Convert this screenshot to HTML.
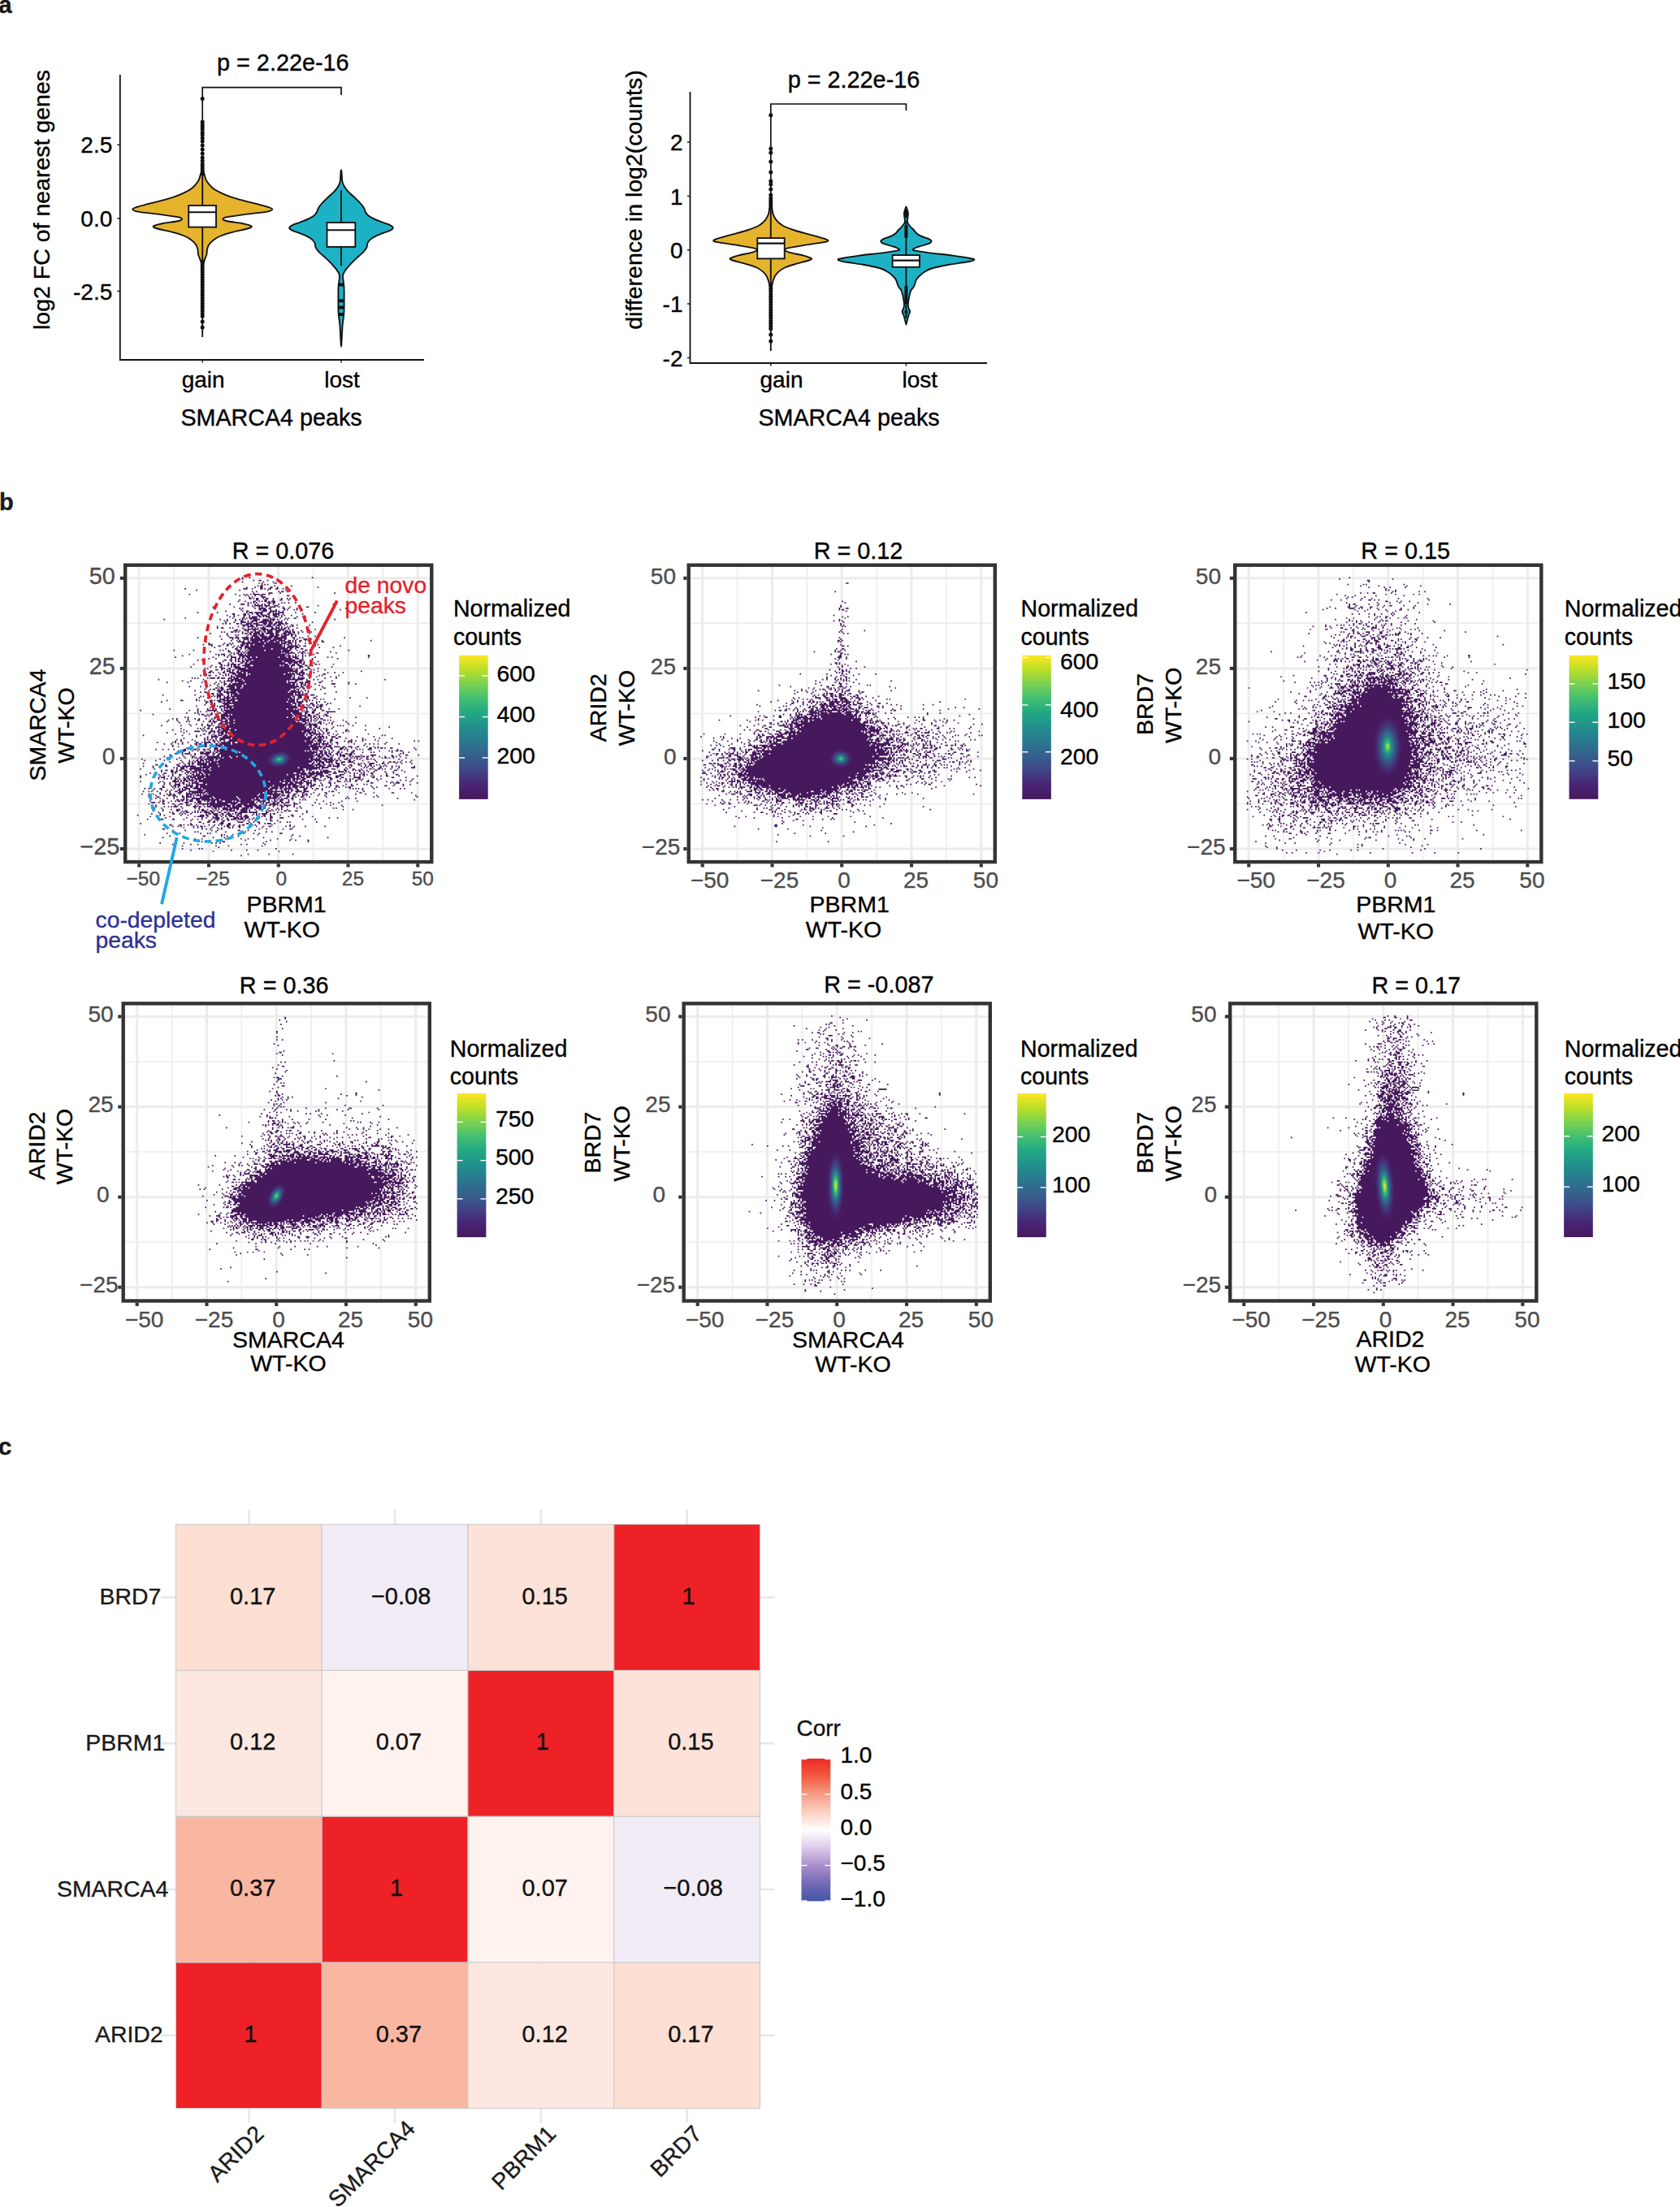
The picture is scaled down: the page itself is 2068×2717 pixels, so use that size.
<!DOCTYPE html>
<html lang="en"><head><meta charset="utf-8"><title>Figure</title>
<style>
html,body{margin:0;padding:0;background:#fff;}
body{width:2068px;height:2717px;overflow:hidden;}
svg{display:block;font-family:'Liberation Sans', Arial, Helvetica, sans-serif;}
text{stroke-width:0.35px;}
</style></head><body>
<svg width="2068" height="2717" viewBox="0 0 2068 2717">
<rect width="2068" height="2717" fill="#fff"/>
<text x="-1.8" y="15.7" font-size="29.5" text-anchor="start" fill="#1a1a1a" stroke="#1a1a1a" font-weight="bold">a</text>
<path d="M147.8 92V443H522" fill="none" stroke="#111" stroke-width="1.8"/>
<line x1="144.3" y1="178.2" x2="147.8" y2="178.2" stroke="#111" stroke-width="1.4"/>
<text x="138.3" y="188.2" font-size="28" text-anchor="end" fill="#000" stroke="#000">2.5</text>
<line x1="144.3" y1="268.8" x2="147.8" y2="268.8" stroke="#111" stroke-width="1.4"/>
<text x="138.3" y="278.8" font-size="28" text-anchor="end" fill="#000" stroke="#000">0.0</text>
<line x1="144.3" y1="358.5" x2="147.8" y2="358.5" stroke="#111" stroke-width="1.4"/>
<text x="138.3" y="368.5" font-size="28" text-anchor="end" fill="#000" stroke="#000">-2.5</text>
<line x1="249.2" y1="443.0" x2="249.2" y2="446.5" stroke="#111" stroke-width="1.4"/>
<text x="250.2" y="476.5" font-size="28" text-anchor="middle" fill="#000" stroke="#000">gain</text>
<line x1="420.0" y1="443.0" x2="420.0" y2="446.5" stroke="#111" stroke-width="1.4"/>
<text x="421.0" y="476.5" font-size="28" text-anchor="middle" fill="#000" stroke="#000">lost</text>
<text x="334.0" y="524.0" font-size="28.7" text-anchor="middle" fill="#000" stroke="#000">SMARCA4 peaks</text>
<text x="60.5" y="246.0" font-size="28.5" text-anchor="middle" fill="#000" stroke="#000" transform="rotate(-90 60.5 246.0)">log2 FC of nearest genes</text>
<text x="348.3" y="87.3" font-size="28.8" text-anchor="middle" fill="#000" stroke="#000">p = 2.22e-16</text>
<path d="M249.2 209V107.6H420V117" fill="none" stroke="#111" stroke-width="1.7"/>
<path d="M249.6 209.0C250.0 209.9 250.7 212.2 251.4 214.3C252.1 216.4 252.5 219.2 253.6 221.4C254.7 223.6 256.0 225.4 257.8 227.4C259.6 229.4 261.1 231.3 264.2 233.3C267.3 235.3 271.4 237.3 276.2 239.3C281.0 241.3 286.1 243.2 292.9 245.2C299.6 247.2 310.6 249.6 316.7 251.2C322.8 252.8 326.7 253.7 329.8 254.8C332.9 255.9 335.5 256.7 335.2 257.7C334.9 258.7 334.3 259.6 328.2 260.7C322.1 261.8 307.1 263.2 298.8 264.3C290.5 265.4 282.7 266.4 278.6 267.3C274.5 268.2 274.4 268.8 274.4 269.6C274.4 270.4 274.7 271.1 278.6 272.0C282.5 272.9 292.9 274.1 297.7 275.0C302.5 275.9 305.2 276.7 307.2 277.4C309.2 278.1 310.0 278.5 309.6 279.2C309.2 279.9 308.6 280.4 304.8 281.5C301.0 282.6 292.4 284.2 286.9 285.7C281.3 287.2 275.5 288.9 271.5 290.5C267.5 292.1 265.5 293.4 263.1 295.2C260.7 297.0 258.5 299.2 257.2 301.2C255.8 303.2 255.5 305.1 255.0 307.1C254.5 309.1 254.9 311.1 254.4 313.1C253.9 315.1 252.9 317.0 252.2 319.0C251.5 321.0 250.6 323.2 250.2 325.0C249.8 326.8 249.8 329.2 249.6 330.0C249.4 330.8 249.0 330.8 248.8 330.0C248.6 329.2 248.6 326.8 248.2 325.0C247.8 323.2 246.9 321.0 246.2 319.0C245.5 317.0 244.5 315.1 244.0 313.1C243.5 311.1 243.9 309.1 243.4 307.1C242.9 305.1 242.5 303.2 241.2 301.2C239.8 299.2 237.7 297.0 235.3 295.2C232.9 293.4 230.9 292.1 226.9 290.5C222.9 288.9 217.1 287.2 211.5 285.7C205.9 284.2 197.4 282.6 193.6 281.5C189.8 280.4 189.2 279.9 188.8 279.2C188.4 278.5 189.2 278.1 191.2 277.4C193.2 276.7 195.9 275.9 200.7 275.0C205.5 274.1 215.9 272.9 219.8 272.0C223.7 271.1 224.0 270.4 224.0 269.6C224.0 268.8 223.9 268.2 219.8 267.3C215.7 266.4 207.9 265.4 199.6 264.3C191.3 263.2 176.3 261.8 170.2 260.7C164.1 259.6 163.5 258.7 163.2 257.7C162.9 256.7 165.5 255.9 168.6 254.8C171.7 253.7 175.5 252.8 181.7 251.2C187.8 249.6 198.8 247.2 205.5 245.2C212.2 243.2 217.4 241.3 222.2 239.3C227.0 237.3 231.1 235.3 234.2 233.3C237.3 231.3 238.8 229.4 240.6 227.4C242.4 225.4 243.7 223.6 244.8 221.4C245.9 219.2 246.3 216.4 247.0 214.3C247.7 212.2 248.4 209.9 248.8 209.0C249.2 208.1 249.2 208.1 249.6 209.0Z" fill="#E5B32C" stroke="#111" stroke-width="1.85" stroke-linejoin="round"/>
<line x1="249.2" y1="209.0" x2="249.2" y2="415.0" stroke="#111" stroke-width="1.85"/>
<circle cx="249.2" cy="121.5" r="2.5" fill="#111"/>
<circle cx="249.2" cy="150.0" r="2.5" fill="#111"/>
<circle cx="249.2" cy="153.0" r="2.5" fill="#111"/>
<circle cx="249.2" cy="156.0" r="2.5" fill="#111"/>
<circle cx="249.2" cy="159.0" r="2.5" fill="#111"/>
<circle cx="249.2" cy="163.0" r="2.5" fill="#111"/>
<circle cx="249.2" cy="166.0" r="2.5" fill="#111"/>
<circle cx="249.2" cy="170.0" r="2.5" fill="#111"/>
<circle cx="249.2" cy="174.0" r="2.5" fill="#111"/>
<circle cx="249.2" cy="179.0" r="2.5" fill="#111"/>
<circle cx="249.2" cy="184.0" r="2.5" fill="#111"/>
<circle cx="249.2" cy="189.0" r="2.5" fill="#111"/>
<circle cx="249.2" cy="194.0" r="2.5" fill="#111"/>
<circle cx="249.2" cy="198.0" r="2.5" fill="#111"/>
<circle cx="249.2" cy="202.0" r="2.5" fill="#111"/>
<circle cx="249.2" cy="205.0" r="2.5" fill="#111"/>
<circle cx="249.2" cy="208.0" r="2.5" fill="#111"/>
<circle cx="249.2" cy="211.0" r="2.5" fill="#111"/>
<circle cx="249.2" cy="214.0" r="2.5" fill="#111"/>
<circle cx="249.2" cy="322.0" r="2.5" fill="#111"/>
<circle cx="249.2" cy="325.2" r="2.5" fill="#111"/>
<circle cx="249.2" cy="328.4" r="2.5" fill="#111"/>
<circle cx="249.2" cy="331.6" r="2.5" fill="#111"/>
<circle cx="249.2" cy="334.8" r="2.5" fill="#111"/>
<circle cx="249.2" cy="338.0" r="2.5" fill="#111"/>
<circle cx="249.2" cy="341.2" r="2.5" fill="#111"/>
<circle cx="249.2" cy="344.4" r="2.5" fill="#111"/>
<circle cx="249.2" cy="347.6" r="2.5" fill="#111"/>
<circle cx="249.2" cy="350.8" r="2.5" fill="#111"/>
<circle cx="249.2" cy="354.0" r="2.5" fill="#111"/>
<circle cx="249.2" cy="357.2" r="2.5" fill="#111"/>
<circle cx="249.2" cy="360.4" r="2.5" fill="#111"/>
<circle cx="249.2" cy="363.6" r="2.5" fill="#111"/>
<circle cx="249.2" cy="366.8" r="2.5" fill="#111"/>
<circle cx="249.2" cy="370.0" r="2.5" fill="#111"/>
<circle cx="249.2" cy="373.2" r="2.5" fill="#111"/>
<circle cx="249.2" cy="376.4" r="2.5" fill="#111"/>
<circle cx="249.2" cy="379.6" r="2.5" fill="#111"/>
<circle cx="249.2" cy="382.8" r="2.5" fill="#111"/>
<circle cx="249.2" cy="386.0" r="2.5" fill="#111"/>
<circle cx="249.2" cy="389.2" r="2.5" fill="#111"/>
<circle cx="249.2" cy="396.0" r="2.5" fill="#111"/>
<circle cx="249.2" cy="403.0" r="2.5" fill="#111"/>
<rect x="232.2" y="253.0" width="33.8" height="26.6" fill="#fff" stroke="#111" stroke-width="1.85"/>
<line x1="232.2" y1="261.2" x2="266.0" y2="261.2" stroke="#111" stroke-width="2.15"/>
<path d="M420.4 210.9C420.7 213.1 420.9 220.8 421.5 223.9C422.1 227.0 422.6 227.4 423.8 229.4C425.0 231.4 426.5 233.6 428.7 235.9C430.9 238.2 434.4 241.2 436.9 243.5C439.3 245.8 441.6 248.0 443.4 250.0C445.2 252.0 446.6 253.7 447.7 255.5C448.8 257.3 449.0 259.3 449.9 260.9C450.8 262.5 451.4 263.9 453.2 265.3C455.0 266.8 457.7 268.2 460.8 269.6C463.9 271.1 468.4 272.7 471.7 274.0C475.0 275.3 478.4 276.1 480.4 277.2C482.4 278.3 483.9 279.4 483.9 280.5C483.9 281.6 483.0 282.4 480.4 283.7C477.8 285.0 472.2 286.5 468.4 288.1C464.6 289.7 460.1 291.7 457.5 293.5C454.9 295.3 453.6 297.2 452.6 299.0C451.6 300.8 452.3 302.6 451.5 304.4C450.7 306.2 449.3 308.1 447.7 309.9C446.1 311.7 444.0 313.3 441.8 315.3C439.6 317.3 436.9 319.6 434.7 321.8C432.5 324.0 430.5 326.1 428.7 328.3C426.9 330.5 424.9 332.9 423.8 334.9C422.7 336.9 422.1 337.4 422.0 340.3C421.9 343.2 423.1 347.7 423.4 352.3C423.7 356.9 423.6 362.6 423.6 368.0C423.6 373.4 423.7 379.4 423.4 384.9C423.1 390.4 422.1 394.5 421.6 401.0C421.1 407.5 420.6 420.2 420.3 424.0C420.0 427.8 420.0 427.8 419.7 424.0C419.4 420.2 418.9 407.5 418.4 401.0C417.9 394.5 416.9 390.4 416.6 384.9C416.3 379.4 416.4 373.4 416.4 368.0C416.4 362.6 416.3 356.9 416.6 352.3C416.9 347.7 418.1 343.2 418.0 340.3C417.9 337.4 417.3 336.9 416.2 334.9C415.1 332.9 413.1 330.5 411.3 328.3C409.5 326.1 407.5 324.0 405.3 321.8C403.1 319.6 400.4 317.3 398.2 315.3C396.0 313.3 393.9 311.7 392.3 309.9C390.7 308.1 389.3 306.2 388.5 304.4C387.7 302.6 388.4 300.8 387.4 299.0C386.4 297.2 385.1 295.3 382.5 293.5C379.9 291.7 375.4 289.7 371.6 288.1C367.8 286.5 362.2 285.0 359.6 283.7C357.0 282.4 356.1 281.6 356.1 280.5C356.1 279.4 357.6 278.3 359.6 277.2C361.6 276.1 365.0 275.3 368.3 274.0C371.6 272.7 376.1 271.1 379.2 269.6C382.3 268.2 385.0 266.8 386.8 265.3C388.6 263.9 389.2 262.5 390.1 260.9C391.0 259.3 391.2 257.3 392.3 255.5C393.4 253.7 394.8 252.0 396.6 250.0C398.4 248.0 400.7 245.8 403.1 243.5C405.6 241.2 409.1 238.2 411.3 235.9C413.5 233.6 415.0 231.4 416.2 229.4C417.4 227.4 417.9 227.0 418.5 223.9C419.1 220.8 419.3 213.1 419.6 210.9C419.9 208.7 420.1 208.7 420.4 210.9Z" fill="#1DB1C5" stroke="#111" stroke-width="1.85" stroke-linejoin="round"/>
<line x1="420.0" y1="234.3" x2="420.0" y2="327.3" stroke="#111" stroke-width="1.85"/>
<rect x="416.6" y="348.6" width="6.8" height="4" rx="1.5" fill="#111"/>
<rect x="416.6" y="368.2" width="6.8" height="4" rx="1.5" fill="#111"/>
<rect x="416.6" y="376.4" width="6.8" height="4" rx="1.5" fill="#111"/>
<rect x="416.6" y="385.0" width="6.8" height="4" rx="1.5" fill="#111"/>
<rect x="402.5" y="274" width="34.8" height="29.9" fill="#fff" stroke="#111" stroke-width="1.85"/>
<line x1="402.5" y1="283.2" x2="437.3" y2="283.2" stroke="#111" stroke-width="2.1"/>
<path d="M849.5 113V447H1215" fill="none" stroke="#111" stroke-width="1.8"/>
<line x1="846.0" y1="175.0" x2="849.5" y2="175.0" stroke="#111" stroke-width="1.4"/>
<text x="840.5" y="185.0" font-size="28" text-anchor="end" fill="#000" stroke="#000">2</text>
<line x1="846.0" y1="241.5" x2="849.5" y2="241.5" stroke="#111" stroke-width="1.4"/>
<text x="840.5" y="251.5" font-size="28" text-anchor="end" fill="#000" stroke="#000">1</text>
<line x1="846.0" y1="307.8" x2="849.5" y2="307.8" stroke="#111" stroke-width="1.4"/>
<text x="840.5" y="317.8" font-size="28" text-anchor="end" fill="#000" stroke="#000">0</text>
<line x1="846.0" y1="374.0" x2="849.5" y2="374.0" stroke="#111" stroke-width="1.4"/>
<text x="840.5" y="384.0" font-size="28" text-anchor="end" fill="#000" stroke="#000">-1</text>
<line x1="846.0" y1="440.5" x2="849.5" y2="440.5" stroke="#111" stroke-width="1.4"/>
<text x="840.5" y="450.5" font-size="28" text-anchor="end" fill="#000" stroke="#000">-2</text>
<line x1="948.8" y1="447.0" x2="948.8" y2="450.5" stroke="#111" stroke-width="1.4"/>
<text x="962.0" y="476.5" font-size="28" text-anchor="middle" fill="#000" stroke="#000">gain</text>
<line x1="1115.4" y1="447.0" x2="1115.4" y2="450.5" stroke="#111" stroke-width="1.4"/>
<text x="1132.3" y="476.5" font-size="28" text-anchor="middle" fill="#000" stroke="#000">lost</text>
<text x="1045.0" y="524.0" font-size="28.7" text-anchor="middle" fill="#000" stroke="#000">SMARCA4 peaks</text>
<text x="790.0" y="246.0" font-size="28.5" text-anchor="middle" fill="#000" stroke="#000" transform="rotate(-90 790.0 246.0)">difference in log2(counts)</text>
<text x="1051.0" y="108.0" font-size="28.8" text-anchor="middle" fill="#000" stroke="#000">p = 2.22e-16</text>
<path d="M948.8 254V128H1115.4V136" fill="none" stroke="#111" stroke-width="1.7"/>
<path d="M949.2 251.0C949.5 251.7 949.9 253.3 950.3 255.2C950.6 257.1 950.7 260.1 951.3 262.3C951.9 264.5 952.7 266.5 953.8 268.3C954.9 270.1 956.0 271.7 957.9 273.4C959.8 275.1 961.6 276.8 965.0 278.5C968.4 280.2 972.9 281.8 978.1 283.5C983.3 285.2 991.0 287.1 996.4 288.6C1001.8 290.1 1006.7 291.4 1010.5 292.6C1014.3 293.8 1018.4 294.8 1019.1 295.7C1019.8 296.6 1019.2 297.2 1014.6 298.2C1010.0 299.2 998.7 300.5 991.3 301.7C983.9 302.9 974.3 304.3 970.1 305.3C965.9 306.3 965.7 306.9 966.0 307.8C966.3 308.7 968.4 309.7 972.1 310.8C975.8 311.9 984.1 313.3 988.3 314.4C992.5 315.5 995.6 316.6 997.4 317.4C999.2 318.1 999.4 318.3 998.9 318.9C998.4 319.5 997.6 320.0 994.3 321.0C991.0 322.0 983.7 323.7 979.2 325.0C974.6 326.3 970.4 327.5 967.0 329.0C963.6 330.5 961.0 332.4 958.9 334.1C956.8 335.8 955.6 337.4 954.4 339.2C953.2 341.0 952.5 343.2 951.8 345.2C951.1 347.2 950.7 349.5 950.3 351.3C949.9 353.1 949.5 355.2 949.2 356.0C948.9 356.8 948.7 356.8 948.4 356.0C948.1 355.2 947.7 353.1 947.3 351.3C946.9 349.5 946.5 347.2 945.8 345.2C945.1 343.2 944.4 341.0 943.2 339.2C942.0 337.4 940.8 335.8 938.7 334.1C936.6 332.4 934.0 330.5 930.6 329.0C927.2 327.5 922.9 326.3 918.4 325.0C913.9 323.7 906.6 322.0 903.3 321.0C900.0 320.0 899.2 319.5 898.7 318.9C898.2 318.3 898.4 318.1 900.2 317.4C902.0 316.6 905.1 315.5 909.3 314.4C913.5 313.3 921.8 311.9 925.5 310.8C929.2 309.7 931.3 308.7 931.6 307.8C931.9 306.9 931.7 306.3 927.5 305.3C923.3 304.3 913.7 302.9 906.3 301.7C898.9 300.5 887.6 299.2 883.0 298.2C878.4 297.2 877.8 296.6 878.5 295.7C879.2 294.8 883.3 293.8 887.1 292.6C890.9 291.4 895.8 290.1 901.2 288.6C906.6 287.1 914.3 285.2 919.5 283.5C924.7 281.8 929.2 280.2 932.6 278.5C936.0 276.8 937.8 275.1 939.7 273.4C941.6 271.7 942.7 270.1 943.8 268.3C944.9 266.5 945.7 264.5 946.3 262.3C946.9 260.1 946.9 257.1 947.3 255.2C947.6 253.3 948.1 251.7 948.4 251.0C948.7 250.3 948.9 250.3 949.2 251.0Z" fill="#E5B32C" stroke="#111" stroke-width="1.85" stroke-linejoin="round"/>
<line x1="948.8" y1="254.0" x2="948.8" y2="432.0" stroke="#111" stroke-width="1.85"/>
<circle cx="948.8" cy="141.7" r="2.5" fill="#111"/>
<circle cx="948.8" cy="183.0" r="2.5" fill="#111"/>
<circle cx="948.8" cy="188.0" r="2.5" fill="#111"/>
<circle cx="948.8" cy="199.0" r="2.5" fill="#111"/>
<circle cx="948.8" cy="212.0" r="2.5" fill="#111"/>
<circle cx="948.8" cy="223.0" r="2.5" fill="#111"/>
<circle cx="948.8" cy="227.0" r="2.5" fill="#111"/>
<circle cx="948.8" cy="233.0" r="2.5" fill="#111"/>
<circle cx="948.8" cy="240.0" r="2.5" fill="#111"/>
<circle cx="948.8" cy="244.0" r="2.5" fill="#111"/>
<circle cx="948.8" cy="247.0" r="2.5" fill="#111"/>
<circle cx="948.8" cy="250.0" r="2.5" fill="#111"/>
<circle cx="948.8" cy="253.0" r="2.5" fill="#111"/>
<circle cx="948.8" cy="352.0" r="2.5" fill="#111"/>
<circle cx="948.8" cy="355.3" r="2.5" fill="#111"/>
<circle cx="948.8" cy="358.6" r="2.5" fill="#111"/>
<circle cx="948.8" cy="361.9" r="2.5" fill="#111"/>
<circle cx="948.8" cy="365.2" r="2.5" fill="#111"/>
<circle cx="948.8" cy="368.5" r="2.5" fill="#111"/>
<circle cx="948.8" cy="371.8" r="2.5" fill="#111"/>
<circle cx="948.8" cy="375.1" r="2.5" fill="#111"/>
<circle cx="948.8" cy="378.4" r="2.5" fill="#111"/>
<circle cx="948.8" cy="381.7" r="2.5" fill="#111"/>
<circle cx="948.8" cy="385.0" r="2.5" fill="#111"/>
<circle cx="948.8" cy="388.3" r="2.5" fill="#111"/>
<circle cx="948.8" cy="391.6" r="2.5" fill="#111"/>
<circle cx="948.8" cy="394.9" r="2.5" fill="#111"/>
<circle cx="948.8" cy="398.2" r="2.5" fill="#111"/>
<circle cx="948.8" cy="401.5" r="2.5" fill="#111"/>
<circle cx="948.8" cy="404.8" r="2.5" fill="#111"/>
<circle cx="948.8" cy="412.0" r="2.5" fill="#111"/>
<circle cx="948.8" cy="420.0" r="2.5" fill="#111"/>
<rect x="932.3" y="293.1" width="33.4" height="25.3" fill="#fff" stroke="#111" stroke-width="1.85"/>
<line x1="932.3" y1="299.6" x2="965.7" y2="299.6" stroke="#111" stroke-width="2.15"/>
<path d="M1115.8 255.3C1116.3 256.5 1117.7 259.7 1117.9 262.6C1118.1 265.5 1116.5 270.2 1116.9 272.8C1117.3 275.4 1118.9 276.8 1120.2 278.5C1121.5 280.2 1123.3 281.5 1124.7 283.0C1126.1 284.5 1127.0 286.2 1128.6 287.5C1130.2 288.8 1132.0 289.9 1134.3 290.9C1136.6 291.9 1140.2 292.8 1142.2 293.7C1144.2 294.6 1146.3 295.6 1146.5 296.6C1146.7 297.6 1145.7 298.8 1143.3 299.9C1140.9 301.0 1135.1 302.2 1132.0 303.3C1128.9 304.4 1125.7 305.4 1124.7 306.2C1123.7 307.0 1122.5 307.5 1125.8 308.4C1129.1 309.2 1136.6 310.3 1144.4 311.3C1152.2 312.3 1164.4 313.5 1172.7 314.6C1181.0 315.7 1189.8 317.1 1194.2 318.0C1198.6 318.9 1199.5 319.0 1199.3 319.7C1199.1 320.4 1198.5 320.9 1193.1 322.0C1187.7 323.1 1174.8 324.6 1167.1 326.0C1159.4 327.4 1151.6 329.0 1146.7 330.5C1141.8 332.0 1140.2 333.5 1137.7 335.0C1135.2 336.5 1133.6 338.0 1132.0 339.5C1130.4 341.0 1129.0 342.5 1128.1 344.0C1127.2 345.5 1127.0 347.1 1126.4 348.6C1125.8 350.1 1125.5 351.6 1124.7 353.1C1123.9 354.6 1122.2 355.7 1121.3 357.6C1120.4 359.5 1120.0 361.8 1119.4 364.4C1118.8 367.0 1118.1 371.1 1117.9 373.5C1117.7 375.9 1118.0 377.4 1118.4 379.1C1118.8 380.8 1120.2 382.1 1120.2 383.6C1120.2 385.1 1119.2 385.8 1118.4 388.2C1117.7 390.6 1116.2 396.6 1115.7 398.3C1115.2 400.0 1115.7 400.0 1115.1 398.3C1114.6 396.6 1113.2 390.6 1112.4 388.2C1111.7 385.8 1110.6 385.1 1110.6 383.6C1110.6 382.1 1112.0 380.8 1112.4 379.1C1112.8 377.4 1113.1 375.9 1112.9 373.5C1112.7 371.1 1112.0 367.0 1111.4 364.4C1110.8 361.8 1110.4 359.5 1109.5 357.6C1108.6 355.7 1107.0 354.6 1106.1 353.1C1105.3 351.6 1105.0 350.1 1104.4 348.6C1103.8 347.1 1103.6 345.5 1102.7 344.0C1101.8 342.5 1100.4 341.0 1098.8 339.5C1097.2 338.0 1095.6 336.5 1093.1 335.0C1090.7 333.5 1089.0 332.0 1084.1 330.5C1079.2 329.0 1071.4 327.4 1063.7 326.0C1056.0 324.6 1043.1 323.1 1037.7 322.0C1032.3 320.9 1031.7 320.4 1031.5 319.7C1031.3 319.0 1032.2 318.9 1036.6 318.0C1041.0 317.1 1049.8 315.7 1058.1 314.6C1066.4 313.5 1078.6 312.3 1086.4 311.3C1094.2 310.3 1101.7 309.2 1105.0 308.4C1108.3 307.5 1107.1 307.0 1106.1 306.2C1105.1 305.4 1101.9 304.4 1098.8 303.3C1095.7 302.2 1089.9 301.0 1087.5 299.9C1085.1 298.8 1084.1 297.6 1084.3 296.6C1084.5 295.6 1086.6 294.6 1088.6 293.7C1090.6 292.8 1094.2 291.9 1096.5 290.9C1098.8 289.9 1100.6 288.8 1102.2 287.5C1103.8 286.2 1104.7 284.5 1106.1 283.0C1107.5 281.5 1109.3 280.2 1110.6 278.5C1111.9 276.8 1113.5 275.4 1113.9 272.8C1114.3 270.2 1112.7 265.5 1112.9 262.6C1113.1 259.7 1114.5 256.5 1115.0 255.3C1115.5 254.1 1115.3 254.1 1115.8 255.3Z" fill="#1DB1C5" stroke="#111" stroke-width="1.85" stroke-linejoin="round"/>
<line x1="1115.4" y1="272.0" x2="1115.4" y2="392.0" stroke="#111" stroke-width="1.85"/>
<circle cx="1115.4" cy="260.0" r="2.2" fill="#111"/>
<circle cx="1115.4" cy="263.0" r="2.2" fill="#111"/>
<circle cx="1115.4" cy="266.0" r="2.2" fill="#111"/>
<circle cx="1115.4" cy="279.0" r="2.2" fill="#111"/>
<circle cx="1115.4" cy="282.0" r="2.2" fill="#111"/>
<circle cx="1115.4" cy="285.0" r="2.2" fill="#111"/>
<circle cx="1115.4" cy="288.0" r="2.2" fill="#111"/>
<circle cx="1115.4" cy="291.0" r="2.2" fill="#111"/>
<circle cx="1115.4" cy="354.0" r="2.2" fill="#111"/>
<circle cx="1115.4" cy="357.0" r="2.2" fill="#111"/>
<circle cx="1115.4" cy="360.0" r="2.2" fill="#111"/>
<circle cx="1115.4" cy="363.0" r="2.2" fill="#111"/>
<circle cx="1115.4" cy="366.0" r="2.2" fill="#111"/>
<circle cx="1115.4" cy="369.0" r="2.2" fill="#111"/>
<circle cx="1115.4" cy="372.0" r="2.2" fill="#111"/>
<circle cx="1115.4" cy="384.0" r="2.2" fill="#111"/>
<rect x="1098.6" y="314.1" width="33.4" height="14.7" fill="#fff" stroke="#111" stroke-width="1.85"/>
<line x1="1098.6" y1="320.6" x2="1132.0" y2="320.6" stroke="#111" stroke-width="2.15"/>
<text x="-1.0" y="628.0" font-size="29" text-anchor="start" fill="#1a1a1a" stroke="#1a1a1a" font-weight="bold">b</text>
<defs><linearGradient id="virg" x1="0" y1="1" x2="0" y2="0"><stop offset="0.0" stop-color="#46195C"/><stop offset="0.1" stop-color="#482576"/><stop offset="0.2" stop-color="#414487"/><stop offset="0.3" stop-color="#35608D"/><stop offset="0.4" stop-color="#2A788E"/><stop offset="0.5" stop-color="#21908C"/><stop offset="0.6" stop-color="#22A884"/><stop offset="0.7" stop-color="#43BF71"/><stop offset="0.8" stop-color="#7AD151"/><stop offset="0.9" stop-color="#BBDF27"/><stop offset="1.0" stop-color="#FDE725"/></linearGradient></defs>
<rect x="154.0" y="695.5" width="377.5" height="365.8" fill="#fff"/>
<line x1="214.1" y1="696.5" x2="214.1" y2="1060.3" stroke="#ECECEC" stroke-width="1.5"/>
<line x1="299.9" y1="696.5" x2="299.9" y2="1060.3" stroke="#ECECEC" stroke-width="1.5"/>
<line x1="385.6" y1="696.5" x2="385.6" y2="1060.3" stroke="#ECECEC" stroke-width="1.5"/>
<line x1="471.4" y1="696.5" x2="471.4" y2="1060.3" stroke="#ECECEC" stroke-width="1.5"/>
<line x1="155.0" y1="767.3" x2="530.5" y2="767.3" stroke="#ECECEC" stroke-width="1.5"/>
<line x1="155.0" y1="878.4" x2="530.5" y2="878.4" stroke="#ECECEC" stroke-width="1.5"/>
<line x1="155.0" y1="989.5" x2="530.5" y2="989.5" stroke="#ECECEC" stroke-width="1.5"/>
<line x1="171.2" y1="696.5" x2="171.2" y2="1060.3" stroke="#ECECEC" stroke-width="3.0"/>
<line x1="257.0" y1="696.5" x2="257.0" y2="1060.3" stroke="#ECECEC" stroke-width="3.0"/>
<line x1="342.8" y1="696.5" x2="342.8" y2="1060.3" stroke="#ECECEC" stroke-width="3.0"/>
<line x1="428.5" y1="696.5" x2="428.5" y2="1060.3" stroke="#ECECEC" stroke-width="3.0"/>
<line x1="514.3" y1="696.5" x2="514.3" y2="1060.3" stroke="#ECECEC" stroke-width="3.0"/>
<line x1="155.0" y1="711.8" x2="530.5" y2="711.8" stroke="#ECECEC" stroke-width="3.0"/>
<line x1="155.0" y1="822.9" x2="530.5" y2="822.9" stroke="#ECECEC" stroke-width="3.0"/>
<line x1="155.0" y1="933.9" x2="530.5" y2="933.9" stroke="#ECECEC" stroke-width="3.0"/>
<line x1="155.0" y1="1045.0" x2="530.5" y2="1045.0" stroke="#ECECEC" stroke-width="3.0"/>
<path transform="translate(155.00 697.36) scale(1.72)" d="M83 8h1m4 0h1m15 0h1m28 0h1M83 9h1m24 0h1M91 10h1m3 0h2m4 0h1M83 11h1m14 0h1m6 0h1M95 12h1m1 0h1m8 0h2m3 0h1M97 13h1m1 0h1m1 0h1M74 14h1m19 0h1m1 0h2m8 0h1m11 0h1M86 15h1m5 0h1m3 0h2m5 0h2m3 0h1m28 0h1M42 16h1m41 0h3m3 0h1m5 0h2m1 0h1m2 0h2m3 0h2m3 0h1M50 17h1m30 0h1m19 0h1m12 0h1M90 18h1m2 0h1m15 0h1m1 0h2m2 0h1M91 19h1m10 0h3m5 0h1m38 0h1M45 20h1m32 0h1m5 0h1m1 0h1m2 0h1m1 0h5m1 0h3m2 0h1M81 21h1m3 0h1m1 0h1m4 0h1m3 0h2m17 0h2M88 22h1m1 0h1m6 0h3M67 23h1m20 0h2m1 0h1m1 0h2m3 0h1m1 0h2m3 0h1m5 0h1m3 0h1m1 0h1M81 24h1m11 0h2m4 0h2m4 0h1m4 0h2m4 0h1M80 25h1m4 0h1m5 0h2m2 0h1m1 0h1m1 0h2m1 0h1m1 0h3M87 26h1m1 0h1m1 0h1m1 0h1m7 0h3m1 0h2m4 0h1m1 0h1m2 0h1m4 0h1M74 27h1m7 0h3m2 0h1m4 0h1m1 0h1m2 0h1m1 0h1m2 0h1m2 0h1m3 0h1m38 0h1m15 0h1M87 28h1m2 0h1m1 0h6m1 0h4m3 0h3m28 0h1M62 29h1m14 0h1m13 0h1m3 0h1m1 0h1m2 0h1m2 0h4m2 0h1m2 0h1m4 0h1m11 0h2M81 30h1m1 0h1m8 0h1m2 0h5m2 0h2m8 0h2m2 0h1m5 0h1m34 0h1M82 31h1m12 0h2m1 0h3m2 0h1m3 0h1m5 0h1m1 0h1m4 0h1m1 0h1m30 0h1M71 32h1m11 0h1m2 0h2m9 0h4m2 0h5m1 0h1m2 0h1M51 33h1m13 0h1m20 0h1m1 0h3m1 0h6m4 0h2m1 0h1m1 0h1m1 0h4m8 0h1m13 0h1M76 34h2m6 0h2m1 0h1m2 0h1m2 0h2m1 0h2m3 0h2m2 0h5m2 0h1m13 0h1M72 35h1m4 0h1m2 0h1m3 0h2m2 0h1m5 0h2m1 0h4m1 0h1m2 0h3m1 0h1m1 0h1m1 0h1m4 0h1M74 36h1m2 0h1m6 0h1m3 0h1m1 0h4m1 0h2m1 0h1m1 0h3m3 0h3m2 0h1m10 0h1m5 0h1M42 37h1m33 0h1m6 0h2m1 0h1m1 0h6m8 0h2m1 0h1m4 0h1m3 0h1m1 0h1m3 0h2M27 38h1m39 0h1m4 0h1m5 0h1m2 0h1m1 0h1m1 0h1m3 0h1m1 0h5m2 0h4m1 0h4m1 0h1m4 0h1m1 0h1m33 0h1M70 39h1m1 0h1m5 0h1m3 0h2m3 0h1m2 0h4m3 0h7m1 0h1m3 0h1m1 0h1M71 40h1m5 0h1m4 0h4m1 0h1m1 0h2m2 0h1m1 0h6m1 0h3m2 0h5m2 0h1m18 0h1M69 41h1m1 0h1m2 0h1m4 0h2m1 0h1m3 0h4m1 0h4m3 0h3m1 0h3m1 0h2m1 0h4m1 0h2M83 42h5m1 0h2m2 0h5m1 0h1m1 0h3m1 0h2m1 0h3m2 0h1m4 0h2m2 0h1m8 0h1M65 43h1m14 0h1m3 0h1m2 0h5m1 0h1m4 0h1m1 0h5m2 0h1m1 0h1m1 0h1m3 0h1m1 0h1m1 0h1M65 44h1m2 0h2m4 0h1m1 0h1m6 0h1m3 0h1m2 0h1m1 0h1m1 0h1m1 0h4m4 0h2m1 0h3m1 0h1m1 0h2m1 0h1m5 0h1M79 45h1m4 0h2m1 0h8m2 0h5m1 0h5m1 0h5m2 0h1m2 0h1m15 0h1M77 46h3m1 0h1m3 0h3m3 0h2m2 0h2m1 0h2m1 0h4m2 0h4m1 0h1m1 0h2m1 0h1m1 0h1m5 0h1m5 0h1m7 0h1M68 47h1m1 0h1m4 0h2m1 0h1m1 0h1m2 0h1m3 0h1m1 0h2m1 0h4m1 0h1m1 0h1m1 0h4m2 0h3m3 0h5m1 0h2m2 0h1m2 0h1m5 0h1m6 0h1M60 48h1m11 0h1m10 0h1m1 0h2m1 0h2m1 0h5m1 0h2m1 0h6m1 0h2m3 0h3m1 0h3m1 0h1m2 0h1m7 0h1m7 0h1M72 49h1m5 0h1m1 0h1m6 0h1m1 0h1m1 0h3m1 0h4m4 0h3m1 0h3m1 0h1m1 0h4m1 0h2m1 0h1m15 0h1M67 50h1m5 0h1m5 0h1m6 0h1m3 0h5m1 0h5m1 0h7m2 0h4m3 0h1m2 0h1m8 0h1m4 0h1M51 51h1m22 0h3m1 0h3m2 0h5m1 0h2m1 0h4m1 0h8m1 0h9m4 0h2m3 0h1m1 0h1m29 0h1M68 52h1m7 0h1m3 0h1m3 0h4m1 0h15m1 0h7m1 0h2m5 0h1m1 0h1m4 0h3m2 0h1M75 53h1m3 0h1m1 0h1m2 0h1m2 0h1m1 0h9m1 0h3m1 0h5m1 0h5m2 0h2m1 0h1m1 0h1m2 0h2m2 0h1m1 0h2m8 0h1m34 0h1M57 54h1m22 0h5m2 0h2m1 0h5m1 0h5m1 0h4m1 0h3m1 0h1m1 0h5m1 0h1m1 0h1m2 0h1m9 0h1m5 0h2M59 55h1m10 0h1m3 0h1m1 0h1m6 0h16m1 0h10m1 0h4m1 0h3m2 0h1m6 0h1m3 0h1M55 56h1m3 0h3m7 0h1m2 0h2m1 0h1m6 0h3m1 0h2m1 0h2m1 0h20m1 0h1m1 0h2m1 0h1m2 0h1m1 0h1m13 0h1M61 57h1m4 0h2m4 0h1m4 0h1m2 0h1m1 0h2m1 0h3m1 0h9m1 0h13m1 0h1m2 0h7m1 0h1m2 0h2m6 0h1m17 0h1M63 58h1m12 0h1m2 0h1m1 0h2m2 0h29m1 0h5m1 0h3m14 0h1m9 0h1M71 59h1m6 0h2m2 0h1m2 0h1m1 0h17m1 0h11m1 0h2m2 0h1m3 0h2M34 60h1m13 0h1m18 0h1m1 0h1m3 0h1m5 0h3m4 0h1m1 0h11m1 0h11m1 0h6m4 0h1m5 0h2m29 0h1M60 61h1m12 0h2m5 0h2m1 0h1m1 0h1m1 0h30m1 0h1m5 0h1m1 0h2m18 0h1M75 62h1m1 0h1m1 0h2m1 0h1m1 0h1m1 0h25m1 0h1m1 0h7m2 0h1m1 0h2m1 0h1m1 0h1m5 0h2m12 0h1M45 63h1m18 0h1m1 0h1m1 0h3m3 0h1m2 0h1m2 0h4m1 0h1m1 0h28m1 0h1m4 0h1m4 0h1m4 0h1m2 0h1M40 64h1m25 0h1m3 0h1m2 0h1m1 0h1m5 0h33m1 0h3m1 0h1m1 0h1m1 0h1m2 0h1m1 0h1m2 0h1M35 65h1m26 0h1m9 0h1m2 0h4m2 0h1m1 0h2m1 0h3m1 0h3m1 0h15m1 0h5m1 0h2m1 0h4m3 0h1m8 0h1m8 0h1m2 0h1M59 66h1m4 0h1m10 0h1m2 0h1m1 0h2m1 0h1m1 0h1m1 0h32m2 0h3m2 0h1m6 0h1m17 0h1M51 67h1m2 0h1m15 0h2m2 0h2m2 0h1m1 0h1m2 0h1m1 0h5m1 0h30m3 0h3m6 0h1M56 68h1m12 0h1m5 0h1m2 0h1m1 0h2m1 0h2m1 0h2m1 0h23m1 0h13m1 0h1m9 0h1M66 69h2m5 0h1m2 0h1m5 0h2m1 0h2m1 0h26m2 0h3m1 0h3m1 0h2m1 0h1m6 0h1M48 70h1m18 0h2m4 0h1m1 0h4m1 0h2m3 0h31m1 0h1m1 0h2m1 0h2m2 0h2m7 0h2m1 0h1m9 0h1M61 71h1m6 0h1m1 0h1m1 0h2m1 0h1m1 0h2m1 0h1m2 0h6m2 0h19m1 0h1m1 0h4m1 0h3m2 0h3m2 0h2m1 0h1m1 0h1M46 72h1m13 0h1m3 0h1m2 0h2m6 0h1m1 0h5m3 0h32m1 0h1m5 0h3m3 0h1m16 0h1M56 73h1m1 0h1m9 0h3m2 0h2m3 0h8m1 0h32m1 0h1m1 0h1m1 0h1m5 0h2m5 0h1M64 74h2m2 0h1m3 0h1m1 0h1m1 0h2m2 0h40m1 0h2m3 0h1m1 0h2m2 0h1m1 0h1m7 0h1M60 75h2m8 0h1m1 0h3m1 0h1m2 0h2m1 0h41m2 0h2m10 0h1m30 0h1M59 76h2m1 0h1m3 0h1m2 0h2m3 0h4m1 0h4m1 0h2m1 0h29m1 0h1m1 0h1m1 0h2m1 0h4m6 0h1m9 0h1m4 0h1m5 0h1M57 77h1m9 0h1m3 0h1m1 0h1m2 0h3m1 0h6m1 0h1m1 0h24m1 0h7m1 0h3m1 0h2m1 0h1m1 0h1m9 0h2M53 78h1m3 0h1m1 0h2m3 0h1m4 0h1m1 0h1m1 0h1m1 0h1m2 0h8m1 0h32m1 0h1m3 0h3m3 0h1m7 0h1m1 0h1m11 0h1M66 79h1m8 0h3m1 0h40m1 0h1m2 0h1m2 0h1m9 0h1m9 0h1m3 0h1M47 80h1m1 0h1m1 0h1m6 0h1m1 0h4m1 0h2m1 0h3m2 0h3m1 0h4m1 0h36m1 0h2m2 0h5m3 0h1m10 0h1m7 0h1M23 81h1m31 0h1m17 0h1m1 0h8m1 0h43m2 0h1m4 0h1m2 0h1m47 0h1M40 82h1m5 0h1m9 0h2m9 0h1m2 0h1m1 0h5m1 0h6m1 0h30m1 0h1m4 0h2m6 0h3m8 0h1m6 0h1M29 83h1m14 0h1m9 0h1m9 0h1m3 0h1m1 0h1m4 0h1m2 0h1m1 0h35m1 0h6m2 0h3m1 0h4m6 0h2m19 0h1M63 84h1m2 0h1m3 0h2m2 0h1m1 0h9m1 0h32m1 0h2m1 0h1m2 0h2m1 0h1m6 0h1m11 0h3m9 0h1m4 0h1M60 85h1m4 0h1m4 0h1m2 0h10m1 0h37m1 0h1m2 0h1m1 0h2m2 0h1m6 0h1M45 86h1m7 0h1m12 0h1m1 0h1m3 0h6m1 0h4m1 0h40m1 0h2m2 0h1m2 0h1m7 0h1m8 0h1M57 87h1m6 0h2m1 0h3m4 0h4m1 0h3m1 0h39m2 0h1m1 0h2m3 0h1m9 0h2M56 88h1m3 0h1m1 0h2m2 0h1m1 0h2m2 0h46m2 0h1m1 0h2m3 0h1m7 0h1m3 0h1M49 89h1m9 0h1m5 0h4m1 0h1m1 0h1m2 0h42m1 0h4m1 0h1m1 0h1m2 0h1m1 0h1M53 90h1m2 0h2m8 0h2m2 0h9m1 0h36m1 0h8m1 0h1m3 0h1m19 0h1M58 91h2m1 0h2m2 0h1m1 0h2m3 0h2m1 0h5m1 0h39m1 0h1m1 0h2m1 0h1m1 0h2m12 0h1M26 92h1m22 0h1m12 0h1m2 0h5m3 0h1m1 0h1m1 0h43m1 0h7m4 0h3M53 93h1m1 0h1m5 0h1m1 0h1m1 0h3m2 0h1m1 0h2m1 0h43m1 0h2m2 0h3m3 0h2m5 0h1M52 94h1m5 0h1m6 0h1m1 0h1m2 0h5m1 0h2m1 0h40m1 0h1m2 0h3m3 0h2m3 0h2m24 0h1m11 0h1M50 95h1m16 0h4m1 0h2m1 0h41m1 0h4m1 0h2m3 0h2m1 0h1m5 0h1m2 0h1m1 0h1m7 0h1M29 96h1m9 0h2m9 0h1m1 0h1m3 0h1m3 0h2m1 0h1m1 0h3m1 0h9m2 0h41m1 0h1m3 0h1m1 0h2m1 0h1m1 0h1M25 97h1m31 0h2m1 0h2m4 0h3m1 0h1m1 0h3m1 0h39m1 0h5m1 0h5m2 0h1m6 0h1m1 0h1m3 0h1M57 98h1m5 0h1m5 0h49m1 0h3m1 0h3m6 0h2m2 0h1m7 0h1m1 0h1M56 99h1m6 0h1m6 0h4m3 0h42m2 0h1m1 0h2m4 0h1m1 0h1m1 0h2m2 0h1m1 0h2m2 0h1M50 100h1m11 0h2m1 0h1m1 0h4m1 0h50m1 0h3m1 0h1m2 0h1m3 0h1m1 0h1m1 0h3m26 0h1M60 101h1m1 0h1m4 0h1m2 0h6m1 0h46m2 0h5m1 0h2m3 0h2m1 0h1M31 102h1m19 0h1m6 0h1m3 0h1m1 0h1m3 0h1m1 0h1m1 0h1m1 0h41m1 0h4m1 0h1m1 0h1m2 0h1m2 0h1m3 0h1m1 0h1m3 0h1m5 0h1m6 0h1M10 103h1m34 0h1m5 0h1m6 0h7m3 0h1m1 0h54m1 0h1m1 0h1m1 0h1m4 0h2m4 0h2M51 104h1m1 0h1m3 0h1m5 0h1m1 0h1m3 0h1m1 0h53m2 0h1m1 0h3m2 0h2m8 0h7M43 105h1m5 0h1m1 0h1m9 0h1m4 0h2m2 0h48m1 0h7m2 0h2m3 0h2m3 0h1m5 0h1M19 106h1m32 0h1m1 0h2m2 0h1m1 0h2m3 0h1m2 0h5m1 0h1m1 0h43m1 0h6m2 0h1m1 0h2m4 0h2m4 0h2M56 107h2m1 0h1m6 0h1m1 0h52m1 0h8m1 0h3m1 0h2m2 0h1m2 0h1m1 0h2M42 108h1m1 0h1m18 0h4m1 0h3m1 0h1m1 0h41m1 0h3m1 0h1m1 0h4m2 0h2m2 0h1m1 0h1m1 0h1m1 0h1m7 0h1m17 0h1M33 109h1m2 0h1m7 0h1m4 0h1m2 0h1m4 0h1m3 0h1m1 0h1m1 0h2m1 0h4m1 0h49m2 0h5m1 0h1m1 0h1m2 0h1m1 0h1m1 0h2M30 110h1m5 0h1m7 0h1m6 0h2m7 0h1m1 0h1m2 0h4m2 0h2m1 0h3m1 0h43m1 0h9m1 0h1m1 0h1m1 0h1m4 0h2m1 0h1m1 0h1m8 0h1M29 111h1m7 0h1m5 0h1m1 0h1m9 0h1m3 0h2m1 0h3m3 0h5m1 0h48m1 0h1m2 0h3m1 0h1m1 0h1m2 0h1m2 0h2m8 0h1m8 0h1M38 112h1m22 0h1m1 0h1m3 0h2m2 0h6m1 0h48m2 0h2m1 0h1m5 0h3m1 0h1m3 0h1m1 0h1m10 0h1m5 0h1M45 113h1m4 0h1m3 0h1m3 0h1m2 0h1m4 0h7m1 0h55m1 0h7m2 0h1m3 0h1m3 0h1m11 0h1M25 114h1m13 0h1m6 0h1m7 0h1m3 0h3m1 0h1m3 0h1m1 0h1m1 0h1m1 0h56m1 0h1m1 0h2m1 0h3m14 0h1m1 0h1m1 0h1m6 0h1m8 0h1M56 115h1m2 0h1m4 0h5m1 0h59m2 0h2m2 0h2m1 0h1m9 0h1m39 0h1M39 116h1m11 0h1m1 0h1m1 0h1m2 0h2m1 0h1m2 0h1m1 0h1m1 0h6m1 0h54m1 0h1m1 0h1m1 0h1m2 0h2m2 0h1m1 0h1m3 0h1m33 0h1M33 117h1m7 0h1m12 0h1m1 0h1m4 0h1m4 0h2m1 0h9m1 0h54m1 0h2m3 0h1m3 0h2m12 0h2m12 0h1M39 118h1m3 0h1m5 0h4m2 0h1m1 0h1m2 0h4m1 0h2m1 0h5m2 0h51m1 0h5m1 0h1m1 0h1m1 0h1m2 0h1m2 0h1m6 0h1m6 0h1m1 0h1M29 119h1m11 0h1m17 0h2m2 0h1m2 0h4m1 0h3m1 0h54m1 0h6m2 0h1m2 0h1m2 0h2m9 0h1M35 120h1m9 0h1m9 0h2m2 0h1m2 0h1m3 0h1m1 0h2m1 0h1m1 0h1m1 0h53m1 0h1m1 0h2m1 0h6m1 0h1m2 0h1m3 0h1m2 0h1m21 0h1M12 121h1m27 0h1m9 0h1m2 0h1m7 0h1m1 0h2m1 0h3m1 0h3m1 0h54m1 0h1m2 0h2m2 0h1m1 0h1m1 0h1m4 0h1m4 0h1m32 0h1m1 0h1M50 122h1m7 0h1m2 0h5m3 0h60m1 0h3m2 0h1m1 0h5m1 0h1m3 0h3m2 0h2m11 0h1m11 0h1M41 123h1m14 0h1m1 0h1m2 0h1m2 0h1m2 0h8m1 0h57m1 0h3m1 0h2m1 0h1m1 0h1m3 0h1m2 0h2m5 0h1m11 0h1m11 0h1m8 0h1M36 124h1m2 0h1m7 0h1m8 0h1m1 0h1m1 0h1m1 0h1m1 0h1m2 0h4m3 0h58m1 0h2m2 0h4m5 0h2m13 0h1m7 0h1m1 0h1m6 0h1M35 125h1m3 0h1m9 0h1m6 0h1m2 0h1m2 0h2m1 0h1m1 0h1m2 0h1m2 0h55m1 0h5m1 0h1m1 0h3m1 0h2m3 0h2m8 0h1m2 0h3m2 0h1m4 0h1m10 0h1m25 0h1m2 0h1M22 126h1m10 0h1m1 0h1m4 0h1m3 0h1m5 0h2m2 0h1m1 0h5m2 0h1m2 0h1m1 0h7m1 0h2m2 0h54m2 0h1m1 0h2m1 0h1m2 0h1m1 0h1m3 0h2m7 0h1m1 0h1m24 0h1M27 127h1m4 0h1m4 0h1m2 0h1m8 0h2m1 0h2m2 0h2m3 0h1m2 0h2m1 0h8m1 0h57m1 0h5m1 0h5m2 0h1m3 0h1m11 0h1m7 0h1m2 0h1m2 0h1m2 0h1m4 0h1m9 0h1M33 128h1m12 0h1m3 0h1m4 0h3m3 0h1m2 0h5m1 0h61m1 0h5m1 0h1m2 0h1m1 0h1m1 0h2m23 0h1M33 129h1m3 0h1m14 0h1m3 0h2m4 0h1m1 0h1m1 0h3m1 0h71m1 0h5m2 0h4m2 0h2m2 0h3m3 0h2m5 0h1m4 0h1m2 0h1M43 130h1m7 0h1m8 0h1m2 0h3m2 0h1m1 0h62m1 0h5m1 0h1m1 0h2m3 0h2m5 0h3m1 0h1m3 0h1m2 0h1m9 0h2m2 0h1m1 0h1m1 0h2m1 0h1m3 0h2m15 0h1M21 131h1m4 0h1m3 0h1m3 0h1m6 0h2m3 0h1m1 0h3m1 0h1m2 0h2m1 0h2m3 0h3m1 0h4m1 0h60m1 0h5m3 0h1m2 0h1m2 0h1m5 0h2m1 0h1m1 0h1m6 0h1m1 0h1m1 0h1m3 0h3m18 0h1m12 0h1M37 132h1m2 0h3m4 0h1m3 0h1m4 0h1m3 0h1m2 0h1m1 0h63m1 0h1m1 0h2m1 0h1m1 0h1m1 0h3m1 0h1m2 0h1m2 0h1m3 0h1m5 0h1m3 0h2m17 0h1m6 0h1m1 0h1m2 0h2m1 0h2M37 133h1m2 0h1m4 0h1m7 0h3m1 0h4m1 0h1m1 0h2m1 0h14m1 0h55m2 0h2m1 0h2m1 0h1m1 0h1m3 0h2m1 0h1m6 0h2m6 0h1m5 0h1m1 0h1m12 0h1m7 0h1m3 0h1M35 134h2m3 0h1m1 0h4m3 0h1m3 0h7m2 0h2m2 0h69m1 0h1m1 0h3m1 0h2m1 0h2m3 0h2m1 0h1m3 0h2m1 0h2m1 0h1m32 0h1m1 0h1M31 135h2m7 0h1m5 0h1m2 0h1m7 0h2m3 0h1m2 0h2m1 0h66m1 0h4m1 0h2m1 0h2m1 0h1m1 0h1m2 0h1m1 0h4m2 0h3m6 0h1m6 0h4m11 0h1m4 0h1m4 0h2m7 0h1M27 136h1m13 0h1m5 0h2m4 0h2m1 0h1m1 0h9m1 0h6m1 0h4m1 0h55m2 0h4m3 0h2m1 0h1m5 0h1m1 0h2m3 0h1m1 0h1m1 0h4m1 0h2m1 0h2m2 0h1m4 0h1m3 0h1m4 0h2m1 0h1m2 0h1M29 137h1m8 0h1m3 0h1m4 0h1m1 0h2m1 0h2m1 0h1m2 0h11m1 0h5m1 0h58m2 0h1m1 0h2m1 0h2m3 0h2m4 0h1m5 0h1m2 0h1m1 0h1m1 0h1m2 0h1m3 0h1m10 0h1m1 0h2m1 0h1m2 0h1m8 0h1M11 138h1m12 0h1m6 0h1m4 0h1m14 0h1m1 0h2m1 0h7m1 0h2m1 0h64m1 0h7m1 0h8m1 0h1m2 0h1m3 0h3m1 0h1m4 0h1m1 0h1m4 0h2m1 0h1m1 0h1m17 0h1M13 139h1m7 0h1m5 0h1m11 0h1m5 0h1m2 0h1m1 0h2m1 0h3m1 0h1m1 0h4m1 0h1m1 0h68m1 0h5m2 0h2m1 0h4m1 0h2m1 0h1m5 0h2m2 0h1m5 0h1m8 0h1m18 0h1m6 0h1M31 140h1m8 0h1m4 0h1m1 0h1m1 0h1m1 0h3m1 0h1m1 0h3m1 0h72m1 0h1m1 0h1m1 0h4m1 0h5m2 0h1m3 0h3m2 0h4m10 0h1m5 0h1m4 0h1m3 0h2m1 0h2m1 0h1m1 0h1m3 0h1m2 0h1M12 141h1m25 0h1m2 0h1m2 0h2m1 0h2m2 0h7m1 0h6m1 0h65m2 0h2m2 0h2m1 0h2m3 0h1m1 0h1m2 0h3m1 0h1m8 0h1m2 0h1m1 0h1m1 0h1m3 0h4m5 0h2m2 0h1m5 0h1m3 0h1m6 0h1M21 142h2m2 0h1m2 0h1m7 0h2m4 0h1m2 0h1m1 0h1m3 0h7m1 0h75m1 0h5m1 0h2m2 0h2m1 0h1m2 0h2m2 0h2m3 0h2m4 0h2m3 0h1m2 0h2m3 0h1m1 0h1m3 0h1M12 143h1m6 0h1m4 0h1m3 0h2m7 0h2m1 0h10m3 0h1m1 0h11m1 0h68m1 0h1m1 0h4m2 0h3m1 0h5m6 0h1m1 0h1m6 0h1m2 0h1m1 0h1m1 0h1m1 0h1m4 0h1m1 0h1m1 0h1m3 0h1m2 0h1m1 0h1m10 0h1M19 144h1m14 0h1m1 0h1m2 0h3m1 0h1m2 0h14m1 0h62m1 0h15m1 0h5m6 0h1m5 0h1m2 0h1m9 0h1m1 0h1m3 0h1m4 0h2m7 0h1m4 0h1m8 0h3M10 145h1m9 0h1m15 0h1m2 0h3m3 0h9m1 0h1m1 0h2m1 0h67m2 0h8m1 0h1m1 0h1m6 0h3m6 0h1m1 0h1m3 0h2m4 0h1m5 0h2m1 0h1m2 0h2m1 0h1m1 0h1m3 0h1m4 0h1M25 146h1m2 0h2m2 0h2m2 0h1m1 0h2m2 0h2m2 0h1m2 0h11m1 0h67m1 0h1m1 0h2m6 0h1m1 0h4m7 0h1m3 0h2m4 0h1m1 0h1m1 0h2m1 0h1m2 0h1m5 0h2m12 0h2m3 0h1M25 147h1m6 0h2m1 0h2m3 0h1m2 0h3m1 0h4m1 0h2m1 0h70m1 0h2m3 0h1m1 0h2m1 0h2m1 0h8m2 0h1m2 0h4m1 0h1m1 0h1m7 0h1m2 0h1m2 0h1m3 0h1m7 0h1m5 0h1m7 0h1M17 148h1m9 0h2m4 0h1m1 0h1m6 0h1m1 0h1m1 0h1m1 0h1m1 0h1m1 0h3m1 0h64m2 0h7m1 0h11m1 0h3m3 0h3m5 0h1m3 0h1m2 0h1m1 0h1m2 0h1m1 0h1m4 0h2m9 0h1m4 0h1M14 149h1m8 0h1m2 0h1m6 0h1m4 0h2m3 0h1m3 0h2m1 0h3m1 0h2m1 0h2m1 0h55m1 0h8m1 0h5m1 0h4m1 0h5m4 0h2m6 0h3m7 0h1m3 0h1m1 0h2m1 0h1m3 0h1m9 0h1m6 0h2M10 150h1m13 0h1m2 0h1m2 0h1m2 0h1m4 0h1m5 0h3m1 0h73m1 0h4m1 0h1m1 0h4m2 0h2m2 0h3m1 0h2m5 0h4m6 0h1m2 0h1m3 0h1m2 0h1m4 0h1m1 0h1m4 0h1m3 0h2m7 0h1m12 0h1M10 151h1m8 0h1m3 0h1m1 0h3m4 0h1m2 0h1m1 0h1m3 0h1m1 0h2m1 0h4m1 0h5m1 0h64m1 0h2m1 0h3m1 0h3m1 0h3m3 0h1m4 0h3m3 0h2m2 0h2m7 0h5m8 0h2m12 0h2m8 0h1M23 152h1m3 0h1m1 0h1m2 0h1m2 0h2m1 0h1m2 0h2m1 0h2m1 0h1m1 0h5m1 0h63m1 0h6m1 0h3m5 0h4m4 0h1m3 0h2m5 0h1m3 0h1m2 0h1m1 0h1m3 0h2m1 0h1m9 0h1m2 0h1m22 0h1M34 153h2m1 0h1m1 0h1m1 0h3m1 0h4m1 0h1m1 0h61m1 0h4m1 0h2m1 0h1m2 0h3m2 0h1m1 0h1m1 0h2m2 0h2m1 0h1m4 0h1m4 0h1m5 0h1m2 0h1m3 0h2m2 0h1m4 0h1m6 0h1m15 0h1m3 0h1m3 0h1M10 154h1m13 0h1m1 0h1m6 0h5m1 0h1m1 0h1m1 0h2m2 0h1m1 0h2m1 0h50m1 0h7m1 0h8m1 0h3m1 0h2m1 0h4m1 0h1m2 0h1m9 0h1m5 0h3m2 0h1m1 0h1m1 0h1m3 0h1m7 0h2m12 0h1m3 0h1m3 0h1m8 0h1M23 155h1m3 0h1m3 0h1m3 0h1m2 0h1m1 0h2m3 0h1m1 0h5m3 0h57m2 0h2m1 0h3m1 0h6m2 0h4m6 0h1m5 0h2m2 0h1m25 0h2m12 0h1m1 0h1m1 0h3m12 0h1M27 156h1m3 0h1m3 0h4m2 0h1m1 0h1m1 0h1m1 0h1m2 0h7m1 0h64m2 0h2m3 0h2m1 0h1m1 0h2m4 0h1m5 0h1m10 0h1m3 0h1m3 0h1m4 0h1m1 0h1m19 0h1m5 0h1m4 0h1M26 157h1m5 0h1m1 0h2m1 0h2m4 0h5m2 0h2m1 0h52m1 0h9m1 0h2m1 0h5m1 0h1m1 0h1m2 0h1m1 0h3m3 0h1m1 0h1m5 0h1m3 0h2m3 0h1m5 0h2m12 0h1m9 0h2m4 0h1m6 0h1M26 158h2m5 0h1m1 0h1m1 0h1m3 0h3m2 0h2m1 0h3m1 0h50m1 0h5m1 0h3m1 0h1m1 0h2m1 0h4m1 0h4m1 0h1m2 0h1m10 0h1m1 0h1m4 0h1m1 0h1m4 0h1m1 0h2m15 0h1m2 0h1M13 159h1m2 0h1m3 0h1m3 0h2m8 0h1m3 0h1m1 0h1m1 0h4m2 0h6m1 0h47m1 0h6m1 0h2m1 0h6m2 0h2m4 0h3m3 0h1m2 0h2m2 0h1m8 0h1m10 0h1m1 0h1m1 0h1m1 0h1m2 0h1m7 0h1m10 0h1m7 0h1m2 0h1M19 160h1m5 0h1m3 0h1m2 0h1m4 0h2m1 0h3m2 0h1m5 0h5m1 0h48m2 0h1m3 0h1m1 0h2m1 0h1m1 0h2m2 0h2m3 0h2m6 0h1m4 0h1m9 0h1m18 0h1M12 161h1m3 0h1m1 0h1m3 0h1m5 0h1m2 0h1m3 0h2m1 0h3m4 0h10m1 0h44m1 0h12m1 0h3m1 0h1m2 0h5m1 0h4m14 0h1m1 0h2m16 0h1m4 0h1M24 162h1m6 0h1m5 0h3m3 0h1m1 0h1m1 0h10m1 0h40m1 0h6m1 0h2m3 0h2m1 0h4m4 0h1m3 0h2m6 0h1m7 0h2m8 0h1m14 0h2m8 0h1m12 0h2m12 0h1M11 163h1m4 0h1m2 0h1m4 0h1m4 0h1m1 0h2m1 0h1m3 0h1m4 0h5m1 0h1m1 0h1m1 0h1m1 0h1m1 0h1m1 0h36m1 0h15m1 0h1m3 0h1m3 0h2m4 0h1m1 0h2m2 0h1m5 0h1m4 0h1m20 0h1m6 0h1M16 164h1m4 0h1m5 0h1m2 0h2m1 0h3m4 0h1m2 0h2m1 0h1m1 0h1m1 0h4m1 0h39m1 0h6m2 0h1m1 0h5m1 0h3m1 0h2m2 0h2m2 0h1m2 0h2m1 0h1m7 0h1m4 0h1m5 0h1m30 0h1m27 0h1M16 165h1m5 0h2m10 0h1m1 0h1m3 0h2m1 0h4m1 0h1m4 0h9m1 0h16m1 0h19m2 0h3m1 0h4m1 0h1m4 0h2m2 0h1m1 0h1m3 0h2m4 0h1m11 0h1m14 0h1m18 0h1m2 0h1m27 0h1M21 166h1m2 0h1m4 0h1m4 0h1m6 0h1m1 0h1m3 0h13m1 0h2m1 0h16m1 0h11m1 0h2m1 0h3m1 0h8m1 0h1m1 0h1m1 0h3m2 0h2m7 0h1m29 0h1m1 0h1m4 0h1m29 0h1M26 167h1m9 0h2m1 0h3m1 0h2m1 0h2m2 0h3m1 0h13m1 0h13m1 0h8m1 0h5m2 0h2m1 0h2m3 0h1m1 0h1m1 0h3m3 0h1m2 0h1m4 0h1m1 0h1m1 0h1m7 0h1m69 0h1M17 168h1m6 0h1m1 0h2m4 0h1m2 0h1m1 0h2m1 0h1m2 0h1m1 0h3m3 0h3m2 0h1m1 0h2m1 0h3m1 0h4m2 0h5m1 0h1m1 0h13m2 0h6m2 0h1m1 0h1m1 0h2m2 0h2m4 0h1m24 0h1m12 0h1m10 0h1M18 169h3m2 0h1m2 0h1m3 0h1m11 0h3m4 0h1m1 0h3m4 0h1m1 0h4m1 0h15m2 0h10m1 0h1m2 0h1m1 0h1m1 0h3m2 0h2m1 0h2m1 0h2m1 0h3m3 0h1m3 0h1m10 0h1m10 0h1m5 0h1M16 170h1m9 0h2m5 0h2m3 0h3m2 0h1m2 0h1m3 0h1m1 0h21m2 0h4m1 0h7m1 0h5m4 0h2m1 0h1m2 0h6m4 0h1m6 0h3m15 0h1m4 0h1m4 0h1M21 171h1m13 0h1m1 0h1m5 0h3m3 0h1m1 0h1m3 0h1m2 0h1m1 0h15m1 0h2m1 0h4m1 0h10m1 0h2m2 0h2m1 0h2m1 0h2m1 0h1m1 0h2m1 0h5m2 0h1m12 0h1m12 0h1m7 0h1m28 0h1M21 172h1m5 0h1m2 0h1m1 0h1m1 0h3m2 0h1m8 0h3m1 0h2m2 0h1m1 0h3m1 0h7m1 0h1m1 0h3m1 0h7m2 0h6m1 0h5m1 0h2m5 0h1m5 0h2m2 0h1m4 0h1m3 0h1m30 0h1M18 173h1m1 0h1m4 0h1m14 0h1m8 0h1m2 0h1m8 0h1m1 0h2m1 0h1m2 0h4m1 0h7m2 0h5m1 0h2m2 0h4m1 0h2m2 0h1m5 0h1m2 0h1m10 0h1m2 0h1m13 0h1m8 0h1m1 0h1M26 174h1m5 0h1m3 0h3m13 0h1m1 0h2m2 0h1m3 0h1m1 0h1m1 0h1m2 0h7m1 0h1m1 0h2m1 0h5m1 0h1m3 0h1m2 0h2m4 0h1m2 0h1m2 0h1m1 0h1m1 0h1m3 0h1m39 0h1m6 0h1M19 175h1m6 0h1m9 0h2m2 0h1m1 0h2m5 0h1m1 0h1m2 0h4m2 0h2m1 0h1m1 0h1m2 0h1m3 0h1m1 0h4m4 0h5m1 0h1m4 0h1m3 0h1m2 0h1m1 0h2m1 0h1m7 0h2m1 0h2m3 0h2m6 0h1M23 176h1m7 0h1m1 0h1m5 0h1m1 0h1m1 0h2m2 0h1m1 0h1m1 0h1m1 0h1m2 0h4m1 0h2m3 0h2m2 0h2m1 0h1m4 0h2m1 0h6m1 0h6m6 0h2m6 0h1m2 0h1m17 0h1M18 177h1m5 0h1m8 0h2m3 0h1m1 0h1m1 0h1m3 0h1m10 0h1m1 0h2m1 0h4m2 0h2m2 0h3m1 0h1m1 0h1m1 0h3m8 0h1m1 0h1m1 0h1m1 0h4m2 0h1m1 0h2m19 0h1M8 178h1m15 0h1m2 0h1m11 0h1m4 0h1m8 0h3m1 0h2m4 0h3m1 0h1m1 0h1m1 0h1m1 0h3m3 0h2m1 0h1m2 0h2m3 0h1m2 0h1m4 0h2m3 0h1m6 0h1m7 0h2M17 179h1m13 0h1m17 0h1m1 0h5m2 0h1m3 0h1m1 0h2m2 0h1m2 0h1m2 0h4m1 0h1m1 0h2m1 0h4m9 0h1m1 0h1m3 0h2m11 0h1m2 0h1m4 0h1m8 0h1M28 180h1m14 0h1m10 0h1m2 0h1m4 0h5m2 0h1m2 0h1m4 0h4m1 0h2m1 0h3m3 0h1m1 0h1m1 0h1m7 0h2m5 0h3m32 0h1m5 0h1M15 181h1m8 0h3m6 0h2m6 0h1m5 0h1m3 0h1m2 0h1m6 0h1m2 0h3m1 0h1m3 0h2m1 0h4m1 0h4m1 0h1m2 0h1m1 0h1m3 0h1m5 0h1m2 0h1m22 0h1m8 0h1M46 182h1m12 0h2m2 0h1m1 0h1m3 0h2m2 0h1m5 0h1m4 0h1m2 0h1m4 0h1m10 0h2m3 0h1M52 183h2m4 0h2m2 0h2m4 0h2m10 0h4m4 0h1m2 0h1m2 0h2m14 0h1m4 0h1m1 0h1m18 0h1M10 184h1m35 0h1m8 0h1m11 0h3m3 0h2m11 0h2m1 0h1m5 0h1m3 0h1m1 0h3m2 0h1M31 185h2m5 0h2m1 0h1m2 0h1m1 0h2m2 0h1m8 0h1m3 0h1m2 0h1m1 0h1m3 0h3m2 0h1m3 0h1m1 0h2m3 0h1m1 0h1m1 0h1m11 0h1m12 0h1M33 186h1m3 0h1m1 0h1m8 0h1m2 0h1m1 0h2m1 0h1m5 0h1m7 0h1m1 0h2m2 0h1m3 0h2m7 0h1m3 0h1m4 0h1m3 0h2m10 0h1m2 0h1m2 0h1m7 0h1m13 0h1M41 187h1m6 0h1m2 0h1m2 0h1m6 0h1m3 0h1m2 0h1m4 0h2m1 0h1m4 0h1m15 0h1m21 0h1M26 188h2m26 0h1m2 0h1m2 0h1m5 0h1m1 0h1m26 0h1m4 0h1m11 0h1m4 0h2M33 189h1m8 0h1m18 0h1m3 0h1m14 0h2m5 0h1m4 0h1M49 190h1m1 0h1m12 0h1m6 0h1m13 0h1m14 0h1m3 0h1M29 191h1m8 0h1m14 0h1m4 0h1m1 0h1m23 0h1m6 0h1m3 0h1m14 0h2M13 192h1m54 0h1m1 0h1m5 0h1m17 0h1m24 0h1M31 193h1m23 0h2m11 0h1m3 0h1m2 0h1m4 0h1m37 0h1m5 0h1M26 194h1m35 0h1m7 0h1m27 0h1m45 0h1M44 195h1m4 0h1m4 0h1m16 0h1m10 0h1m4 0h1m3 0h1m16 0h1m9 0h1M49 196h1m35 0h1m17 0h1m13 0h1m3 0h1m8 0h1M54 197h1m14 0h2m29 0h1m29 0h1M24 198h1m16 0h1m19 0h1m2 0h1m2 0h1m30 0h1M33 199h1m12 0h1m4 0h1m30 0h1m3 0h1m12 0h1M40 200h1m23 0h1m8 0h1m23 0h1M66 201h1M40 202h1m11 0h1m1 0h1m52 0h1M46 203h1m28 0h1m10 0h1m7 0h1M62 204h1m46 0h1M87 206h1m14 0h1m16 0h1M82 207h1" stroke="#46195C" stroke-width="1" fill="none"/>
<defs><radialGradient id="gl1"><stop offset="0" stop-color="#7BE37E" stop-opacity="1"/><stop offset="0.07" stop-color="#3DBC74" stop-opacity="1"/><stop offset="0.18" stop-color="#1F9E89" stop-opacity="1"/><stop offset="0.36" stop-color="#2D708E" stop-opacity="0.95"/><stop offset="0.6" stop-color="#3E4989" stop-opacity="0.75"/><stop offset="0.85" stop-color="#472D7B" stop-opacity="0.35"/><stop offset="1" stop-color="#46195C" stop-opacity="0"/></radialGradient></defs>
<ellipse cx="343.8" cy="934.8" rx="16" ry="10.5" fill="url(#gl1)" transform="rotate(-12 343.8 934.8)"/>
<ellipse cx="317" cy="812" rx="66" ry="105.5" fill="none" stroke="#E3222B" stroke-width="3.7" stroke-dasharray="8.5 5.5"/>
<ellipse cx="256" cy="977" rx="71" ry="59" fill="none" stroke="#1FA7E0" stroke-width="3.7" stroke-dasharray="8.5 5.5"/>
<line x1="415.0" y1="739.5" x2="383.5" y2="799.5" stroke="#E3222B" stroke-width="3.8"/>
<rect x="154.2" y="695.7" width="377.1" height="365.4" fill="none" stroke="#333333" stroke-width="4.4"/>
<line x1="171.2" y1="1063.3" x2="171.2" y2="1067.5" stroke="#333333" stroke-width="4.1"/>
<text x="176.3" y="1089.5" font-size="24.5" text-anchor="middle" fill="#4D4D4D" stroke="#4D4D4D">−50</text>
<line x1="257.0" y1="1063.3" x2="257.0" y2="1067.5" stroke="#333333" stroke-width="4.1"/>
<text x="262.1" y="1089.5" font-size="24.5" text-anchor="middle" fill="#4D4D4D" stroke="#4D4D4D">−25</text>
<line x1="342.8" y1="1063.3" x2="342.8" y2="1067.5" stroke="#333333" stroke-width="4.1"/>
<text x="346.2" y="1089.5" font-size="24.5" text-anchor="middle" fill="#4D4D4D" stroke="#4D4D4D">0</text>
<line x1="428.5" y1="1063.3" x2="428.5" y2="1067.5" stroke="#333333" stroke-width="4.1"/>
<text x="434.5" y="1089.5" font-size="24.5" text-anchor="middle" fill="#4D4D4D" stroke="#4D4D4D">25</text>
<line x1="514.3" y1="1063.3" x2="514.3" y2="1067.5" stroke="#333333" stroke-width="4.1"/>
<text x="520.3" y="1089.5" font-size="24.5" text-anchor="middle" fill="#4D4D4D" stroke="#4D4D4D">50</text>
<line x1="147.8" y1="711.8" x2="152.0" y2="711.8" stroke="#333333" stroke-width="4.1"/>
<text x="141.8" y="718.5" font-size="28.8" text-anchor="end" fill="#4D4D4D" stroke="#4D4D4D">50</text>
<line x1="147.8" y1="822.9" x2="152.0" y2="822.9" stroke="#333333" stroke-width="4.1"/>
<text x="141.8" y="829.6" font-size="28.8" text-anchor="end" fill="#4D4D4D" stroke="#4D4D4D">25</text>
<line x1="147.8" y1="933.9" x2="152.0" y2="933.9" stroke="#333333" stroke-width="4.1"/>
<text x="141.8" y="940.6" font-size="28.8" text-anchor="end" fill="#4D4D4D" stroke="#4D4D4D">0</text>
<line x1="147.8" y1="1045.0" x2="152.0" y2="1045.0" stroke="#333333" stroke-width="4.1"/>
<text x="147.4" y="1051.7" font-size="28.8" text-anchor="end" fill="#4D4D4D" stroke="#4D4D4D">−25</text>
<text x="348.5" y="687.5" font-size="28.8" text-anchor="middle" fill="#000" stroke="#000">R = 0.076</text>
<text x="352.6" y="1122.5" font-size="28.5" text-anchor="middle" fill="#000" stroke="#000">PBRM1</text>
<text x="347.2" y="1154.3" font-size="28.5" text-anchor="middle" fill="#000" stroke="#000">WT-KO</text>
<text x="55.7" y="892.5" font-size="28.5" text-anchor="middle" fill="#000" stroke="#000" transform="rotate(-90 55.7 892.5)">SMARCA4</text>
<text x="91.3" y="893.0" font-size="28.5" text-anchor="middle" fill="#000" stroke="#000" transform="rotate(-90 91.3 893.0)">WT-KO</text>
<text x="557.9" y="759.1" font-size="28.6" text-anchor="start" fill="#000" stroke="#000">Normalized</text>
<text x="557.9" y="793.8" font-size="28.6" text-anchor="start" fill="#000" stroke="#000">counts</text>
<rect x="565.1" y="806.7" width="35.6" height="177.2" fill="url(#virg)"/>
<line x1="565.1" y1="831.9" x2="572.1" y2="831.9" stroke="#fff" stroke-width="1.4"/>
<line x1="593.7" y1="831.9" x2="600.7" y2="831.9" stroke="#fff" stroke-width="1.4"/>
<text x="611.5" y="838.7" font-size="28.4" text-anchor="start" fill="#000" stroke="#000">600</text>
<line x1="565.1" y1="882.5" x2="572.1" y2="882.5" stroke="#fff" stroke-width="1.4"/>
<line x1="593.7" y1="882.5" x2="600.7" y2="882.5" stroke="#fff" stroke-width="1.4"/>
<text x="611.5" y="889.3" font-size="28.4" text-anchor="start" fill="#000" stroke="#000">400</text>
<line x1="565.1" y1="932.9" x2="572.1" y2="932.9" stroke="#fff" stroke-width="1.4"/>
<line x1="593.7" y1="932.9" x2="600.7" y2="932.9" stroke="#fff" stroke-width="1.4"/>
<text x="611.5" y="939.7" font-size="28.4" text-anchor="start" fill="#000" stroke="#000">200</text>
<rect x="847.5" y="695.5" width="377.5" height="365.8" fill="#fff"/>
<line x1="907.6" y1="696.5" x2="907.6" y2="1060.3" stroke="#ECECEC" stroke-width="1.5"/>
<line x1="993.4" y1="696.5" x2="993.4" y2="1060.3" stroke="#ECECEC" stroke-width="1.5"/>
<line x1="1079.1" y1="696.5" x2="1079.1" y2="1060.3" stroke="#ECECEC" stroke-width="1.5"/>
<line x1="1164.9" y1="696.5" x2="1164.9" y2="1060.3" stroke="#ECECEC" stroke-width="1.5"/>
<line x1="848.5" y1="767.3" x2="1224.0" y2="767.3" stroke="#ECECEC" stroke-width="1.5"/>
<line x1="848.5" y1="878.4" x2="1224.0" y2="878.4" stroke="#ECECEC" stroke-width="1.5"/>
<line x1="848.5" y1="989.5" x2="1224.0" y2="989.5" stroke="#ECECEC" stroke-width="1.5"/>
<line x1="864.7" y1="696.5" x2="864.7" y2="1060.3" stroke="#ECECEC" stroke-width="3.0"/>
<line x1="950.5" y1="696.5" x2="950.5" y2="1060.3" stroke="#ECECEC" stroke-width="3.0"/>
<line x1="1036.2" y1="696.5" x2="1036.2" y2="1060.3" stroke="#ECECEC" stroke-width="3.0"/>
<line x1="1122.0" y1="696.5" x2="1122.0" y2="1060.3" stroke="#ECECEC" stroke-width="3.0"/>
<line x1="1207.8" y1="696.5" x2="1207.8" y2="1060.3" stroke="#ECECEC" stroke-width="3.0"/>
<line x1="848.5" y1="711.8" x2="1224.0" y2="711.8" stroke="#ECECEC" stroke-width="3.0"/>
<line x1="848.5" y1="822.9" x2="1224.0" y2="822.9" stroke="#ECECEC" stroke-width="3.0"/>
<line x1="848.5" y1="933.9" x2="1224.0" y2="933.9" stroke="#ECECEC" stroke-width="3.0"/>
<line x1="848.5" y1="1045.0" x2="1224.0" y2="1045.0" stroke="#ECECEC" stroke-width="3.0"/>
<path transform="translate(848.50 697.36) scale(1.72)" d="M112 12h2M104 18h1M109 25h1M111 26h1M108 28h1M108 29h1M107 30h1m4 0h2M107 31h1m1 0h2M112 32h1M103 35h1M109 36h1m3 0h1M111 37h1M107 38h1M103 39h1m3 0h1m1 0h1M110 40h1M108 41h1M108 42h1m1 0h1M109 43h1m1 0h1M109 45h1M108 46h1m16 0h1M107 47h1m1 0h1M110 48h1m2 0h1M107 51h1M108 52h1M106 53h2m1 0h1M106 54h1m1 0h1M108 56h1M109 57h2m2 0h1M105 59h1m3 0h2M104 60h1m3 0h1m2 0h1M89 61h1m14 0h1m1 0h2M108 62h2M101 63h1m6 0h1m2 0h1m1 0h1M107 64h2M106 65h3m3 0h1M104 66h1m2 0h1m4 0h1M106 67h1M119 68h1M104 69h2m1 0h1M101 70h1m3 0h1m1 0h1m3 0h1M109 71h1m3 0h1M106 72h1m2 0h1m15 0h1M107 73h1m7 0h1m3 0h1M100 74h1m6 0h1m1 0h1m2 0h1M104 75h1m4 0h2m1 0h1m1 0h1M105 76h1m1 0h1m1 0h1m4 0h1M79 77h1m18 0h1m10 0h1m2 0h1m8 0h1m11 0h1M101 78h1m6 0h1m1 0h1m6 0h1M98 79h1m6 0h1m5 0h2M98 80h1m5 0h1m3 0h1m3 0h1m1 0h1M95 81h1m2 0h1m5 0h1m1 0h1m1 0h1m1 0h1m1 0h1m6 0h1M90 82h1m14 0h1m4 0h1m1 0h1m1 0h1m29 0h1M93 83h1m10 0h1m2 0h1m9 0h1M90 84h1m16 0h2m3 0h1m8 0h1M64 85h1m29 0h1m7 0h2m4 0h1m18 0h1m1 0h1M72 86h1m25 0h2m7 0h3m2 0h1m2 0h1m27 0h1M85 87h1m3 0h1m9 0h1m1 0h1m1 0h1m2 0h1m3 0h2m35 0h1M80 88h1m7 0h1m4 0h1m1 0h2m3 0h2m2 0h1m2 0h1m1 0h1m4 0h1M49 89h1m25 0h1m4 0h1m2 0h1m6 0h1m6 0h1m6 0h1m1 0h1m2 0h1m2 0h3m6 0h1m22 0h1M77 90h1m6 0h1m3 0h1m9 0h1m6 0h1m3 0h1m1 0h1m9 0h1m1 0h2M75 91h1m11 0h1m8 0h1m1 0h1m1 0h3m4 0h2m2 0h1m2 0h2m6 0h1M89 92h1m2 0h1m2 0h2m1 0h1m2 0h2m1 0h1m2 0h4m2 0h1m5 0h2M88 93h1m1 0h1m5 0h2m3 0h2m1 0h2m1 0h2m6 0h1m1 0h2m1 0h1m5 0h1m8 0h1M74 94h1m3 0h1m11 0h4m3 0h3m2 0h1m4 0h5m4 0h1m2 0h3m1 0h1m7 0h1M75 95h1m5 0h1m2 0h1m2 0h1m5 0h1m4 0h1m1 0h1m2 0h3m2 0h5m2 0h1m5 0h2m1 0h1m16 0h1m1 0h1m53 0h1M63 96h1m9 0h1m3 0h1m8 0h1m1 0h1m9 0h3m1 0h1m1 0h2m2 0h2m1 0h3m4 0h1m2 0h1m11 0h1M58 97h1m15 0h1m2 0h1m3 0h1m3 0h2m1 0h2m1 0h1m1 0h1m1 0h1m4 0h8m1 0h7m1 0h1m2 0h1m6 0h1m51 0h1M69 98h1m3 0h2m6 0h1m5 0h1m3 0h1m2 0h1m1 0h2m2 0h4m1 0h2m2 0h1m2 0h3m2 0h1m2 0h4m5 0h1m5 0h2m4 0h1M48 99h1m23 0h1m8 0h1m2 0h1m5 0h1m2 0h6m1 0h4m2 0h3m1 0h3m1 0h2m1 0h3m2 0h1m4 0h1m2 0h1m13 0h1m3 0h1m18 0h1m6 0h1M50 100h1m16 0h1m1 0h1m9 0h1m6 0h1m1 0h2m4 0h3m1 0h8m2 0h4m1 0h2m6 0h1m1 0h1m10 0h2m2 0h1m12 0h1M64 101h1m11 0h1m8 0h2m1 0h1m1 0h2m2 0h3m1 0h1m2 0h1m1 0h2m1 0h3m1 0h1m1 0h1m1 0h2m5 0h2m2 0h3m7 0h1m2 0h1m51 0h1m5 0h1M69 102h1m1 0h1m3 0h1m1 0h1m4 0h1m4 0h2m2 0h1m1 0h1m1 0h3m1 0h1m2 0h4m1 0h1m1 0h5m1 0h3m1 0h1m1 0h1m2 0h1m5 0h1m14 0h1m5 0h1m15 0h1m17 0h1m21 0h1M61 103h1m2 0h2m2 0h2m4 0h1m2 0h1m3 0h1m1 0h1m2 0h3m1 0h3m1 0h15m1 0h3m1 0h1m3 0h3m5 0h1m1 0h2m1 0h1m12 0h1m1 0h2m31 0h1M49 104h1m27 0h1m1 0h1m1 0h1m3 0h6m1 0h4m1 0h1m1 0h3m4 0h2m1 0h2m1 0h6m1 0h3m1 0h2m2 0h2m6 0h1M76 105h1m1 0h1m7 0h7m1 0h5m1 0h9m2 0h5m3 0h2m2 0h1m1 0h5m1 0h1m1 0h1m6 0h1m3 0h1m25 0h1m8 0h1M67 106h1m4 0h1m3 0h1m1 0h3m3 0h5m1 0h1m1 0h19m1 0h5m1 0h2m2 0h1m3 0h1m1 0h1m2 0h2m37 0h1m29 0h1M29 107h1m20 0h1m2 0h1m6 0h1m3 0h2m6 0h1m3 0h3m1 0h1m1 0h2m3 0h6m1 0h26m1 0h2m3 0h1m6 0h1m59 0h1M47 108h1m6 0h2m8 0h2m7 0h1m1 0h1m1 0h8m1 0h2m1 0h2m1 0h1m1 0h24m1 0h1m1 0h1m5 0h1m4 0h1m1 0h1m11 0h1m9 0h1m4 0h1m2 0h1m2 0h1M49 109h1m22 0h1m1 0h1m1 0h4m1 0h13m1 0h28m3 0h1m3 0h1m11 0h1m4 0h1m19 0h1m14 0h1m20 0h1M21 110h1m19 0h1m5 0h1m1 0h1m2 0h1m7 0h1m9 0h1m3 0h4m2 0h1m1 0h3m1 0h2m1 0h27m1 0h6m4 0h1m1 0h2m3 0h1m1 0h1m25 0h1m4 0h2m6 0h1m3 0h1m4 0h1m4 0h1M43 111h1m21 0h2m1 0h1m1 0h1m2 0h2m1 0h1m1 0h7m1 0h36m3 0h3m1 0h1m1 0h1m1 0h3m1 0h1m11 0h1m14 0h1m11 0h1m4 0h1m2 0h1M57 112h2m4 0h1m5 0h1m3 0h5m2 0h43m1 0h4m1 0h3m1 0h1m3 0h3m2 0h1m10 0h1m7 0h1m11 0h1m9 0h1m8 0h1M49 113h1m8 0h1m1 0h1m2 0h1m3 0h1m1 0h1m1 0h3m1 0h51m6 0h1m5 0h1m3 0h1m6 0h2m2 0h1m12 0h1m6 0h1m29 0h1m5 0h1M36 114h1m9 0h1m6 0h2m9 0h5m1 0h1m1 0h2m2 0h5m1 0h47m1 0h1m3 0h1m4 0h2m4 0h1m1 0h2m8 0h1m17 0h2m4 0h1M41 115h1m10 0h1m4 0h2m9 0h3m1 0h2m1 0h4m1 0h46m1 0h1m1 0h4m2 0h2m3 0h2m9 0h1m3 0h2m11 0h1m9 0h1m22 0h1M54 116h2m15 0h4m2 0h50m1 0h5m1 0h1m1 0h2m1 0h1m1 0h1m2 0h1m10 0h1m4 0h1m1 0h1m2 0h2m10 0h2m7 0h1m2 0h1m10 0h1M39 117h1m3 0h1m4 0h2m6 0h1m3 0h1m4 0h1m2 0h1m3 0h2m1 0h1m2 0h50m1 0h8m7 0h2m3 0h1m7 0h1m3 0h1m7 0h1m3 0h1M47 118h1m2 0h2m2 0h1m7 0h3m4 0h2m1 0h4m1 0h2m1 0h43m1 0h1m1 0h1m1 0h8m3 0h3m1 0h2m1 0h1m1 0h1m1 0h1m4 0h1m7 0h2m6 0h1m6 0h1m8 0h1m1 0h1m17 0h1M46 119h1m9 0h1m7 0h2m2 0h57m1 0h4m2 0h1m1 0h2m1 0h1m3 0h1m1 0h1m10 0h3m4 0h2m3 0h1m1 0h4m2 0h1m4 0h1m4 0h1m1 0h1m14 0h1M10 120h1m14 0h1m10 0h1m9 0h1m2 0h1m2 0h1m4 0h2m2 0h3m1 0h5m1 0h2m1 0h2m1 0h50m2 0h3m2 0h2m2 0h1m6 0h2m1 0h1m1 0h1m1 0h1m6 0h1m2 0h1m13 0h2m20 0h1M49 121h2m1 0h2m5 0h1m3 0h4m4 0h57m1 0h5m2 0h5m2 0h1m2 0h1m2 0h1m6 0h1m1 0h1m4 0h2m1 0h2m2 0h2m9 0h1m8 0h1m1 0h1m4 0h1m9 0h1m1 0h1M8 122h1m13 0h1m1 0h1m23 0h1m1 0h2m3 0h6m1 0h6m2 0h61m5 0h1m1 0h1m5 0h1m1 0h1m4 0h1m9 0h1m2 0h1m2 0h1m1 0h1m4 0h1m3 0h1m3 0h1m5 0h1m11 0h1M17 123h1m6 0h1m5 0h1m5 0h1m11 0h1m1 0h1m4 0h2m1 0h1m1 0h3m3 0h7m1 0h54m1 0h1m4 0h2m1 0h1m1 0h1m1 0h1m1 0h3m2 0h2m3 0h1m6 0h1m2 0h3m4 0h1m3 0h1m1 0h1m6 0h1M23 124h1m10 0h1m7 0h1m4 0h2m2 0h1m3 0h1m1 0h1m2 0h1m1 0h4m4 0h57m1 0h4m1 0h3m1 0h1m2 0h6m2 0h1m1 0h2m1 0h2m6 0h1m4 0h2m9 0h1m3 0h1m4 0h1m14 0h1m2 0h1M17 125h1m9 0h1m6 0h1m8 0h1m2 0h1m3 0h2m1 0h1m1 0h1m1 0h2m1 0h1m1 0h4m1 0h62m1 0h1m2 0h4m4 0h2m3 0h1m1 0h1m1 0h1m2 0h1m5 0h1m6 0h1m1 0h1m1 0h1m1 0h1m17 0h1m1 0h1M19 126h1m17 0h1m4 0h1m8 0h2m1 0h1m2 0h2m1 0h3m3 0h68m1 0h1m3 0h4m1 0h2m3 0h1m1 0h2m3 0h1m5 0h1m6 0h1m2 0h1m4 0h1m5 0h1M21 127h1m8 0h1m8 0h1m3 0h1m12 0h1m1 0h8m1 0h63m1 0h13m8 0h5m3 0h1m1 0h1m1 0h1m2 0h1m1 0h1m2 0h1m7 0h1m9 0h1m5 0h1M15 128h1m3 0h1m2 0h1m5 0h1m13 0h3m1 0h1m1 0h1m1 0h6m1 0h3m2 0h67m1 0h3m1 0h7m1 0h2m1 0h3m1 0h1m1 0h2m1 0h1m1 0h1m1 0h1m1 0h1m2 0h1m3 0h2m1 0h1m1 0h2m1 0h1m7 0h2m2 0h2m1 0h1m3 0h2m1 0h1M24 129h1m14 0h1m5 0h4m3 0h84m1 0h2m7 0h1m1 0h4m1 0h1m5 0h1m7 0h1m5 0h1m1 0h1m3 0h1m15 0h1M18 130h1m10 0h4m3 0h1m9 0h6m1 0h2m1 0h1m1 0h78m1 0h1m1 0h6m1 0h2m1 0h2m1 0h1m7 0h1m6 0h4m1 0h2m2 0h2m1 0h1m7 0h1m4 0h1m1 0h1M16 131h2m3 0h1m6 0h1m2 0h2m3 0h1m3 0h1m1 0h3m3 0h1m3 0h2m2 0h1m2 0h74m1 0h5m1 0h2m2 0h1m1 0h1m2 0h1m1 0h1m1 0h1m1 0h1m3 0h1m2 0h1m3 0h1m8 0h2m10 0h2m4 0h1m1 0h1m2 0h1m1 0h1M9 132h1m11 0h1m10 0h1m4 0h1m2 0h1m1 0h1m3 0h1m1 0h85m1 0h7m1 0h1m1 0h1m3 0h1m1 0h3m1 0h3m1 0h1m3 0h1m1 0h1m4 0h1m2 0h1m1 0h1m10 0h1m12 0h2M14 133h1m10 0h1m2 0h1m2 0h1m2 0h1m3 0h1m1 0h2m3 0h3m1 0h1m1 0h1m1 0h87m1 0h2m1 0h2m1 0h2m1 0h1m4 0h1m2 0h1m4 0h1m4 0h1m1 0h3m16 0h2m15 0h1M17 134h1m1 0h2m2 0h1m2 0h2m1 0h3m2 0h1m1 0h1m3 0h1m4 0h6m1 0h5m1 0h76m1 0h8m1 0h1m1 0h1m6 0h1m6 0h2m2 0h2m3 0h1m4 0h1m3 0h1m4 0h1m1 0h2m1 0h1m5 0h2M15 135h1m3 0h1m3 0h1m4 0h2m2 0h3m4 0h1m3 0h5m2 0h1m1 0h90m1 0h1m1 0h2m1 0h1m2 0h1m1 0h2m7 0h2m1 0h1m3 0h2m4 0h1m11 0h1m11 0h2M12 136h2m10 0h1m3 0h2m4 0h3m1 0h1m5 0h2m1 0h2m1 0h2m1 0h78m1 0h4m7 0h1m1 0h1m10 0h1m3 0h1m3 0h1m2 0h3m1 0h1m3 0h1m2 0h1m1 0h1m1 0h1m13 0h1m1 0h1m7 0h1M12 137h1m8 0h4m1 0h2m7 0h3m1 0h1m1 0h1m2 0h7m1 0h89m1 0h3m1 0h1m2 0h5m1 0h2m7 0h1m2 0h1m1 0h1m2 0h2m7 0h1m3 0h1m1 0h1m6 0h1M20 138h1m7 0h1m1 0h3m1 0h5m1 0h1m1 0h1m1 0h5m1 0h95m1 0h1m1 0h1m5 0h1m2 0h1m1 0h1m21 0h3m10 0h1M9 139h1m6 0h1m3 0h1m3 0h1m3 0h2m2 0h1m2 0h2m1 0h1m2 0h2m1 0h3m1 0h85m2 0h4m3 0h2m1 0h2m1 0h1m2 0h2m1 0h1m7 0h2m5 0h1m4 0h1m2 0h3m11 0h1m7 0h1m1 0h1M27 140h1m7 0h1m3 0h2m1 0h1m1 0h1m1 0h87m1 0h1m3 0h3m1 0h1m1 0h1m1 0h1m3 0h1m1 0h1m4 0h1m7 0h1m10 0h1m5 0h1m3 0h1m1 0h2m3 0h1m1 0h1m2 0h1m2 0h1M14 141h2m1 0h2m1 0h1m4 0h2m1 0h1m3 0h2m2 0h1m4 0h5m1 0h89m2 0h1m1 0h4m4 0h1m1 0h1m1 0h1m5 0h1m1 0h1m8 0h1m5 0h1m3 0h1m13 0h1m3 0h1M10 142h2m4 0h1m3 0h4m5 0h1m2 0h2m1 0h3m1 0h1m1 0h1m1 0h1m2 0h80m1 0h1m2 0h1m1 0h1m1 0h1m1 0h2m1 0h1m1 0h2m3 0h1m2 0h1m3 0h1m9 0h1m3 0h3m1 0h1m3 0h2m3 0h1m1 0h1m1 0h1m8 0h1m6 0h1M17 143h1m4 0h3m1 0h1m1 0h1m2 0h3m2 0h2m2 0h91m1 0h4m2 0h1m1 0h1m1 0h1m2 0h1m1 0h1m3 0h1m1 0h3m3 0h2m2 0h1m2 0h1m3 0h1m3 0h1m1 0h1m10 0h1M11 144h1m6 0h1m4 0h1m1 0h1m7 0h1m1 0h2m1 0h1m1 0h94m1 0h3m1 0h3m6 0h1m13 0h1m3 0h1m3 0h1m2 0h1m4 0h1m3 0h1m1 0h1m7 0h1m4 0h1M14 145h1m1 0h1m8 0h1m1 0h1m1 0h4m2 0h1m1 0h3m1 0h84m1 0h3m1 0h2m5 0h2m2 0h2m1 0h3m8 0h2m1 0h1m30 0h1m1 0h1m1 0h1m9 0h1M9 146h1m3 0h1m4 0h1m1 0h1m2 0h1m1 0h1m5 0h3m2 0h1m1 0h92m1 0h7m6 0h2m2 0h4m4 0h1m2 0h1m4 0h2m8 0h2m11 0h1m12 0h1m7 0h1M10 147h1m9 0h1m1 0h3m3 0h1m4 0h2m2 0h2m1 0h92m4 0h1m1 0h1m4 0h1m2 0h4m3 0h2m3 0h1m1 0h3m2 0h2m4 0h2m2 0h2m14 0h1m6 0h1M9 148h3m3 0h1m5 0h1m5 0h1m2 0h1m2 0h1m1 0h3m1 0h2m1 0h78m1 0h6m1 0h1m4 0h2m1 0h4m2 0h1m10 0h1m5 0h1m4 0h1m3 0h1m2 0h1M12 149h1m7 0h1m1 0h1m1 0h2m1 0h1m2 0h3m1 0h92m3 0h1m1 0h1m1 0h2m2 0h2m2 0h1m1 0h1m1 0h1m1 0h1m27 0h1m2 0h1M16 150h1m1 0h1m3 0h1m2 0h1m2 0h1m6 0h5m1 0h78m1 0h9m1 0h6m5 0h4m1 0h3m1 0h1m3 0h2m4 0h1m2 0h1m1 0h1m1 0h1m4 0h1m14 0h1M8 151h1m9 0h1m2 0h1m1 0h2m3 0h1m2 0h1m3 0h2m2 0h3m1 0h3m1 0h67m1 0h9m1 0h3m1 0h1m1 0h1m1 0h2m2 0h1m2 0h1m2 0h1m11 0h1m3 0h1m5 0h1m5 0h1m4 0h1m23 0h1m3 0h1M10 152h1m2 0h1m7 0h1m1 0h1m3 0h1m2 0h1m1 0h1m4 0h4m1 0h4m1 0h1m1 0h1m1 0h1m1 0h66m1 0h4m1 0h2m1 0h1m2 0h2m2 0h4m4 0h1m13 0h1m8 0h2m5 0h1m11 0h1m1 0h1M10 153h1m15 0h1m3 0h1m1 0h1m1 0h2m2 0h15m1 0h63m4 0h4m3 0h1m5 0h2m2 0h2m6 0h1m8 0h2m19 0h1m9 0h1M8 154h1m7 0h1m2 0h1m8 0h5m1 0h3m1 0h1m3 0h2m1 0h2m1 0h72m1 0h1m3 0h3m1 0h1m3 0h1m2 0h1m5 0h1m3 0h1m2 0h1m13 0h1m4 0h1m11 0h1M12 155h1m4 0h1m3 0h1m1 0h2m2 0h1m2 0h1m3 0h1m1 0h1m1 0h1m1 0h1m1 0h71m1 0h6m1 0h2m1 0h1m2 0h3m11 0h1m20 0h1m3 0h1m2 0h1m3 0h1M8 156h1m6 0h1m3 0h1m3 0h1m5 0h2m2 0h1m2 0h1m2 0h1m4 0h66m1 0h7m1 0h2m1 0h2m3 0h3m25 0h1m2 0h1m9 0h1m2 0h2m32 0h1M13 157h1m4 0h1m1 0h2m3 0h1m4 0h1m2 0h1m2 0h1m4 0h2m1 0h1m2 0h3m1 0h6m1 0h48m1 0h2m1 0h5m1 0h1m1 0h3m2 0h1m1 0h2m1 0h1m1 0h1m12 0h1m4 0h1m2 0h2m29 0h1m25 0h1M12 158h1m2 0h1m8 0h1m3 0h1m2 0h1m1 0h1m2 0h4m3 0h2m1 0h1m1 0h3m1 0h50m1 0h4m1 0h4m1 0h2m1 0h3m1 0h1m1 0h3m1 0h1m1 0h1m4 0h1m2 0h1m11 0h1m4 0h1m22 0h1M16 159h1m2 0h2m14 0h1m1 0h1m5 0h1m2 0h3m1 0h2m3 0h2m1 0h6m1 0h42m1 0h1m4 0h1m3 0h2m5 0h1m3 0h2m19 0h1m23 0h1M14 160h1m2 0h1m2 0h1m3 0h1m15 0h1m3 0h1m1 0h2m1 0h1m1 0h2m2 0h1m1 0h1m1 0h9m1 0h25m1 0h11m1 0h1m4 0h2m1 0h2m1 0h1m1 0h2m1 0h1m1 0h3m4 0h1M23 161h2m4 0h1m2 0h1m1 0h1m1 0h1m4 0h4m2 0h1m2 0h1m3 0h2m1 0h2m2 0h6m1 0h19m2 0h8m1 0h5m1 0h3m2 0h1m1 0h1m2 0h3m7 0h2m4 0h1M28 162h1m4 0h2m1 0h1m10 0h4m1 0h1m3 0h2m1 0h1m1 0h3m3 0h4m1 0h12m1 0h9m1 0h1m1 0h5m1 0h1m1 0h4m3 0h1m1 0h1m3 0h1m2 0h3m4 0h1m3 0h1m19 0h1m6 0h1M26 163h1m3 0h3m3 0h2m4 0h3m4 0h1m2 0h1m2 0h3m1 0h3m1 0h6m2 0h1m1 0h6m1 0h15m1 0h1m1 0h3m4 0h1m2 0h2m2 0h2m2 0h2m1 0h1m3 0h2m8 0h1m7 0h1m6 0h1m5 0h1m8 0h1m39 0h1M21 164h1m17 0h1m1 0h1m1 0h2m3 0h1m2 0h1m1 0h1m9 0h6m1 0h7m1 0h10m1 0h1m2 0h1m2 0h4m1 0h1m1 0h2m1 0h1m14 0h1m2 0h1m5 0h2m5 0h1M34 165h1m3 0h1m1 0h1m5 0h1m2 0h2m2 0h1m3 0h1m3 0h1m1 0h1m1 0h4m1 0h6m2 0h9m1 0h2m1 0h8m2 0h1m1 0h1m1 0h1m1 0h1m4 0h1m1 0h1m3 0h1m4 0h2m1 0h2m7 0h1M18 166h1m20 0h1m1 0h1m4 0h1m1 0h1m1 0h1m3 0h1m4 0h1m2 0h1m1 0h1m1 0h5m3 0h2m1 0h2m1 0h1m2 0h1m1 0h2m3 0h1m1 0h1m1 0h2m3 0h2m1 0h5m6 0h2m1 0h1m3 0h1m15 0h1m3 0h1m26 0h1M9 167h1m3 0h1m9 0h1m5 0h1m4 0h1m3 0h1m10 0h1m4 0h2m1 0h1m1 0h1m2 0h2m1 0h1m5 0h1m2 0h9m4 0h3m1 0h2m8 0h2m3 0h1m1 0h1m1 0h1m4 0h1m2 0h1m1 0h2m2 0h1m1 0h1m4 0h1m8 0h1M16 168h1m7 0h1m15 0h1m1 0h1m9 0h2m2 0h1m5 0h4m10 0h1m1 0h1m2 0h1m2 0h1m1 0h1m2 0h3m1 0h1m2 0h1m1 0h1m3 0h4m1 0h1m5 0h2m2 0h1m11 0h1M22 169h1m2 0h1m2 0h1m6 0h1m3 0h1m2 0h1m1 0h1m10 0h1m2 0h1m3 0h1m3 0h2m3 0h1m6 0h4m5 0h1m2 0h1m1 0h1m3 0h1m1 0h3m1 0h1m10 0h3M12 170h1m10 0h2m3 0h2m11 0h1m9 0h1m11 0h1m2 0h1m9 0h2m1 0h2m2 0h2m1 0h2m2 0h1m2 0h2m1 0h1m1 0h1m2 0h3m1 0h2m3 0h1m5 0h1m2 0h1m2 0h1m16 0h1M18 171h1m27 0h3m1 0h1m3 0h1m4 0h1m1 0h1m3 0h1m8 0h1m1 0h1m1 0h1m1 0h1m2 0h1m6 0h2m7 0h1m2 0h1m2 0h1m1 0h1m8 0h2m7 0h1m3 0h1M32 172h1m25 0h1m10 0h1m4 0h1m3 0h1m4 0h2m1 0h1m3 0h1m7 0h1m3 0h1m3 0h1m9 0h1m19 0h1m30 0h1M28 173h1m19 0h1m4 0h1m1 0h1m3 0h1m3 0h2m17 0h1m3 0h3m1 0h1m1 0h1m4 0h3m3 0h1m3 0h1M24 174h1m23 0h1m8 0h2m3 0h1m5 0h1m11 0h1m1 0h2m2 0h1m1 0h2m4 0h1m1 0h1m8 0h1m3 0h1m2 0h1m7 0h1m51 0h1M37 175h1m21 0h1m1 0h1m4 0h1m4 0h1m7 0h1m6 0h2m6 0h1m3 0h1m1 0h2m13 0h1m5 0h1m2 0h1M26 176h1m19 0h1m4 0h2m6 0h1m1 0h1m6 0h1m3 0h1m2 0h1m5 0h1m2 0h1m5 0h1m2 0h2m22 0h1M55 177h1m7 0h1m1 0h1m9 0h1m1 0h2m4 0h1m1 0h1m8 0h1m8 0h3m19 0h1M60 178h1m13 0h1M33 179h1m6 0h1m19 0h1m2 0h1m7 0h1m7 0h1m8 0h1m10 0h1m15 0h1m13 0h1M35 180h1m10 0h1m19 0h1m35 0h1m35 0h1M76 181h2m10 0h1m6 0h1m5 0h1m1 0h1M66 182h1m7 0h1m6 0h1M67 183h1m50 0h1M66 184h1m77 0h1M61 185h2m18 0h1m50 0h1M32 186h1m28 0h2m23 0h1m39 0h1M95 187h1M49 188h1m20 0h1M94 189h1M117 190h1M75 191h1m21 0h1M63 192h1M86 193h1m23 0h1M62 197h1m36 0h1" stroke="#46195C" stroke-width="1" fill="none"/>
<defs><radialGradient id="gl2"><stop offset="0" stop-color="#7BE37E" stop-opacity="1"/><stop offset="0.07" stop-color="#3DBC74" stop-opacity="1"/><stop offset="0.18" stop-color="#1F9E89" stop-opacity="1"/><stop offset="0.36" stop-color="#2D708E" stop-opacity="0.95"/><stop offset="0.6" stop-color="#3E4989" stop-opacity="0.75"/><stop offset="0.85" stop-color="#472D7B" stop-opacity="0.35"/><stop offset="1" stop-color="#46195C" stop-opacity="0"/></radialGradient></defs>
<ellipse cx="1035.0" cy="933.9" rx="15" ry="12" fill="url(#gl2)" transform="rotate(0 1035.0 933.9)"/>
<rect x="847.7" y="695.7" width="377.1" height="365.4" fill="none" stroke="#333333" stroke-width="4.4"/>
<line x1="864.7" y1="1063.3" x2="864.7" y2="1067.5" stroke="#333333" stroke-width="4.1"/>
<text x="873.7" y="1093.0" font-size="28" text-anchor="middle" fill="#4D4D4D" stroke="#4D4D4D">−50</text>
<line x1="950.5" y1="1063.3" x2="950.5" y2="1067.5" stroke="#333333" stroke-width="4.1"/>
<text x="959.5" y="1093.0" font-size="28" text-anchor="middle" fill="#4D4D4D" stroke="#4D4D4D">−25</text>
<line x1="1036.2" y1="1063.3" x2="1036.2" y2="1067.5" stroke="#333333" stroke-width="4.1"/>
<text x="1039.0" y="1093.0" font-size="28" text-anchor="middle" fill="#4D4D4D" stroke="#4D4D4D">0</text>
<line x1="1122.0" y1="1063.3" x2="1122.0" y2="1067.5" stroke="#333333" stroke-width="4.1"/>
<text x="1127.6" y="1093.0" font-size="28" text-anchor="middle" fill="#4D4D4D" stroke="#4D4D4D">25</text>
<line x1="1207.8" y1="1063.3" x2="1207.8" y2="1067.5" stroke="#333333" stroke-width="4.1"/>
<text x="1213.4" y="1093.0" font-size="28" text-anchor="middle" fill="#4D4D4D" stroke="#4D4D4D">50</text>
<line x1="841.3" y1="711.8" x2="845.5" y2="711.8" stroke="#333333" stroke-width="4.1"/>
<text x="832.0" y="718.5" font-size="28" text-anchor="end" fill="#4D4D4D" stroke="#4D4D4D">50</text>
<line x1="841.3" y1="822.9" x2="845.5" y2="822.9" stroke="#333333" stroke-width="4.1"/>
<text x="832.0" y="829.6" font-size="28" text-anchor="end" fill="#4D4D4D" stroke="#4D4D4D">25</text>
<line x1="841.3" y1="933.9" x2="845.5" y2="933.9" stroke="#333333" stroke-width="4.1"/>
<text x="832.5" y="940.6" font-size="28" text-anchor="end" fill="#4D4D4D" stroke="#4D4D4D">0</text>
<line x1="841.3" y1="1045.0" x2="845.5" y2="1045.0" stroke="#333333" stroke-width="4.1"/>
<text x="837.3" y="1051.7" font-size="28" text-anchor="end" fill="#4D4D4D" stroke="#4D4D4D">−25</text>
<text x="1056.5" y="687.5" font-size="28.8" text-anchor="middle" fill="#000" stroke="#000">R = 0.12</text>
<text x="1045.7" y="1122.5" font-size="28.5" text-anchor="middle" fill="#000" stroke="#000">PBRM1</text>
<text x="1038.5" y="1154.3" font-size="28.5" text-anchor="middle" fill="#000" stroke="#000">WT-KO</text>
<text x="746.4" y="871.2" font-size="28.5" text-anchor="middle" fill="#000" stroke="#000" transform="rotate(-90 746.4 871.2)">ARID2</text>
<text x="781.0" y="871.6" font-size="28.5" text-anchor="middle" fill="#000" stroke="#000" transform="rotate(-90 781.0 871.6)">WT-KO</text>
<text x="1256.5" y="759.1" font-size="28.6" text-anchor="start" fill="#000" stroke="#000">Normalized</text>
<text x="1256.5" y="793.5" font-size="28.6" text-anchor="start" fill="#000" stroke="#000">counts</text>
<rect x="1258.3" y="806.7" width="35.6" height="177.2" fill="url(#virg)"/>
<line x1="1258.3" y1="809.5" x2="1265.3" y2="809.5" stroke="#fff" stroke-width="1.4"/>
<line x1="1286.9" y1="809.5" x2="1293.9" y2="809.5" stroke="#fff" stroke-width="1.4"/>
<text x="1305.0" y="824.4" font-size="28.4" text-anchor="start" fill="#000" stroke="#000">600</text>
<line x1="1258.3" y1="867.9" x2="1265.3" y2="867.9" stroke="#fff" stroke-width="1.4"/>
<line x1="1286.9" y1="867.9" x2="1293.9" y2="867.9" stroke="#fff" stroke-width="1.4"/>
<text x="1305.0" y="882.9" font-size="28.4" text-anchor="start" fill="#000" stroke="#000">400</text>
<line x1="1258.3" y1="925.7" x2="1265.3" y2="925.7" stroke="#fff" stroke-width="1.4"/>
<line x1="1286.9" y1="925.7" x2="1293.9" y2="925.7" stroke="#fff" stroke-width="1.4"/>
<text x="1305.0" y="940.7" font-size="28.4" text-anchor="start" fill="#000" stroke="#000">200</text>
<rect x="1520.0" y="695.5" width="377.5" height="365.8" fill="#fff"/>
<line x1="1580.1" y1="696.5" x2="1580.1" y2="1060.3" stroke="#ECECEC" stroke-width="1.5"/>
<line x1="1665.9" y1="696.5" x2="1665.9" y2="1060.3" stroke="#ECECEC" stroke-width="1.5"/>
<line x1="1751.6" y1="696.5" x2="1751.6" y2="1060.3" stroke="#ECECEC" stroke-width="1.5"/>
<line x1="1837.4" y1="696.5" x2="1837.4" y2="1060.3" stroke="#ECECEC" stroke-width="1.5"/>
<line x1="1521.0" y1="767.3" x2="1896.5" y2="767.3" stroke="#ECECEC" stroke-width="1.5"/>
<line x1="1521.0" y1="878.4" x2="1896.5" y2="878.4" stroke="#ECECEC" stroke-width="1.5"/>
<line x1="1521.0" y1="989.5" x2="1896.5" y2="989.5" stroke="#ECECEC" stroke-width="1.5"/>
<line x1="1537.2" y1="696.5" x2="1537.2" y2="1060.3" stroke="#ECECEC" stroke-width="3.0"/>
<line x1="1623.0" y1="696.5" x2="1623.0" y2="1060.3" stroke="#ECECEC" stroke-width="3.0"/>
<line x1="1708.8" y1="696.5" x2="1708.8" y2="1060.3" stroke="#ECECEC" stroke-width="3.0"/>
<line x1="1794.5" y1="696.5" x2="1794.5" y2="1060.3" stroke="#ECECEC" stroke-width="3.0"/>
<line x1="1880.3" y1="696.5" x2="1880.3" y2="1060.3" stroke="#ECECEC" stroke-width="3.0"/>
<line x1="1521.0" y1="711.8" x2="1896.5" y2="711.8" stroke="#ECECEC" stroke-width="3.0"/>
<line x1="1521.0" y1="822.9" x2="1896.5" y2="822.9" stroke="#ECECEC" stroke-width="3.0"/>
<line x1="1521.0" y1="933.9" x2="1896.5" y2="933.9" stroke="#ECECEC" stroke-width="3.0"/>
<line x1="1521.0" y1="1045.0" x2="1896.5" y2="1045.0" stroke="#ECECEC" stroke-width="3.0"/>
<path transform="translate(1521.00 697.36) scale(1.72)" d="M81 8h1M74 9h1m37 0h1M94 10h2M95 11h1M80 13h1m10 0h1m1 0h1m26 0h1M89 14h1m12 0h1m19 0h1m9 0h1M95 15h1m10 0h1m3 0h1m10 0h1M107 16h1M107 17h1m1 0h1m4 0h1M112 18h1m1 0h1m16 0h1m3 0h1M89 19h1m4 0h1m3 0h2m11 0h1M72 20h1m34 0h1m6 0h1m12 0h1m3 0h1M78 21h1m6 0h1m14 0h1m19 0h1M80 22h1m2 0h1m8 0h1M79 23h1m10 0h1m6 0h1m18 0h1m20 0h1M68 24h1m6 0h1m13 0h1m5 0h2m2 0h1m2 0h1m35 0h1M107 25h2m6 0h1m2 0h1m5 0h1M79 26h1m21 0h1m8 0h1m6 0h1m12 0h1M81 27h1m2 0h2m9 0h1m6 0h1m34 0h1m15 0h1M81 28h1m4 0h1m14 0h1m4 0h1m3 0h2m8 0h1m7 0h1M67 29h1m12 0h2m3 0h1m3 0h2m5 0h2m7 0h1m21 0h1M65 30h1m5 0h1m9 0h4m3 0h1m1 0h1m5 0h1m4 0h1m16 0h1m8 0h1M62 31h1m22 0h1m8 0h1m7 0h1m4 0h1m9 0h2m4 0h1M87 32h1m4 0h1m15 0h1m5 0h1M50 33h1m61 0h1m18 0h1M83 34h1m4 0h1m6 0h1m3 0h1m4 0h1m6 0h1m1 0h1M99 35h1m12 0h1m9 0h1M95 36h1m5 0h1m1 0h1m3 0h2m12 0h1M79 37h1m4 0h1m15 0h1m6 0h1m2 0h1m5 0h1m3 0h1m1 0h1M71 38h1m9 0h1m17 0h1m4 0h1m24 0h1M81 39h1m1 0h1m2 0h1m2 0h1m13 0h1m1 0h1m1 0h2m14 0h1m17 0h1M79 40h1m6 0h1m3 0h1m4 0h1m6 0h1m15 0h1m23 0h1M84 41h1m3 0h2m3 0h1m3 0h1m9 0h1m3 0h1m9 0h1m6 0h1M64 42h1m7 0h1m2 0h1m1 0h1m3 0h1m2 0h1m6 0h1m1 0h1m6 0h1m3 0h1m1 0h1m4 0h1m6 0h1M55 43h1m8 0h1m2 0h1m18 0h1m7 0h2m2 0h1m1 0h1m4 0h1M68 44h1m6 0h2m5 0h1m4 0h1m3 0h1m5 0h4m4 0h1m9 0h1m1 0h1m12 0h1M53 45h1m10 0h2m12 0h2m4 0h1m5 0h1m1 0h1m4 0h1m4 0h1m5 0h1m3 0h1m5 0h1m6 0h1m2 0h1M83 46h2m13 0h1m6 0h1m4 0h1m20 0h1m17 0h1M75 47h1m1 0h1m6 0h1m2 0h1m5 0h3m7 0h2m3 0h1m8 0h1m3 0h1m42 0h1M52 48h1m28 0h1m2 0h1m2 0h2m2 0h1m3 0h1m7 0h2m9 0h1m1 0h2m5 0h1m1 0h1m7 0h1M71 49h1m2 0h1m5 0h1m8 0h1m3 0h2m3 0h1m3 0h1m4 0h2m1 0h1m1 0h1m1 0h3m8 0h1M68 50h1m11 0h1m1 0h2m6 0h3m3 0h1m4 0h1m2 0h3m80 0h1M70 51h1m8 0h1m2 0h1m2 0h1m11 0h3m2 0h1m2 0h1m1 0h1m17 0h1m4 0h1m6 0h1m8 0h1M77 52h1m13 0h2m4 0h1m1 0h1m2 0h2m3 0h1m8 0h1m1 0h1m5 0h1m3 0h2M73 53h1m2 0h2m3 0h1m5 0h2m4 0h1m1 0h1m3 0h3m9 0h2m3 0h1m12 0h1M63 54h1m11 0h1m1 0h1m1 0h1m11 0h1m2 0h2m4 0h3m11 0h1m4 0h1m1 0h1m4 0h1m1 0h1m6 0h1M64 55h1m2 0h1m17 0h1m7 0h2m1 0h2m2 0h1m5 0h1m7 0h1m6 0h1M70 56h1m1 0h1m1 0h1m4 0h1m5 0h1m3 0h1m3 0h1m6 0h1m1 0h1m3 0h1m1 0h1m7 0h1m1 0h1m7 0h1m14 0h1m49 0h1M48 57h1m22 0h1m2 0h1m2 0h1m7 0h1m2 0h1m1 0h1m1 0h1m9 0h2m4 0h3m2 0h1m4 0h1m4 0h1m1 0h1M69 58h1m9 0h1m2 0h1m2 0h1m7 0h1m7 0h3m3 0h2m7 0h2m4 0h2m5 0h1m13 0h1M76 59h1m2 0h1m2 0h2m5 0h1m3 0h1m3 0h2m3 0h3m5 0h1m1 0h1m1 0h5m1 0h1m12 0h1M73 60h1m8 0h2m5 0h1m3 0h2m3 0h3m3 0h1m1 0h1m1 0h1m6 0h1m7 0h1m11 0h1m6 0h1M25 61h1m40 0h1m5 0h2m11 0h6m3 0h1m2 0h2m9 0h1m1 0h1m4 0h1m2 0h1m2 0h1m4 0h1m5 0h1M49 62h1m24 0h1m3 0h1m10 0h1m1 0h1m6 0h1m4 0h1m2 0h2m7 0h2m1 0h2m12 0h1m11 0h1M78 63h1m3 0h1m1 0h1m11 0h1m4 0h1m11 0h2m2 0h2m1 0h1M47 64h1m12 0h1m7 0h1m2 0h1m13 0h1m1 0h1m5 0h1m8 0h1m1 0h1m9 0h1m1 0h1m3 0h1m3 0h2m8 0h1m3 0h1m2 0h1m1 0h1m7 0h1M44 65h1m1 0h1m16 0h1m14 0h1m4 0h2m3 0h2m4 0h1m3 0h1m8 0h1m1 0h1m1 0h2m2 0h1m1 0h1m7 0h1m23 0h1M65 66h1m5 0h1m1 0h1m2 0h1m2 0h2m17 0h1m1 0h2m2 0h2m11 0h1m1 0h1m1 0h1m5 0h1m6 0h1m1 0h1M58 67h1m5 0h1m5 0h3m2 0h1m7 0h1m3 0h2m2 0h1m1 0h2m2 0h2m1 0h3m4 0h1m4 0h1m1 0h1m2 0h1m4 0h2m3 0h1m3 0h2m1 0h1m3 0h1M49 68h1m20 0h1m1 0h1m2 0h1m2 0h1m2 0h1m5 0h3m1 0h2m3 0h1m1 0h2m3 0h2m1 0h1m1 0h2m1 0h1m10 0h1m4 0h1m2 0h1m1 0h2m7 0h1m26 0h1M89 69h1m7 0h1m1 0h2m1 0h1m4 0h1m1 0h3m4 0h1m1 0h2m5 0h2m1 0h2m17 0h1M67 70h1m3 0h1m12 0h1m1 0h3m5 0h1m4 0h3m3 0h1m2 0h3m2 0h1m3 0h2m1 0h1m7 0h1m1 0h2m10 0h1m42 0h1M80 71h1m3 0h2m1 0h2m2 0h1m2 0h4m2 0h1m1 0h1m1 0h1m5 0h3m1 0h1m1 0h3m6 0h1m4 0h1m16 0h1M59 72h1m12 0h1m6 0h2m1 0h1m5 0h1m2 0h1m1 0h1m1 0h1m2 0h1m2 0h1m2 0h1m2 0h1m3 0h2m3 0h1m2 0h1m3 0h1m4 0h1m1 0h1m5 0h1m1 0h1m9 0h1m6 0h1M66 73h1m10 0h1m1 0h1m2 0h2m3 0h1m1 0h1m13 0h1m4 0h6m3 0h1m5 0h1m1 0h2m1 0h1m1 0h1m1 0h1m21 0h1M66 74h1m14 0h1m1 0h1m7 0h1m1 0h1m2 0h1m4 0h2m1 0h2m2 0h1m2 0h1m1 0h1m3 0h1m3 0h1m2 0h1m5 0h1m4 0h1m1 0h1m4 0h1m65 0h1M59 75h1m11 0h1m5 0h1m1 0h1m3 0h1m1 0h1m1 0h2m12 0h1m1 0h2m1 0h1m9 0h2m1 0h2m4 0h1m5 0h1m31 0h1M68 76h1m8 0h1m7 0h1m2 0h1m1 0h2m3 0h5m2 0h1m2 0h1m4 0h1m1 0h1m4 0h2m1 0h1m1 0h1m3 0h2m5 0h2m3 0h1m2 0h1m3 0h1m20 0h1m5 0h1M70 77h1m1 0h1m6 0h3m4 0h1m2 0h1m1 0h1m2 0h6m4 0h2m2 0h1m5 0h5m1 0h4m1 0h1m2 0h1m3 0h2m4 0h1m68 0h1M41 78h1m21 0h2m10 0h2m2 0h1m2 0h2m1 0h2m1 0h3m2 0h2m1 0h1m6 0h1m1 0h1m1 0h3m1 0h3m2 0h2m1 0h2m3 0h2m4 0h1m14 0h1M32 79h1m31 0h1m4 0h1m5 0h2m3 0h2m3 0h1m1 0h1m2 0h1m3 0h1m2 0h2m1 0h2m1 0h3m1 0h2m1 0h2m2 0h1m1 0h1m2 0h1m4 0h1m2 0h1m8 0h1m7 0h1m7 0h1M54 80h1m10 0h1m2 0h1m2 0h1m15 0h3m3 0h10m1 0h3m1 0h2m1 0h2m1 0h1m2 0h2m1 0h1m1 0h2m1 0h1m13 0h1m56 0h1M65 81h1m5 0h1m2 0h1m5 0h2m1 0h1m3 0h1m4 0h1m1 0h3m1 0h2m1 0h4m1 0h2m1 0h8m4 0h2m1 0h1m6 0h1m1 0h2m1 0h1m4 0h1m10 0h1m16 0h1M34 82h1m26 0h1m3 0h1m7 0h1m1 0h2m3 0h1m1 0h2m1 0h1m1 0h2m1 0h1m1 0h1m2 0h2m1 0h3m1 0h1m1 0h1m1 0h6m1 0h1m1 0h1m3 0h2m1 0h2m1 0h2m1 0h1m1 0h1m1 0h1m1 0h1m3 0h1m5 0h1m32 0h1M42 83h1m10 0h1m2 0h1m2 0h1m2 0h1m1 0h1m17 0h1m1 0h2m2 0h1m1 0h2m1 0h2m1 0h4m2 0h6m1 0h4m1 0h1m1 0h1m1 0h1m1 0h2m3 0h1m1 0h1m4 0h1m7 0h1m2 0h1m2 0h2M61 84h1m6 0h1m2 0h4m4 0h1m3 0h1m1 0h1m1 0h1m3 0h1m1 0h2m1 0h1m1 0h1m1 0h1m1 0h1m2 0h2m1 0h8m3 0h1m1 0h1m2 0h1m4 0h1m7 0h1m12 0h2m24 0h1M54 85h1m2 0h1m1 0h1m6 0h1m5 0h1m1 0h1m3 0h1m2 0h1m1 0h5m1 0h1m1 0h18m1 0h1m1 0h1m1 0h2m1 0h1m2 0h1m6 0h2m1 0h1m5 0h1m10 0h1m18 0h1M55 86h1m5 0h1m6 0h1m4 0h1m1 0h4m2 0h4m1 0h3m1 0h2m2 0h4m1 0h5m1 0h6m1 0h2m1 0h1m2 0h1m2 0h1m4 0h1m9 0h1m4 0h1m22 0h1M9 87h1m41 0h1m8 0h1m6 0h3m3 0h1m1 0h3m1 0h1m2 0h2m3 0h1m4 0h3m1 0h15m1 0h2m3 0h2m7 0h2m10 0h1m10 0h1M57 88h1m16 0h1m1 0h1m3 0h2m2 0h1m1 0h2m1 0h1m2 0h30m1 0h1m1 0h2m3 0h2m17 0h1m29 0h1m21 0h1M53 89h1m17 0h1m1 0h1m1 0h1m1 0h6m1 0h2m1 0h1m1 0h1m2 0h26m1 0h1m1 0h4m3 0h2m2 0h1m1 0h1m1 0h1m4 0h1m2 0h1m11 0h2m19 0h1m13 0h1M39 90h1m13 0h1m11 0h1m5 0h1m1 0h2m1 0h3m4 0h7m1 0h2m1 0h15m1 0h1m1 0h3m1 0h4m1 0h4m4 0h2m4 0h1m5 0h1m7 0h1m12 0h1m7 0h1m4 0h1m3 0h1M45 91h1m15 0h1m8 0h7m2 0h1m1 0h1m2 0h5m1 0h33m1 0h1m2 0h1m4 0h3m1 0h1m14 0h1m25 0h1m24 0h1m4 0h1M60 92h1m3 0h1m5 0h1m4 0h1m1 0h1m3 0h3m1 0h1m2 0h25m1 0h2m4 0h4m1 0h1m4 0h4m5 0h1m1 0h1m8 0h1m1 0h1m5 0h1m4 0h1m5 0h1m5 0h1m6 0h1m2 0h1M49 93h2m12 0h2m1 0h1m1 0h1m7 0h3m4 0h2m1 0h3m1 0h22m1 0h4m1 0h3m2 0h1m6 0h1m1 0h1m1 0h1m4 0h1m2 0h1m1 0h1m6 0h2m35 0h1m11 0h1M62 94h2m5 0h1m2 0h1m7 0h1m2 0h2m1 0h27m1 0h2m1 0h3m2 0h5m8 0h1m22 0h1m19 0h1m14 0h1m13 0h1M30 95h1m26 0h1m4 0h1m1 0h1m5 0h2m1 0h1m2 0h1m1 0h1m3 0h5m1 0h33m1 0h3m3 0h4m3 0h1m3 0h1m1 0h1m10 0h1m8 0h1m2 0h1m4 0h1m11 0h1m14 0h1M43 96h1m4 0h1m3 0h1m1 0h1m10 0h1m7 0h1m1 0h1m1 0h1m2 0h41m1 0h1m2 0h1m1 0h3m1 0h2m2 0h1m5 0h1m4 0h1m1 0h1m3 0h1m8 0h1m25 0h1m5 0h1M28 97h1m13 0h1m16 0h1m6 0h2m1 0h1m3 0h3m1 0h2m4 0h4m1 0h39m1 0h2m3 0h2m1 0h1m1 0h1m3 0h1m6 0h1m5 0h1m4 0h1m4 0h2m32 0h1M43 98h1m19 0h1m3 0h1m2 0h2m6 0h1m1 0h7m1 0h31m1 0h1m1 0h1m2 0h1m5 0h2m3 0h1m1 0h1m11 0h1m4 0h1m1 0h1m20 0h1m14 0h1m7 0h1M56 99h1m1 0h1m5 0h2m3 0h1m2 0h1m1 0h3m1 0h2m1 0h2m1 0h40m2 0h1m3 0h2m1 0h2m1 0h1m6 0h1m2 0h1m2 0h1m8 0h1m18 0h1m2 0h1M26 100h1m20 0h1m7 0h1m4 0h1m6 0h1m1 0h3m1 0h1m1 0h14m1 0h32m1 0h1m1 0h2m4 0h1m2 0h1m5 0h5m3 0h1m1 0h1m4 0h1m1 0h1m6 0h1m25 0h1m10 0h1m3 0h1M24 101h1m24 0h1m5 0h1m1 0h1m7 0h4m1 0h1m1 0h1m2 0h2m1 0h42m1 0h3m1 0h2m1 0h1m2 0h1m3 0h1m5 0h1m1 0h2m3 0h1m17 0h3m6 0h1m4 0h1m6 0h1M45 102h1m2 0h1m1 0h1m15 0h1m3 0h6m3 0h5m1 0h34m4 0h3m1 0h2m4 0h1m1 0h1m2 0h1m3 0h1m11 0h1m11 0h1m11 0h1m5 0h1m4 0h1m8 0h1M18 103h1m36 0h2m5 0h1m6 0h1m4 0h47m1 0h3m1 0h2m3 0h2m1 0h1m2 0h1m2 0h1m2 0h1m1 0h1m1 0h1m7 0h1m26 0h1m9 0h1M15 104h1m11 0h1m31 0h1m1 0h2m6 0h1m1 0h1m1 0h1m4 0h4m1 0h37m1 0h2m1 0h3m1 0h4m1 0h2m6 0h1m17 0h1m3 0h2m15 0h1M35 105h1m3 0h1m12 0h1m4 0h1m3 0h1m2 0h2m1 0h1m2 0h1m1 0h4m1 0h51m5 0h1m1 0h1m1 0h1m7 0h1m9 0h3m3 0h2m10 0h1m3 0h2m1 0h1m14 0h1m6 0h1M31 106h1m25 0h1m1 0h1m2 0h2m1 0h1m1 0h3m1 0h6m2 0h46m1 0h1m2 0h2m1 0h2m2 0h1m2 0h1m10 0h1m14 0h1m25 0h1m8 0h1M45 107h1m10 0h1m11 0h2m1 0h3m1 0h3m1 0h40m1 0h7m1 0h4m4 0h2m2 0h1m1 0h1m3 0h2m3 0h1m1 0h1m4 0h2m2 0h1m4 0h1m2 0h1m4 0h1m1 0h1m2 0h1m7 0h1m12 0h1M22 108h1m22 0h1m8 0h1m3 0h2m1 0h1m8 0h2m1 0h1m2 0h46m2 0h7m1 0h2m1 0h3m1 0h1m2 0h2m1 0h1m6 0h1m16 0h1m17 0h1M28 109h2m19 0h2m12 0h1m3 0h1m1 0h3m1 0h48m1 0h1m1 0h2m1 0h3m2 0h1m2 0h1m1 0h1m2 0h1m5 0h1m1 0h1m11 0h1m8 0h1m3 0h1m11 0h1m9 0h1m3 0h1M33 110h1m3 0h2m3 0h1m5 0h1m6 0h1m1 0h1m2 0h1m6 0h2m3 0h51m2 0h1m1 0h2m3 0h2m1 0h1m1 0h1m2 0h1m1 0h2m1 0h1m3 0h1m2 0h1m6 0h1m20 0h1m3 0h1m7 0h1M9 111h1m28 0h1m5 0h1m12 0h2m4 0h1m1 0h1m2 0h2m1 0h4m1 0h1m1 0h46m1 0h3m2 0h1m1 0h1m1 0h1m5 0h1m1 0h1m3 0h2m2 0h1m7 0h1m5 0h1m14 0h1m5 0h2M41 112h1m2 0h1m8 0h2m2 0h1m3 0h2m2 0h2m1 0h1m2 0h1m1 0h48m1 0h1m1 0h6m5 0h1m4 0h4m7 0h1m5 0h2m5 0h1m2 0h2m1 0h1m5 0h2m5 0h1m5 0h1m13 0h1M47 113h1m9 0h2m2 0h1m1 0h3m1 0h1m1 0h63m2 0h1m4 0h4m2 0h2m5 0h2m3 0h2m5 0h1m1 0h1m7 0h1m1 0h1m7 0h2m9 0h2M51 114h1m6 0h1m5 0h1m2 0h1m2 0h53m1 0h3m1 0h2m3 0h3m1 0h2m1 0h1m1 0h1m1 0h2m23 0h1m2 0h1m2 0h1m1 0h1m16 0h1m6 0h1M21 115h1m4 0h1m12 0h3m15 0h2m1 0h2m1 0h1m2 0h1m1 0h58m1 0h1m1 0h1m1 0h1m1 0h1m2 0h3m3 0h1m4 0h1m3 0h1m7 0h1m4 0h1m4 0h1m2 0h1m1 0h1m10 0h1m1 0h1m1 0h1m10 0h1M45 116h1m2 0h1m6 0h3m1 0h1m1 0h1m1 0h1m3 0h4m1 0h54m2 0h1m1 0h1m4 0h1m1 0h1m2 0h1m2 0h1m2 0h1m2 0h1m1 0h1m3 0h3m2 0h1m4 0h1m1 0h3m12 0h1m3 0h1m3 0h1m3 0h1m11 0h1M28 117h1m6 0h2m13 0h1m4 0h3m2 0h1m4 0h5m1 0h56m1 0h2m5 0h1m2 0h1m1 0h2m1 0h1m3 0h1m6 0h1m4 0h1m1 0h1m3 0h1m2 0h1m7 0h1m4 0h1m1 0h2m7 0h1M26 118h1m13 0h1m7 0h2m2 0h1m2 0h4m2 0h3m1 0h1m4 0h52m1 0h8m1 0h1m1 0h1m1 0h1m3 0h2m3 0h1m9 0h1m2 0h2m1 0h1m4 0h1m4 0h1m1 0h1m6 0h2m1 0h1m13 0h1m4 0h1M44 119h1m6 0h7m1 0h71m3 0h3m2 0h2m1 0h1m2 0h1m1 0h4m1 0h1m6 0h1m1 0h1m2 0h1m2 0h1m1 0h1m9 0h1m2 0h1m1 0h1M12 120h1m2 0h1m1 0h1m17 0h1m4 0h2m3 0h2m2 0h1m3 0h4m1 0h1m1 0h5m1 0h58m1 0h4m4 0h3m2 0h2m6 0h1m17 0h1m1 0h1m2 0h1m3 0h1m4 0h1m9 0h2m1 0h2m12 0h1m2 0h1M20 121h1m10 0h1m11 0h1m4 0h2m1 0h1m4 0h2m1 0h2m1 0h7m1 0h56m1 0h2m2 0h2m4 0h5m2 0h2m2 0h1m7 0h1m12 0h2m4 0h1m16 0h1m3 0h1m7 0h1M29 122h1m2 0h1m7 0h1m15 0h1m1 0h3m1 0h7m1 0h54m2 0h1m1 0h1m3 0h5m1 0h1m6 0h1m3 0h1m2 0h1m1 0h1m8 0h1m1 0h1m8 0h1m6 0h1m8 0h2m9 0h1M17 123h1m10 0h1m7 0h1m4 0h1m12 0h3m3 0h1m1 0h2m1 0h5m1 0h64m3 0h2m1 0h1m3 0h3m3 0h3m3 0h1m2 0h1m5 0h1m1 0h1m16 0h1m5 0h1m12 0h1M19 124h1m7 0h1m4 0h1m7 0h1m11 0h2m1 0h4m1 0h3m1 0h1m1 0h1m1 0h58m3 0h1m1 0h1m1 0h3m2 0h3m1 0h1m3 0h2m3 0h2m5 0h2m4 0h1m6 0h1m1 0h1m3 0h1m11 0h1m2 0h1M8 125h1m5 0h1m25 0h3m2 0h2m4 0h2m4 0h1m1 0h65m1 0h2m1 0h3m2 0h2m1 0h2m1 0h4m6 0h1m2 0h1m2 0h1m3 0h1m3 0h1m13 0h1m4 0h2m17 0h1m1 0h1M16 126h1m5 0h1m6 0h1m16 0h1m3 0h7m2 0h1m1 0h3m2 0h59m1 0h2m1 0h2m1 0h1m1 0h2m2 0h5m4 0h2m1 0h1m1 0h1m6 0h1m4 0h5m10 0h1m3 0h2m21 0h1M30 127h1m5 0h1m1 0h1m1 0h1m4 0h2m1 0h1m1 0h1m1 0h2m1 0h73m1 0h1m1 0h1m1 0h1m1 0h4m2 0h1m1 0h1m1 0h2m1 0h1m1 0h2m5 0h1m1 0h3m2 0h2m10 0h2m1 0h1m15 0h1m10 0h2M36 128h1m2 0h2m7 0h6m1 0h1m1 0h68m1 0h6m3 0h4m4 0h2m16 0h1m7 0h1m3 0h1m13 0h1m4 0h1M11 129h1m20 0h1m3 0h1m7 0h1m3 0h1m2 0h1m1 0h76m1 0h2m3 0h1m2 0h1m1 0h1m9 0h1m1 0h3m4 0h1m4 0h1m2 0h1m3 0h1m6 0h1m8 0h1m19 0h1M17 130h1m6 0h1m3 0h2m2 0h1m1 0h1m9 0h1m1 0h2m1 0h1m2 0h1m3 0h76m1 0h3m7 0h1m2 0h1m2 0h5m5 0h1m2 0h1m3 0h1m5 0h2m16 0h1M18 131h1m12 0h1m1 0h1m2 0h1m2 0h1m2 0h1m5 0h1m1 0h1m1 0h75m1 0h3m1 0h3m4 0h2m2 0h4m3 0h1m4 0h1m6 0h1m2 0h1m8 0h1m4 0h1m15 0h1M25 132h1m3 0h1m18 0h1m2 0h3m2 0h70m1 0h3m4 0h1m2 0h1m1 0h1m5 0h1m1 0h2m2 0h1m3 0h2m1 0h1m2 0h3m2 0h1m3 0h1m6 0h1m7 0h1m11 0h1m5 0h1M21 133h1m8 0h2m8 0h3m4 0h1m2 0h7m1 0h72m1 0h3m2 0h5m3 0h1m2 0h2m2 0h1m6 0h1m1 0h2m4 0h1m1 0h1m6 0h1m7 0h1m5 0h1m3 0h1M17 134h1m4 0h1m3 0h1m3 0h2m4 0h1m2 0h1m4 0h1m1 0h1m1 0h2m1 0h75m1 0h4m2 0h1m1 0h2m1 0h2m1 0h1m5 0h1m1 0h1m2 0h2m3 0h1m3 0h1m1 0h1m2 0h1m5 0h1m7 0h1m1 0h1m9 0h2m2 0h2m3 0h1m3 0h1M11 135h1m6 0h1m8 0h1m11 0h1m1 0h1m1 0h3m2 0h4m1 0h73m1 0h4m2 0h1m1 0h2m1 0h1m2 0h1m1 0h2m2 0h2m1 0h1m6 0h1m1 0h2m2 0h1m1 0h1m24 0h4m8 0h1M11 136h1m3 0h2m14 0h1m4 0h1m2 0h1m2 0h2m5 0h2m2 0h1m1 0h72m2 0h2m1 0h1m1 0h1m2 0h1m4 0h1m5 0h1m1 0h2m1 0h2m3 0h2m2 0h1m3 0h1m1 0h1m1 0h1m3 0h1m1 0h1m1 0h1m5 0h1m10 0h1M15 137h1m6 0h1m3 0h2m4 0h2m3 0h1m1 0h2m1 0h2m5 0h1m1 0h2m2 0h75m1 0h1m1 0h3m2 0h1m1 0h1m2 0h1m4 0h2m1 0h2m1 0h1m2 0h1m7 0h1m4 0h1m1 0h1m2 0h1m2 0h1m7 0h1m17 0h1m1 0h1M8 138h1m2 0h1m21 0h3m3 0h1m3 0h3m2 0h2m1 0h3m2 0h72m1 0h5m4 0h1m5 0h2m2 0h2m1 0h2m7 0h1m2 0h1m1 0h1m5 0h1m2 0h1m7 0h1m2 0h2m4 0h1m14 0h1m1 0h1M17 139h1m14 0h1m1 0h1m1 0h2m1 0h1m1 0h3m1 0h4m2 0h74m2 0h7m3 0h1m2 0h1m1 0h1m1 0h2m7 0h1m3 0h2m1 0h2m1 0h1m2 0h1m1 0h1m1 0h1m4 0h1m3 0h1m5 0h1m11 0h1m3 0h1M11 140h1m1 0h1m1 0h1m3 0h1m12 0h1m10 0h1m1 0h1m1 0h1m1 0h1m1 0h2m1 0h1m1 0h74m1 0h4m1 0h1m7 0h2m8 0h2m1 0h1m7 0h4m1 0h1m1 0h1m3 0h1m5 0h1m6 0h1M19 141h1m4 0h1m2 0h1m2 0h1m2 0h1m7 0h3m1 0h5m1 0h74m2 0h5m3 0h2m1 0h3m1 0h1m1 0h1m3 0h1m13 0h1m8 0h1m7 0h1m8 0h1m5 0h1m11 0h1M11 142h2m12 0h1m4 0h1m2 0h1m9 0h1m2 0h2m1 0h1m1 0h81m1 0h2m3 0h1m1 0h1m8 0h1m1 0h1m4 0h1m2 0h1m6 0h1m4 0h1m1 0h1m3 0h2m3 0h1m4 0h1M13 143h1m1 0h1m2 0h1m8 0h1m3 0h1m3 0h1m6 0h5m1 0h2m2 0h72m1 0h7m2 0h4m1 0h1m2 0h1m10 0h1m4 0h1m5 0h1m3 0h1m5 0h1m4 0h1m4 0h1m8 0h2M20 144h2m3 0h2m11 0h2m1 0h1m5 0h3m1 0h1m1 0h79m7 0h4m1 0h1m1 0h2m6 0h3m4 0h1m10 0h2m1 0h1m5 0h1m2 0h1m8 0h1M23 145h2m4 0h1m2 0h1m2 0h1m3 0h1m2 0h1m1 0h2m3 0h2m1 0h2m1 0h71m1 0h1m1 0h1m1 0h3m3 0h3m4 0h2m2 0h1m3 0h1m5 0h1m44 0h1M13 146h1m7 0h1m3 0h1m6 0h2m6 0h3m2 0h3m2 0h5m1 0h70m2 0h1m1 0h1m1 0h1m3 0h2m1 0h1m1 0h1m1 0h1m2 0h1m1 0h1m4 0h4m3 0h1m6 0h1m8 0h1m5 0h1m1 0h1m9 0h1m2 0h1m2 0h1M13 147h1m13 0h2m3 0h1m1 0h2m1 0h2m4 0h1m1 0h2m1 0h5m1 0h72m2 0h3m1 0h1m5 0h2m1 0h2m5 0h1m1 0h5m2 0h1m5 0h1m11 0h1m3 0h1m8 0h1m1 0h1M16 148h2m8 0h2m1 0h2m3 0h1m2 0h3m2 0h5m2 0h4m1 0h3m1 0h65m1 0h7m2 0h2m1 0h1m1 0h1m5 0h1m3 0h1m2 0h1m1 0h2m3 0h1m2 0h1m4 0h1m6 0h3m18 0h1m8 0h1M10 149h1m7 0h1m4 0h1m7 0h1m3 0h1m1 0h1m3 0h1m3 0h5m1 0h2m1 0h73m1 0h3m1 0h1m4 0h1m1 0h1m1 0h1m1 0h1m3 0h1m1 0h2m1 0h2m1 0h1m12 0h1m22 0h1m3 0h1m9 0h1M12 150h1m13 0h1m9 0h1m2 0h2m2 0h1m1 0h1m1 0h2m1 0h1m2 0h1m2 0h68m1 0h1m1 0h1m1 0h2m1 0h1m2 0h2m4 0h1m5 0h1m2 0h1m2 0h1m9 0h1m5 0h1M20 151h2m1 0h1m2 0h1m11 0h2m3 0h1m1 0h3m2 0h3m1 0h67m1 0h11m1 0h1m1 0h1m11 0h1m1 0h1m1 0h1m2 0h1m5 0h1m6 0h1m7 0h1m3 0h1m4 0h1m15 0h1M12 152h3m6 0h1m1 0h1m1 0h1m3 0h2m2 0h2m3 0h1m1 0h5m3 0h2m1 0h1m1 0h2m1 0h72m1 0h2m1 0h2m1 0h2m2 0h1m1 0h1m3 0h1m2 0h1m1 0h1m10 0h1m1 0h1m16 0h1m1 0h1m14 0h1M18 153h1m9 0h1m4 0h1m4 0h1m1 0h1m1 0h1m3 0h5m2 0h1m1 0h70m2 0h2m2 0h1m1 0h3m1 0h1m1 0h3m3 0h1m1 0h1m7 0h2m4 0h1m1 0h1m6 0h1m3 0h1m16 0h1m11 0h1M11 154h2m3 0h1m8 0h1m2 0h2m5 0h1m2 0h4m2 0h1m1 0h3m5 0h2m1 0h2m1 0h62m1 0h3m1 0h2m5 0h2m5 0h1m1 0h1m4 0h1m5 0h1m1 0h2m1 0h2m9 0h1m14 0h1M16 155h1m2 0h1m6 0h1m3 0h1m1 0h1m1 0h1m4 0h1m3 0h3m2 0h1m2 0h1m2 0h1m1 0h4m1 0h59m1 0h6m2 0h3m2 0h2m2 0h1m1 0h1m3 0h1m8 0h1m5 0h1m10 0h1m25 0h1m9 0h1M15 156h1m2 0h1m1 0h1m4 0h1m7 0h1m1 0h2m7 0h1m1 0h1m7 0h67m1 0h2m1 0h1m1 0h1m3 0h1m8 0h1m1 0h1m2 0h1m4 0h2m1 0h2m1 0h1m6 0h1m8 0h1M27 157h2m1 0h1m3 0h1m3 0h1m2 0h1m2 0h6m5 0h7m1 0h65m2 0h2m1 0h1m3 0h1m2 0h1m1 0h1m4 0h2m6 0h1m6 0h2m7 0h1m7 0h2m2 0h1M15 158h2m5 0h1m1 0h1m3 0h1m3 0h2m5 0h2m4 0h1m5 0h6m1 0h9m1 0h58m1 0h2m1 0h2m1 0h1m1 0h1m6 0h1m2 0h1m1 0h1m6 0h1m3 0h1m3 0h1m7 0h1m5 0h2m21 0h1M14 159h1m6 0h1m4 0h1m1 0h1m4 0h1m1 0h2m2 0h7m2 0h4m2 0h1m1 0h2m1 0h3m1 0h1m1 0h49m1 0h4m1 0h2m1 0h2m3 0h2m2 0h1m3 0h3m8 0h1m2 0h1m8 0h1m3 0h1m2 0h1m10 0h1m2 0h2m27 0h1M13 160h1m3 0h1m1 0h1m3 0h1m10 0h1m1 0h1m1 0h1m1 0h2m3 0h3m3 0h2m1 0h2m1 0h3m3 0h1m2 0h16m1 0h3m1 0h1m1 0h24m1 0h1m1 0h2m1 0h2m3 0h1m1 0h3m2 0h3m2 0h1m2 0h2m1 0h1m6 0h3m1 0h1m11 0h1m1 0h1m1 0h1m12 0h1m4 0h1m6 0h1m5 0h1M8 161h1m17 0h1m3 0h1m6 0h1m2 0h1m3 0h2m3 0h1m1 0h4m1 0h7m1 0h1m1 0h3m2 0h6m1 0h15m1 0h3m1 0h3m1 0h13m1 0h3m2 0h3m1 0h2m2 0h1m1 0h1m1 0h1m3 0h2m2 0h1m2 0h1m5 0h1m5 0h2m16 0h1M16 162h1m3 0h1m7 0h1m2 0h2m2 0h1m1 0h1m1 0h1m1 0h5m3 0h2m5 0h4m2 0h1m1 0h3m2 0h2m1 0h4m1 0h4m2 0h12m1 0h1m1 0h13m1 0h5m2 0h2m3 0h1m3 0h3m1 0h2m9 0h1m7 0h1m27 0h1m4 0h1m8 0h1m5 0h1M19 163h2m4 0h3m3 0h1m1 0h2m3 0h2m1 0h1m4 0h2m1 0h1m3 0h7m1 0h1m1 0h1m1 0h1m1 0h9m1 0h6m1 0h2m1 0h2m1 0h4m1 0h1m1 0h8m1 0h9m4 0h3m9 0h2m2 0h1m6 0h2m2 0h1m7 0h1m1 0h1m8 0h1m2 0h1m1 0h1m1 0h1M14 164h2m9 0h1m2 0h1m1 0h1m4 0h1m4 0h4m2 0h1m1 0h1m1 0h1m1 0h1m3 0h4m2 0h1m2 0h18m1 0h2m2 0h7m1 0h3m1 0h1m1 0h6m1 0h4m3 0h4m3 0h1m3 0h3m2 0h2m2 0h1m3 0h1m10 0h1m52 0h1M8 165h1m13 0h1m3 0h1m4 0h1m1 0h1m6 0h1m1 0h2m1 0h1m1 0h4m1 0h1m1 0h2m1 0h1m1 0h10m1 0h1m2 0h3m1 0h4m4 0h4m1 0h9m1 0h11m2 0h5m2 0h1m4 0h1m2 0h1m1 0h1m2 0h1m1 0h3m4 0h1m8 0h1m3 0h1m40 0h1M9 166h1m8 0h1m1 0h1m3 0h1m9 0h1m7 0h1m4 0h1m4 0h2m1 0h2m1 0h4m4 0h3m3 0h5m1 0h1m1 0h5m2 0h1m1 0h1m1 0h4m1 0h2m1 0h3m1 0h2m2 0h1m1 0h4m2 0h2m1 0h2m1 0h2m2 0h2m3 0h1m10 0h1m5 0h3m2 0h1m1 0h1m1 0h1m14 0h1m30 0h1m1 0h1M16 167h1m10 0h1m1 0h1m1 0h1m3 0h2m2 0h2m5 0h1m2 0h1m2 0h1m2 0h1m1 0h1m1 0h5m1 0h2m2 0h1m1 0h1m2 0h3m2 0h3m1 0h4m1 0h5m2 0h3m1 0h2m2 0h4m1 0h4m1 0h1m3 0h3m3 0h1m2 0h1m5 0h1m1 0h1m4 0h2m25 0h1m4 0h1M10 168h1m5 0h1m3 0h2m1 0h1m4 0h2m12 0h1m1 0h1m1 0h1m1 0h2m3 0h5m2 0h5m1 0h1m5 0h4m1 0h3m1 0h2m1 0h1m2 0h4m1 0h1m3 0h1m3 0h1m1 0h3m3 0h7m4 0h1m1 0h3m2 0h1m2 0h2m2 0h2m1 0h2m3 0h1m5 0h1m5 0h3m5 0h1m6 0h1m12 0h1M8 169h1m7 0h1m8 0h1m2 0h1m1 0h1m3 0h1m4 0h3m1 0h1m3 0h3m3 0h5m1 0h1m2 0h1m1 0h3m2 0h2m2 0h2m5 0h5m1 0h2m1 0h1m1 0h8m1 0h3m2 0h2m1 0h2m2 0h5m1 0h1m1 0h2m6 0h2m2 0h1m3 0h3m1 0h1m1 0h1m56 0h1M8 170h1m1 0h1m8 0h1m5 0h1m2 0h1m2 0h2m3 0h1m2 0h3m2 0h1m9 0h1m3 0h1m4 0h3m1 0h3m1 0h1m1 0h1m1 0h1m3 0h7m1 0h1m1 0h1m1 0h5m1 0h2m2 0h3m1 0h1m1 0h1m2 0h2m3 0h1m8 0h2m2 0h2m1 0h1m9 0h1m9 0h1M32 171h2m9 0h2m1 0h1m5 0h1m1 0h1m1 0h4m1 0h2m1 0h2m2 0h4m1 0h1m12 0h1m3 0h2m4 0h1m2 0h1m1 0h1m1 0h3m5 0h2m7 0h1m7 0h1m5 0h1m3 0h1m2 0h1m8 0h1m1 0h1m2 0h1m6 0h1m21 0h1M11 172h1m2 0h1m1 0h1m10 0h1m11 0h1m1 0h1m2 0h1m2 0h2m4 0h2m2 0h2m3 0h3m4 0h1m5 0h2m1 0h1m4 0h1m2 0h2m7 0h1m1 0h2m6 0h4m3 0h2m1 0h1m16 0h1m9 0h1m7 0h1m49 0h1M17 173h1m7 0h1m4 0h1m17 0h1m4 0h1m3 0h1m1 0h1m4 0h1m1 0h2m5 0h2m1 0h3m3 0h1m1 0h3m1 0h3m3 0h2m1 0h1m1 0h2m2 0h2m4 0h2m2 0h5m3 0h1m1 0h1m2 0h1m5 0h1m8 0h1m5 0h1M8 174h1m7 0h1m5 0h1m5 0h1m1 0h1m4 0h1m11 0h1m1 0h1m2 0h1m1 0h1m2 0h1m1 0h1m4 0h2m7 0h1m5 0h1m1 0h1m3 0h2m4 0h1m2 0h1m2 0h1m1 0h2m2 0h1m4 0h1m1 0h1m3 0h4m3 0h2m5 0h1m2 0h1m2 0h1m24 0h1m6 0h1m16 0h1M24 175h1m2 0h1m1 0h1m2 0h1m8 0h1m1 0h1m2 0h1m1 0h1m1 0h1m1 0h1m6 0h1m5 0h3m2 0h1m1 0h2m4 0h1m6 0h1m7 0h1m1 0h1m5 0h2m2 0h1m1 0h1m5 0h3m9 0h1m4 0h1m2 0h1m35 0h1m3 0h1M17 176h1m8 0h1m2 0h1m4 0h1m5 0h2m1 0h2m5 0h1m2 0h4m4 0h1m1 0h1m2 0h3m3 0h1m3 0h1m2 0h3m3 0h3m2 0h2m3 0h1m3 0h3m1 0h1m1 0h1m4 0h1m3 0h1m4 0h1m1 0h1m15 0h1m7 0h1M31 177h1m7 0h1m3 0h1m5 0h1m4 0h2m12 0h1m2 0h1m1 0h1m2 0h1m6 0h1m4 0h2m2 0h1m2 0h1m8 0h1m1 0h1m2 0h1m5 0h1m1 0h1m3 0h2m4 0h2m3 0h1m4 0h1M20 178h1m6 0h1m5 0h2m2 0h2m2 0h2m19 0h1m6 0h1m2 0h1m5 0h1m2 0h1m1 0h1m4 0h1m1 0h4m3 0h1m1 0h2m12 0h1m4 0h1m4 0h1m45 0h1M12 179h1m12 0h1m2 0h1m2 0h1m1 0h1m5 0h1m3 0h1m2 0h1m11 0h1m1 0h2m4 0h1m10 0h1m4 0h1m2 0h1m13 0h1m3 0h1m3 0h1m24 0h1m19 0h1m2 0h1m35 0h1M31 180h1m9 0h1m2 0h1m3 0h4m15 0h1m2 0h2m3 0h1m2 0h2m9 0h1m5 0h1m5 0h1m7 0h1m2 0h1m2 0h1m1 0h1m6 0h2M24 181h2m4 0h2m10 0h1m10 0h1m7 0h3m2 0h1m5 0h1m1 0h2m10 0h1m7 0h1m12 0h1m7 0h1m24 0h1m55 0h1M25 182h1m5 0h1m9 0h1m1 0h1m6 0h2m10 0h2m3 0h3m1 0h1m2 0h1m1 0h1m5 0h1m1 0h1m3 0h1m2 0h1m7 0h2m6 0h1m6 0h1m11 0h2M31 183h1m9 0h1m8 0h1m5 0h1m3 0h2m2 0h1m3 0h1m14 0h1m8 0h1m12 0h1m9 0h1m39 0h1m5 0h1M23 184h1m8 0h1m1 0h1m4 0h1m7 0h1m3 0h1m8 0h1m5 0h1m1 0h1m3 0h1m3 0h1m2 0h1m16 0h1m1 0h1m1 0h3m11 0h1m3 0h1M19 185h1m2 0h1m1 0h1m1 0h1m3 0h1m5 0h1m5 0h1m3 0h1m6 0h1m5 0h1m3 0h1m14 0h1m12 0h1m6 0h1m29 0h1m1 0h1m39 0h1M24 186h2m6 0h1m6 0h2m5 0h1m9 0h1m6 0h1m2 0h1m1 0h1m15 0h2m1 0h1m3 0h1m7 0h1m6 0h1m14 0h1m17 0h1M23 187h1m15 0h1m8 0h2m5 0h2m1 0h3m1 0h1m1 0h2m1 0h1m9 0h1m6 0h1m21 0h1m10 0h1m8 0h1m17 0h1M23 188h1m11 0h2m4 0h1m25 0h1m16 0h1m2 0h1m8 0h1m2 0h1M26 189h1m1 0h1m5 0h1m11 0h1m11 0h1m1 0h1m6 0h1m3 0h1m9 0h1m11 0h1m10 0h1m9 0h1m1 0h1m1 0h1m1 0h1m10 0h1m7 0h2m3 0h1m27 0h1m31 0h1M30 190h1m3 0h1m1 0h1m9 0h2m3 0h1m6 0h1m29 0h1m4 0h1m4 0h1m2 0h1m2 0h1m16 0h1m2 0h1M38 191h2m7 0h1m1 0h1m7 0h1m8 0h2m10 0h1m60 0h1M43 192h1m6 0h1m37 0h1m11 0h1m14 0h1m61 0h1M21 193h1m5 0h1m32 0h1m48 0h1m12 0h1m1 0h1M41 194h1m23 0h1m27 0h1m1 0h2m28 0h1M28 195h1m9 0h2m17 0h1m10 0h1m23 0h1m23 0h1m10 0h1m7 0h1m26 0h1M31 196h1m27 0h1m14 0h1m25 0h1m18 0h1m7 0h1M14 197h1m43 0h1M21 198h1m13 0h1m6 0h1m25 0h1m48 0h1M67 199h1m19 0h1m2 0h1m30 0h1m15 0h1M21 200h1m68 0h1m42 0h1M22 201h1m6 0h1m57 0h1m37 0h1M29 202h1m75 0h1m29 0h1m39 0h1M33 203h1m9 0h1m16 0h1m6 0h1m14 0h1m4 0h1m44 0h1M63 204h1M36 205h1m3 0h1m9 0h1m8 0h1m36 0h1m29 0h1m15 0h1m16 0h1M72 206h1" stroke="#46195C" stroke-width="1" fill="none"/>
<defs><radialGradient id="gl3"><stop offset="0" stop-color="#DDE318" stop-opacity="1"/><stop offset="0.06" stop-color="#8BD646" stop-opacity="1"/><stop offset="0.13" stop-color="#3DBC74" stop-opacity="1"/><stop offset="0.24" stop-color="#1F9A8A" stop-opacity="0.97"/><stop offset="0.4" stop-color="#2D708E" stop-opacity="0.92"/><stop offset="0.6" stop-color="#3E4C8A" stop-opacity="0.75"/><stop offset="0.82" stop-color="#472D7B" stop-opacity="0.4"/><stop offset="1" stop-color="#46195C" stop-opacity="0"/></radialGradient></defs>
<ellipse cx="1708.1" cy="918.8" rx="19" ry="40" fill="url(#gl3)" transform="rotate(0 1708.1 918.8)"/>
<rect x="1520.2" y="695.7" width="377.1" height="365.4" fill="none" stroke="#333333" stroke-width="4.4"/>
<line x1="1537.2" y1="1063.3" x2="1537.2" y2="1067.5" stroke="#333333" stroke-width="4.1"/>
<text x="1546.2" y="1093.0" font-size="28" text-anchor="middle" fill="#4D4D4D" stroke="#4D4D4D">−50</text>
<line x1="1623.0" y1="1063.3" x2="1623.0" y2="1067.5" stroke="#333333" stroke-width="4.1"/>
<text x="1632.0" y="1093.0" font-size="28" text-anchor="middle" fill="#4D4D4D" stroke="#4D4D4D">−25</text>
<line x1="1708.8" y1="1063.3" x2="1708.8" y2="1067.5" stroke="#333333" stroke-width="4.1"/>
<text x="1711.5" y="1093.0" font-size="28" text-anchor="middle" fill="#4D4D4D" stroke="#4D4D4D">0</text>
<line x1="1794.5" y1="1063.3" x2="1794.5" y2="1067.5" stroke="#333333" stroke-width="4.1"/>
<text x="1800.1" y="1093.0" font-size="28" text-anchor="middle" fill="#4D4D4D" stroke="#4D4D4D">25</text>
<line x1="1880.3" y1="1063.3" x2="1880.3" y2="1067.5" stroke="#333333" stroke-width="4.1"/>
<text x="1885.9" y="1093.0" font-size="28" text-anchor="middle" fill="#4D4D4D" stroke="#4D4D4D">50</text>
<line x1="1513.8" y1="711.8" x2="1518.0" y2="711.8" stroke="#333333" stroke-width="4.1"/>
<text x="1503.0" y="718.5" font-size="28" text-anchor="end" fill="#4D4D4D" stroke="#4D4D4D">50</text>
<line x1="1513.8" y1="822.9" x2="1518.0" y2="822.9" stroke="#333333" stroke-width="4.1"/>
<text x="1503.0" y="829.6" font-size="28" text-anchor="end" fill="#4D4D4D" stroke="#4D4D4D">25</text>
<line x1="1513.8" y1="933.9" x2="1518.0" y2="933.9" stroke="#333333" stroke-width="4.1"/>
<text x="1503.0" y="940.6" font-size="28" text-anchor="end" fill="#4D4D4D" stroke="#4D4D4D">0</text>
<line x1="1513.8" y1="1045.0" x2="1518.0" y2="1045.0" stroke="#333333" stroke-width="4.1"/>
<text x="1508.6" y="1051.7" font-size="28" text-anchor="end" fill="#4D4D4D" stroke="#4D4D4D">−25</text>
<text x="1730.2" y="687.5" font-size="28.8" text-anchor="middle" fill="#000" stroke="#000">R = 0.15</text>
<text x="1718.3" y="1122.8" font-size="28.5" text-anchor="middle" fill="#000" stroke="#000">PBRM1</text>
<text x="1718.3" y="1155.5" font-size="28.5" text-anchor="middle" fill="#000" stroke="#000">WT-KO</text>
<text x="1419.2" y="866.9" font-size="28.5" text-anchor="middle" fill="#000" stroke="#000" transform="rotate(-90 1419.2 866.9)">BRD7</text>
<text x="1454.0" y="868.2" font-size="28.5" text-anchor="middle" fill="#000" stroke="#000" transform="rotate(-90 1454.0 868.2)">WT-KO</text>
<text x="1925.8" y="759.1" font-size="28.6" text-anchor="start" fill="#000" stroke="#000">Normalized</text>
<text x="1925.8" y="793.5" font-size="28.6" text-anchor="start" fill="#000" stroke="#000">counts</text>
<rect x="1931.5" y="806.7" width="35.8" height="177.1" fill="url(#virg)"/>
<line x1="1931.5" y1="841.8" x2="1938.5" y2="841.8" stroke="#fff" stroke-width="1.4"/>
<line x1="1960.3" y1="841.8" x2="1967.3" y2="841.8" stroke="#fff" stroke-width="1.4"/>
<text x="1978.5" y="847.5" font-size="28.4" text-anchor="start" fill="#000" stroke="#000">150</text>
<line x1="1931.5" y1="889.2" x2="1938.5" y2="889.2" stroke="#fff" stroke-width="1.4"/>
<line x1="1960.3" y1="889.2" x2="1967.3" y2="889.2" stroke="#fff" stroke-width="1.4"/>
<text x="1978.5" y="895.7" font-size="28.4" text-anchor="start" fill="#000" stroke="#000">100</text>
<line x1="1931.5" y1="936.8" x2="1938.5" y2="936.8" stroke="#fff" stroke-width="1.4"/>
<line x1="1960.3" y1="936.8" x2="1967.3" y2="936.8" stroke="#fff" stroke-width="1.4"/>
<text x="1978.5" y="943.0" font-size="28.4" text-anchor="start" fill="#000" stroke="#000">50</text>
<rect x="151.5" y="1235.2" width="377.5" height="366.5" fill="#fff"/>
<line x1="211.6" y1="1236.2" x2="211.6" y2="1600.7" stroke="#ECECEC" stroke-width="1.5"/>
<line x1="297.4" y1="1236.2" x2="297.4" y2="1600.7" stroke="#ECECEC" stroke-width="1.5"/>
<line x1="383.1" y1="1236.2" x2="383.1" y2="1600.7" stroke="#ECECEC" stroke-width="1.5"/>
<line x1="468.9" y1="1236.2" x2="468.9" y2="1600.7" stroke="#ECECEC" stroke-width="1.5"/>
<line x1="152.5" y1="1307.0" x2="528.0" y2="1307.0" stroke="#ECECEC" stroke-width="1.5"/>
<line x1="152.5" y1="1418.1" x2="528.0" y2="1418.1" stroke="#ECECEC" stroke-width="1.5"/>
<line x1="152.5" y1="1529.2" x2="528.0" y2="1529.2" stroke="#ECECEC" stroke-width="1.5"/>
<line x1="168.7" y1="1236.2" x2="168.7" y2="1600.7" stroke="#ECECEC" stroke-width="3.0"/>
<line x1="254.5" y1="1236.2" x2="254.5" y2="1600.7" stroke="#ECECEC" stroke-width="3.0"/>
<line x1="340.2" y1="1236.2" x2="340.2" y2="1600.7" stroke="#ECECEC" stroke-width="3.0"/>
<line x1="426.0" y1="1236.2" x2="426.0" y2="1600.7" stroke="#ECECEC" stroke-width="3.0"/>
<line x1="511.8" y1="1236.2" x2="511.8" y2="1600.7" stroke="#ECECEC" stroke-width="3.0"/>
<line x1="152.5" y1="1251.5" x2="528.0" y2="1251.5" stroke="#ECECEC" stroke-width="3.0"/>
<line x1="152.5" y1="1362.6" x2="528.0" y2="1362.6" stroke="#ECECEC" stroke-width="3.0"/>
<line x1="152.5" y1="1473.7" x2="528.0" y2="1473.7" stroke="#ECECEC" stroke-width="3.0"/>
<line x1="152.5" y1="1584.7" x2="528.0" y2="1584.7" stroke="#ECECEC" stroke-width="3.0"/>
<path transform="translate(152.50 1237.06) scale(1.72)" d="M115 9h1M115 10h1M111 11h1M116 12h1M112 14h1M113 17h1M109 19h1M109 20h1M109 23h1M109 25h1m3 0h1M107 28h1M110 29h1M114 33h1M111 34h2M109 35h1m39 0h1M113 36h1M150 40h1M112 41h1m2 0h1M110 43h1M113 44h2M106 45h1M109 46h1M116 47h1M115 48h1M108 49h1M113 51h1m38 0h1M107 52h1m1 0h2M110 53h3M110 54h1M109 55h1m63 0h1M112 56h1m1 0h1M107 57h1M113 58h2M110 59h1M106 60h1m37 0h1M182 61h1M104 62h1m4 0h1M109 63h1M110 64h1m2 0h1m41 0h1M108 65h1m1 0h2m47 0h1M113 66h1m3 0h1m2 0h1m49 0h1M110 67h1m1 0h1m4 0h1m35 0h1M105 68h1m4 0h1m2 0h1m2 0h1M108 69h1m60 0h1M103 70h1m10 0h1m29 0h1M107 71h1m1 0h1m2 0h1M107 72h1m3 0h1m46 0h1m26 0h1M110 73h1m1 0h1m1 0h1M106 74h1m2 0h1m20 0h1m13 0h1m16 0h2m18 0h1M100 75h1m7 0h1m7 0h1m2 0h1m19 0h1m12 0h1m7 0h1m21 0h1M107 76h1m11 0h1m4 0h1m12 0h1m1 0h1m16 0h1M104 77h1m4 0h1m2 0h1m62 0h1M98 78h1m31 0h1m2 0h1m7 0h1m28 0h1M68 79h1m33 0h1m6 0h1m29 0h1m5 0h1m12 0h1M97 80h1m4 0h1m1 0h1m13 0h1m21 0h1m42 0h1M104 81h3m1 0h1m54 0h1M113 82h1m6 0h1m11 0h1m11 0h1m44 0h1M103 83h1m2 0h2m2 0h1m2 0h1m48 0h1m1 0h1M89 84h1m13 0h1m3 0h1m3 0h1m1 0h1m1 0h1m5 0h1m2 0h1m6 0h1m10 0h1m24 0h1m1 0h1m6 0h1m5 0h1M106 85h3m1 0h1m6 0h1m4 0h1m2 0h1m4 0h1m26 0h1m19 0h1M99 86h1m1 0h1m1 0h1m2 0h1m2 0h2m1 0h1m34 0h1m33 0h1M101 87h1m9 0h1m1 0h1m7 0h1m4 0h1m49 0h1M73 88h1m32 0h1m3 0h1m2 0h1m3 0h1m1 0h3m37 0h1m6 0h1m4 0h1m23 0h1M106 89h1m54 0h1m5 0h1m3 0h1m3 0h1m7 0h1m5 0h1M103 90h1m5 0h2m5 0h1m1 0h2m4 0h1m16 0h1m10 0h1m20 0h1m7 0h1M102 91h1m1 0h2m2 0h2m2 0h1m13 0h1m5 0h1m3 0h1m15 0h1m4 0h1m13 0h1M99 92h1m5 0h2m9 0h1m1 0h1m1 0h1m4 0h2m9 0h1m5 0h1m1 0h1m5 0h1m1 0h1m17 0h1m10 0h1m7 0h1M100 93h1m2 0h1m8 0h1m10 0h1m19 0h1m1 0h1m14 0h1m2 0h1m2 0h1m6 0h1m13 0h1m15 0h1M84 94h1m13 0h1m5 0h1m3 0h2m1 0h3m4 0h1m9 0h2m6 0h1m3 0h1m30 0h1m19 0h2m4 0h1M104 95h1m5 0h1m3 0h1m2 0h1m6 0h1m1 0h1m2 0h1m4 0h1m5 0h1m6 0h1m4 0h1m3 0h1m4 0h1m13 0h2m12 0h1m1 0h1M99 96h1m3 0h1m6 0h2m3 0h1m6 0h1m2 0h1m3 0h1m7 0h1m12 0h1m22 0h1m8 0h1m1 0h1M101 97h1m1 0h1m1 0h1m3 0h1m1 0h1m2 0h1m12 0h1m5 0h1m9 0h1m1 0h1m19 0h1m1 0h1m14 0h1m6 0h1m1 0h1m2 0h1m12 0h1M91 98h1m13 0h1m4 0h1m2 0h1m2 0h1m3 0h1m3 0h1m3 0h1m2 0h2m1 0h1m5 0h1m2 0h1m3 0h1m4 0h1m3 0h1m5 0h2m9 0h1m7 0h2m12 0h1m3 0h1M84 99h1m19 0h1m2 0h1m2 0h1m1 0h2m2 0h1m1 0h1m2 0h1m7 0h1m1 0h1m9 0h1m8 0h1m3 0h1m1 0h1m6 0h1m7 0h1m1 0h1m5 0h1m1 0h1m8 0h1m15 0h1M90 100h1m11 0h1m3 0h2m3 0h1m2 0h5m1 0h2m4 0h2m10 0h3m10 0h1m1 0h2m2 0h1m10 0h1m8 0h1m2 0h2m9 0h1M91 101h1m8 0h1m2 0h1m1 0h1m2 0h2m6 0h1m4 0h1m3 0h3m5 0h2m10 0h1m3 0h1m4 0h1m5 0h1m2 0h1m1 0h1m4 0h1m3 0h1m2 0h6m1 0h2m1 0h1m14 0h1M91 102h1m12 0h2m1 0h1m2 0h1m1 0h1m3 0h4m1 0h1m1 0h2m2 0h2m2 0h2m2 0h2m3 0h1m11 0h1m5 0h1m11 0h2m13 0h3m1 0h2M98 103h1m1 0h1m8 0h2m2 0h2m5 0h3m2 0h1m1 0h1m2 0h2m2 0h1m2 0h1m3 0h1m1 0h2m10 0h2m4 0h1m1 0h4m1 0h1m2 0h1m3 0h2m8 0h1m2 0h2m2 0h1m1 0h1M95 104h1m6 0h1m1 0h1m2 0h3m4 0h1m1 0h4m2 0h1m4 0h1m4 0h1m3 0h2m1 0h1m4 0h1m2 0h3m3 0h1m3 0h3m5 0h3m4 0h1m2 0h1m8 0h1m5 0h1m3 0h1m1 0h1m8 0h1M88 105h1m4 0h1m5 0h2m2 0h2m3 0h5m1 0h5m3 0h3m4 0h3m1 0h2m4 0h2m1 0h1m2 0h2m1 0h5m2 0h1m2 0h1m1 0h1m6 0h2m4 0h1m11 0h2m2 0h3m10 0h1m6 0h1M94 106h2m5 0h1m6 0h1m2 0h2m4 0h1m3 0h5m3 0h1m2 0h2m1 0h3m1 0h3m2 0h2m3 0h1m3 0h1m1 0h1m1 0h5m8 0h5m2 0h2m6 0h1m3 0h1m6 0h1m6 0h1M88 107h1m5 0h1m8 0h3m1 0h1m5 0h1m2 0h1m2 0h3m2 0h5m3 0h2m2 0h1m2 0h8m4 0h1m3 0h1m5 0h3m1 0h1m1 0h2m3 0h2m1 0h1m3 0h1m1 0h1m1 0h3m1 0h1m1 0h2m6 0h1m2 0h2m3 0h1M65 108h1m13 0h1m24 0h6m1 0h1m1 0h9m1 0h1m1 0h2m1 0h2m1 0h2m2 0h4m4 0h1m3 0h2m1 0h1m3 0h2m2 0h2m1 0h1m2 0h1m1 0h5m2 0h2m1 0h1m4 0h1m4 0h4m1 0h2m11 0h1M85 109h1m10 0h1m3 0h1m4 0h3m3 0h2m1 0h1m2 0h1m1 0h3m1 0h12m1 0h3m1 0h6m1 0h1m1 0h2m1 0h2m4 0h8m1 0h3m2 0h3m1 0h1m1 0h2m1 0h1m5 0h2m2 0h1m2 0h1m7 0h1m3 0h1m2 0h1M90 110h1m1 0h1m4 0h1m3 0h1m1 0h3m1 0h2m1 0h1m2 0h3m1 0h2m1 0h1m1 0h1m1 0h2m1 0h6m1 0h3m2 0h2m1 0h2m1 0h11m2 0h3m1 0h2m2 0h2m1 0h6m2 0h3m1 0h1m2 0h1m2 0h5m4 0h2m8 0h1M94 111h1m1 0h1m3 0h1m10 0h2m1 0h1m1 0h3m1 0h11m2 0h7m1 0h2m1 0h3m1 0h8m2 0h3m1 0h2m1 0h4m5 0h2m4 0h1m1 0h1m6 0h1m1 0h1m13 0h1M92 112h1m3 0h1m2 0h2m3 0h2m2 0h9m1 0h24m1 0h2m1 0h1m1 0h8m1 0h8m1 0h6m1 0h1m5 0h2m1 0h2m4 0h1m6 0h1m2 0h2m1 0h1M72 113h1m6 0h1m3 0h1m9 0h1m11 0h5m2 0h10m1 0h14m1 0h20m1 0h5m1 0h5m2 0h2m1 0h1m1 0h4m2 0h1m3 0h2m1 0h1m3 0h2m4 0h1m1 0h1m2 0h1m1 0h1M82 114h1m5 0h1m4 0h3m1 0h1m3 0h3m1 0h3m1 0h2m1 0h49m1 0h5m1 0h8m4 0h1m1 0h1m1 0h1m1 0h3m1 0h7m1 0h1m4 0h2M63 115h1m13 0h1m4 0h1m1 0h1m4 0h1m8 0h2m2 0h65m1 0h2m1 0h2m2 0h1m1 0h4m2 0h1m1 0h3m1 0h1m1 0h1m1 0h1m1 0h2m1 0h1m10 0h1M60 116h1m17 0h1m12 0h1m2 0h1m4 0h4m1 0h61m2 0h10m1 0h2m1 0h4m2 0h1m1 0h1m2 0h4m6 0h1M72 117h1m20 0h2m6 0h1m1 0h2m1 0h69m2 0h3m2 0h2m3 0h1m1 0h1m1 0h1m5 0h2m3 0h1M71 118h1m4 0h1m11 0h2m4 0h1m2 0h1m3 0h73m1 0h11m1 0h2m2 0h5m2 0h2m1 0h1m3 0h2m1 0h1M63 119h1m10 0h1m6 0h1m5 0h1m2 0h1m2 0h1m1 0h3m3 0h81m1 0h1m2 0h2m2 0h3m2 0h1m3 0h1m3 0h1M83 120h1m2 0h1m2 0h1m2 0h1m1 0h5m1 0h86m1 0h2m1 0h1m1 0h2m2 0h1m1 0h1m3 0h1M83 121h1m2 0h4m7 0h4m1 0h73m1 0h11m2 0h1m2 0h3m3 0h1m5 0h1M73 122h1m1 0h1m2 0h1m4 0h1m1 0h1m4 0h6m1 0h98m1 0h1m1 0h1m1 0h2m2 0h1M71 123h1m1 0h2m4 0h1m10 0h2m1 0h5m1 0h78m2 0h3m1 0h2m1 0h2m1 0h4m3 0h1m1 0h1m2 0h1m5 0h2M74 124h1m13 0h1m1 0h2m2 0h84m1 0h5m1 0h7m1 0h2m1 0h1m1 0h3m2 0h1m2 0h1M78 125h2m2 0h1m4 0h1m1 0h1m1 0h1m1 0h97m2 0h2m1 0h1m1 0h3m1 0h1m5 0h1M74 126h1m12 0h1m3 0h2m2 0h91m1 0h1m1 0h3m1 0h2m2 0h2m3 0h1m1 0h1m2 0h1M73 127h1m3 0h2m1 0h1m1 0h1m1 0h10m1 0h84m2 0h4m1 0h12m1 0h2m1 0h2m2 0h1M84 128h1m2 0h102m1 0h1m1 0h1m1 0h6M53 129h1m14 0h1m11 0h1m2 0h105m1 0h1m1 0h3m2 0h1m3 0h1m1 0h1m5 0h1M77 130h2m3 0h2m1 0h2m1 0h98m1 0h2m1 0h1m1 0h1m1 0h5m2 0h2m6 0h1M58 131h1m15 0h1m4 0h4m1 0h5m1 0h96m2 0h5m3 0h1m2 0h1m3 0h1m4 0h1M54 132h1m2 0h1m12 0h1m7 0h3m1 0h2m1 0h98m1 0h1m1 0h1m2 0h1m1 0h2m3 0h1m1 0h1m1 0h1M76 133h1m4 0h104m1 0h1m1 0h1m2 0h2m4 0h1m1 0h1m2 0h1M66 134h1m6 0h1m4 0h2m1 0h1m2 0h100m1 0h6m1 0h2m1 0h3m1 0h1m6 0h2M70 135h1m4 0h1m1 0h1m4 0h95m1 0h2m1 0h3m1 0h2m1 0h2m1 0h4m4 0h3m2 0h1m1 0h1M64 136h1m6 0h1m4 0h2m2 0h1m1 0h2m1 0h100m1 0h2m4 0h1m2 0h3m1 0h1m3 0h1M56 137h1m15 0h3m1 0h1m1 0h2m1 0h5m1 0h95m1 0h2m1 0h2m1 0h1m1 0h3m1 0h1m6 0h1m5 0h1M70 138h1m4 0h5m2 0h97m1 0h5m1 0h4m1 0h4m2 0h1m2 0h1m3 0h2m1 0h2M77 139h105m1 0h4m3 0h4m1 0h1m1 0h1m1 0h2m6 0h1M59 140h1m15 0h1m2 0h100m1 0h7m2 0h2m3 0h1m2 0h1m6 0h1M72 141h1m2 0h2m2 0h94m1 0h2m2 0h3m1 0h2m1 0h2m1 0h2m1 0h4m1 0h2m2 0h1m6 0h2M71 142h1m2 0h2m3 0h2m2 0h91m1 0h5m2 0h3m1 0h3m2 0h2m1 0h2m6 0h1m6 0h1M64 143h1m7 0h1m3 0h1m1 0h2m1 0h96m1 0h1m1 0h5m4 0h3m1 0h2m1 0h2m2 0h1M74 144h1m7 0h92m1 0h2m1 0h5m2 0h1m1 0h2m1 0h2m4 0h1m7 0h1M58 145h1m12 0h1m1 0h2m1 0h1m3 0h86m1 0h1m1 0h3m1 0h2m2 0h3m5 0h1m2 0h2m2 0h3m6 0h1m6 0h1M78 146h91m2 0h3m1 0h1m1 0h2m2 0h3m1 0h1m1 0h1m1 0h1m1 0h1m2 0h2m1 0h2m1 0h1m4 0h2m2 0h1M77 147h79m1 0h8m1 0h1m1 0h5m4 0h1m2 0h2m1 0h1m1 0h2m1 0h3m1 0h1m3 0h2m4 0h2M65 148h1m11 0h84m3 0h1m1 0h1m1 0h6m3 0h1m1 0h3m2 0h1m1 0h1m2 0h2m4 0h1m3 0h1m1 0h1M69 149h1m4 0h1m1 0h2m3 0h2m1 0h66m1 0h15m3 0h2m1 0h1m1 0h3m1 0h2m1 0h3m1 0h2m4 0h1m5 0h1m3 0h2M53 150h1m14 0h1m4 0h1m5 0h7m1 0h54m1 0h3m1 0h3m1 0h7m1 0h3m1 0h3m1 0h5m1 0h1m1 0h2m2 0h1m2 0h1m1 0h1m1 0h3m1 0h1m2 0h1m1 0h1m2 0h4m1 0h1m3 0h1M61 151h1m4 0h3m7 0h5m2 0h2m1 0h42m1 0h11m1 0h2m1 0h3m1 0h1m1 0h6m3 0h3m2 0h1m1 0h1m1 0h2m2 0h1m2 0h1m3 0h2m2 0h1m12 0h1m6 0h1m4 0h1M68 152h1m2 0h1m1 0h2m1 0h3m1 0h1m2 0h2m2 0h50m1 0h1m1 0h3m1 0h1m1 0h5m1 0h2m2 0h1m3 0h2m3 0h3m2 0h1m2 0h1m1 0h1m3 0h1m6 0h1m3 0h2M66 153h1m2 0h1m7 0h1m1 0h3m2 0h4m1 0h43m1 0h1m1 0h9m1 0h5m1 0h2m1 0h1m1 0h1m1 0h2m1 0h3m1 0h2m5 0h1m1 0h1m1 0h3m1 0h1m1 0h1m3 0h1m1 0h1m3 0h1m3 0h1m2 0h1m3 0h1m1 0h1M66 154h2m4 0h1m5 0h1m1 0h1m1 0h1m2 0h3m1 0h28m1 0h2m1 0h6m2 0h6m2 0h4m4 0h1m1 0h3m1 0h2m6 0h3m1 0h3m1 0h1m4 0h2m3 0h1m5 0h1m2 0h2m21 0h1M62 155h2m2 0h1m5 0h1m3 0h1m2 0h1m3 0h1m1 0h3m1 0h3m3 0h20m1 0h10m1 0h10m2 0h2m1 0h1m2 0h2m1 0h2m1 0h3m5 0h2m1 0h1m4 0h2m5 0h1m4 0h1m1 0h3m1 0h1m7 0h1m3 0h1m2 0h1M59 156h1m3 0h1m5 0h1m4 0h1m2 0h1m4 0h2m1 0h1m1 0h3m1 0h12m1 0h2m1 0h3m2 0h1m1 0h1m1 0h1m1 0h3m1 0h1m3 0h3m1 0h3m2 0h2m5 0h2m3 0h2m2 0h3m1 0h1m15 0h2m4 0h2m6 0h1m2 0h1M64 157h1m7 0h1m7 0h1m2 0h2m3 0h1m3 0h1m1 0h2m1 0h1m1 0h2m1 0h4m1 0h4m1 0h1m1 0h1m2 0h1m1 0h5m3 0h2m3 0h2m4 0h1m1 0h3m1 0h2m6 0h1m3 0h1m1 0h1m2 0h2m5 0h2m1 0h1m4 0h2m15 0h1m1 0h1M75 158h1m1 0h1m1 0h1m1 0h1m1 0h1m2 0h1m2 0h5m1 0h8m1 0h3m1 0h2m1 0h3m6 0h3m1 0h1m2 0h1m1 0h1m1 0h2m2 0h3m1 0h5m5 0h1m1 0h3m5 0h3m2 0h1m2 0h1m7 0h1m8 0h1M74 159h1m1 0h1m1 0h1m1 0h1m1 0h1m2 0h1m1 0h2m1 0h2m3 0h1m1 0h3m2 0h2m4 0h2m2 0h3m1 0h4m1 0h1m1 0h3m2 0h1m4 0h1m1 0h4m1 0h1m2 0h1m3 0h1m2 0h1m2 0h1m18 0h1m1 0h1m2 0h1M71 160h1m6 0h1m1 0h2m4 0h1m1 0h1m1 0h1m1 0h1m1 0h2m1 0h3m1 0h1m2 0h2m1 0h2m1 0h1m1 0h3m5 0h4m2 0h1m10 0h1m1 0h1m2 0h1m9 0h1m1 0h1m3 0h1m3 0h1m1 0h1m7 0h1m3 0h1m15 0h1m1 0h1m8 0h1M76 161h1m1 0h1m6 0h1m2 0h1m1 0h2m4 0h2m1 0h1m2 0h3m1 0h1m4 0h1m1 0h1m1 0h1m4 0h1m4 0h2m3 0h1m1 0h4m2 0h1m3 0h2m1 0h1m4 0h1m6 0h1m2 0h1m14 0h1m5 0h1M62 162h1m23 0h1m1 0h1m4 0h1m6 0h1m2 0h2m8 0h2m1 0h1m1 0h1m2 0h2m2 0h1m2 0h1m2 0h1m7 0h1m1 0h1m34 0h1m1 0h1M73 163h1m6 0h2m2 0h3m2 0h1m3 0h1m2 0h1m8 0h3m2 0h1m2 0h2m1 0h1m1 0h1m7 0h1m8 0h1m3 0h1m10 0h1m7 0h1m5 0h1m4 0h1m31 0h1M77 164h1m4 0h1m9 0h1m1 0h1m3 0h1m1 0h1m3 0h3m1 0h1m1 0h1m1 0h1m5 0h1m1 0h1m5 0h1m9 0h2m2 0h1m6 0h2m5 0h1m8 0h1m10 0h1M76 165h1m12 0h1m3 0h1m2 0h3m7 0h1m1 0h1m4 0h1m1 0h1m4 0h1m1 0h1m15 0h1m50 0h1M87 166h1m5 0h1m1 0h1m3 0h1m1 0h1m7 0h1m14 0h2m4 0h3m14 0h1m8 0h1m30 0h1m1 0h1M89 167h1m2 0h1m2 0h1m3 0h1m3 0h1m5 0h1m1 0h1m2 0h1m10 0h1m5 0h1m4 0h1m6 0h1m4 0h1m9 0h2M91 168h2m5 0h1m1 0h2m8 0h1m7 0h1m21 0h1m30 0h1m13 0h1M80 169h1m20 0h1m7 0h1m1 0h1m2 0h1m4 0h1m2 0h1m3 0h1m2 0h1m1 0h1m3 0h1m3 0h1m2 0h1m16 0h1m26 0h1M89 170h1m8 0h1m2 0h1m3 0h1m10 0h1m2 0h1m39 0h1M66 171h1m27 0h1m13 0h1m24 0h1m44 0h1M180 172h1M94 173h1m16 0h1m10 0h1m15 0h1m6 0h1m21 0h1M78 174h1m31 0h1m48 0h1m22 0h1M61 175h1m32 0h2m23 0h1m9 0h1m2 0h1M96 176h1M79 177h1m8 0h1m3 0h1m7 0h1M83 178h1m28 0h1M80 179h1m32 0h1m17 0h1M159 181h1M100 182h1M76 188h1M69 189h1M109 191h1M144 192h1M101 196h1M74 198h1" stroke="#46195C" stroke-width="1" fill="none"/>
<defs><radialGradient id="gl4"><stop offset="0" stop-color="#A8DB34" stop-opacity="1"/><stop offset="0.1" stop-color="#4AC16D" stop-opacity="1"/><stop offset="0.22" stop-color="#1FA187" stop-opacity="1"/><stop offset="0.4" stop-color="#2D708E" stop-opacity="0.95"/><stop offset="0.62" stop-color="#3E4989" stop-opacity="0.75"/><stop offset="0.85" stop-color="#472D7B" stop-opacity="0.35"/><stop offset="1" stop-color="#46195C" stop-opacity="0"/></radialGradient></defs>
<ellipse cx="340.2" cy="1472.3" rx="10" ry="17" fill="url(#gl4)" transform="rotate(28 340.2 1472.3)"/>
<rect x="151.7" y="1235.4" width="377.1" height="366.1" fill="none" stroke="#333333" stroke-width="4.4"/>
<line x1="168.7" y1="1603.7" x2="168.7" y2="1607.9" stroke="#333333" stroke-width="4.1"/>
<text x="177.7" y="1633.6" font-size="28" text-anchor="middle" fill="#4D4D4D" stroke="#4D4D4D">−50</text>
<line x1="254.5" y1="1603.7" x2="254.5" y2="1607.9" stroke="#333333" stroke-width="4.1"/>
<text x="263.5" y="1633.6" font-size="28" text-anchor="middle" fill="#4D4D4D" stroke="#4D4D4D">−25</text>
<line x1="340.2" y1="1603.7" x2="340.2" y2="1607.9" stroke="#333333" stroke-width="4.1"/>
<text x="343.1" y="1633.6" font-size="28" text-anchor="middle" fill="#4D4D4D" stroke="#4D4D4D">0</text>
<line x1="426.0" y1="1603.7" x2="426.0" y2="1607.9" stroke="#333333" stroke-width="4.1"/>
<text x="431.6" y="1633.6" font-size="28" text-anchor="middle" fill="#4D4D4D" stroke="#4D4D4D">25</text>
<line x1="511.8" y1="1603.7" x2="511.8" y2="1607.9" stroke="#333333" stroke-width="4.1"/>
<text x="517.4" y="1633.6" font-size="28" text-anchor="middle" fill="#4D4D4D" stroke="#4D4D4D">50</text>
<line x1="145.3" y1="1251.5" x2="149.5" y2="1251.5" stroke="#333333" stroke-width="4.1"/>
<text x="139.6" y="1258.2" font-size="28" text-anchor="end" fill="#4D4D4D" stroke="#4D4D4D">50</text>
<line x1="145.3" y1="1362.6" x2="149.5" y2="1362.6" stroke="#333333" stroke-width="4.1"/>
<text x="139.6" y="1369.3" font-size="28" text-anchor="end" fill="#4D4D4D" stroke="#4D4D4D">25</text>
<line x1="145.3" y1="1473.7" x2="149.5" y2="1473.7" stroke="#333333" stroke-width="4.1"/>
<text x="134.7" y="1480.4" font-size="28" text-anchor="end" fill="#4D4D4D" stroke="#4D4D4D">0</text>
<line x1="145.3" y1="1584.7" x2="149.5" y2="1584.7" stroke="#333333" stroke-width="4.1"/>
<text x="145.6" y="1591.4" font-size="28" text-anchor="end" fill="#4D4D4D" stroke="#4D4D4D">−25</text>
<text x="349.7" y="1223.3" font-size="28.8" text-anchor="middle" fill="#000" stroke="#000">R = 0.36</text>
<text x="354.9" y="1658.8" font-size="28.5" text-anchor="middle" fill="#000" stroke="#000">SMARCA4</text>
<text x="354.9" y="1687.8" font-size="28.5" text-anchor="middle" fill="#000" stroke="#000">WT-KO</text>
<text x="54.9" y="1410.4" font-size="28.5" text-anchor="middle" fill="#000" stroke="#000" transform="rotate(-90 54.9 1410.4)">ARID2</text>
<text x="88.7" y="1411.5" font-size="28.5" text-anchor="middle" fill="#000" stroke="#000" transform="rotate(-90 88.7 1411.5)">WT-KO</text>
<text x="553.8" y="1301.2" font-size="28.6" text-anchor="start" fill="#000" stroke="#000">Normalized</text>
<text x="553.8" y="1335.4" font-size="28.6" text-anchor="start" fill="#000" stroke="#000">counts</text>
<rect x="562.6" y="1346.1" width="35.8" height="177.0" fill="url(#virg)"/>
<line x1="562.6" y1="1381.4" x2="569.6" y2="1381.4" stroke="#fff" stroke-width="1.4"/>
<line x1="591.4" y1="1381.4" x2="598.4" y2="1381.4" stroke="#fff" stroke-width="1.4"/>
<text x="610.0" y="1387.2" font-size="28.4" text-anchor="start" fill="#000" stroke="#000">750</text>
<line x1="562.6" y1="1428.6" x2="569.6" y2="1428.6" stroke="#fff" stroke-width="1.4"/>
<line x1="591.4" y1="1428.6" x2="598.4" y2="1428.6" stroke="#fff" stroke-width="1.4"/>
<text x="610.0" y="1434.4" font-size="28.4" text-anchor="start" fill="#000" stroke="#000">500</text>
<line x1="562.6" y1="1475.9" x2="569.6" y2="1475.9" stroke="#fff" stroke-width="1.4"/>
<line x1="591.4" y1="1475.9" x2="598.4" y2="1475.9" stroke="#fff" stroke-width="1.4"/>
<text x="610.0" y="1482.0" font-size="28.4" text-anchor="start" fill="#000" stroke="#000">250</text>
<rect x="841.5" y="1235.2" width="377.5" height="366.5" fill="#fff"/>
<line x1="901.6" y1="1236.2" x2="901.6" y2="1600.7" stroke="#ECECEC" stroke-width="1.5"/>
<line x1="987.4" y1="1236.2" x2="987.4" y2="1600.7" stroke="#ECECEC" stroke-width="1.5"/>
<line x1="1073.1" y1="1236.2" x2="1073.1" y2="1600.7" stroke="#ECECEC" stroke-width="1.5"/>
<line x1="1158.9" y1="1236.2" x2="1158.9" y2="1600.7" stroke="#ECECEC" stroke-width="1.5"/>
<line x1="842.5" y1="1307.0" x2="1218.0" y2="1307.0" stroke="#ECECEC" stroke-width="1.5"/>
<line x1="842.5" y1="1418.1" x2="1218.0" y2="1418.1" stroke="#ECECEC" stroke-width="1.5"/>
<line x1="842.5" y1="1529.2" x2="1218.0" y2="1529.2" stroke="#ECECEC" stroke-width="1.5"/>
<line x1="858.7" y1="1236.2" x2="858.7" y2="1600.7" stroke="#ECECEC" stroke-width="3.0"/>
<line x1="944.5" y1="1236.2" x2="944.5" y2="1600.7" stroke="#ECECEC" stroke-width="3.0"/>
<line x1="1030.2" y1="1236.2" x2="1030.2" y2="1600.7" stroke="#ECECEC" stroke-width="3.0"/>
<line x1="1116.0" y1="1236.2" x2="1116.0" y2="1600.7" stroke="#ECECEC" stroke-width="3.0"/>
<line x1="1201.8" y1="1236.2" x2="1201.8" y2="1600.7" stroke="#ECECEC" stroke-width="3.0"/>
<line x1="842.5" y1="1251.5" x2="1218.0" y2="1251.5" stroke="#ECECEC" stroke-width="3.0"/>
<line x1="842.5" y1="1362.6" x2="1218.0" y2="1362.6" stroke="#ECECEC" stroke-width="3.0"/>
<line x1="842.5" y1="1473.7" x2="1218.0" y2="1473.7" stroke="#ECECEC" stroke-width="3.0"/>
<line x1="842.5" y1="1584.7" x2="1218.0" y2="1584.7" stroke="#ECECEC" stroke-width="3.0"/>
<path transform="translate(842.50 1237.06) scale(1.72)" d="M105 8h1M111 9h1M116 10h1M113 11h1m16 0h1M104 13h2m7 0h1M101 14h1m1 0h1M78 15h1m28 0h1m12 0h1M97 16h1m5 0h1M87 17h1m13 0h1m11 0h1M96 18h1m3 0h1m7 0h1M99 19h1m24 0h1m1 0h1M91 20h1m3 0h2m17 0h1m5 0h1M97 21h1m1 0h1m10 0h1m2 0h1M103 22h3m13 0h1M96 23h1m15 0h1m7 0h1M101 24h2m10 0h1m18 0h1M81 25h1m2 0h1m6 0h1m10 0h1m2 0h1m6 0h1M94 26h1m10 0h1m8 0h1m1 0h1m3 0h1M81 27h1m4 0h1m6 0h1m2 0h1m3 0h1m16 0h1M81 28h1m20 0h1m15 0h1m22 0h1M96 29h1m6 0h1m4 0h2m8 0h1m10 0h1M106 30h1m2 0h1m3 0h2m3 0h2m1 0h2M89 31h1m4 0h2m9 0h1m1 0h1m3 0h2m4 0h1M87 32h2m12 0h1m4 0h1m1 0h1m12 0h1M80 33h1m21 0h2m5 0h1m12 0h1M97 34h1m5 0h2m1 0h1m1 0h1m1 0h2M93 35h1m5 0h1m9 0h1m2 0h2m16 0h1M91 36h1m5 0h1m5 0h2m1 0h1m4 0h2m8 0h1m2 0h1m11 0h1M85 37h1m13 0h1m1 0h1m4 0h1m9 0h1m3 0h1m5 0h1M91 38h1m11 0h1m1 0h1m11 0h1M96 39h1m4 0h1m10 0h1m1 0h1m13 0h1M100 40h1m2 0h1m1 0h2m2 0h2m1 0h1m6 0h1m1 0h2m1 0h1M82 41h1m8 0h1m2 0h1m9 0h1m5 0h3m2 0h1m2 0h1m10 0h1m6 0h1M104 42h1m3 0h1m2 0h1M78 43h1m9 0h1m5 0h1m11 0h1m1 0h1m1 0h4m4 0h1m3 0h2M87 44h2m9 0h1m3 0h1m9 0h1m2 0h2M88 45h1m4 0h1m6 0h2m3 0h2m6 0h1m1 0h1m1 0h2M89 46h1m6 0h1m6 0h2m3 0h1m8 0h1M89 47h1m2 0h1m4 0h1m2 0h1m7 0h2m1 0h1m3 0h1m3 0h1m2 0h1M84 48h1m4 0h2m9 0h1m2 0h1m4 0h1m4 0h1m1 0h2m10 0h1M101 49h2m5 0h1m2 0h1m6 0h1m1 0h1m6 0h1M80 50h1m6 0h1m4 0h2m6 0h1m5 0h1m7 0h1m2 0h1m7 0h1m4 0h1M81 51h1m5 0h1m11 0h2m4 0h2m1 0h1m4 0h3m3 0h3m3 0h1m1 0h1M82 52h1m7 0h1m9 0h1m2 0h1m1 0h4m1 0h1m7 0h4M80 53h1m10 0h2m1 0h2m9 0h1m5 0h1m2 0h1m1 0h1m3 0h2m14 0h1M92 54h1m1 0h1m9 0h1m1 0h4m5 0h1m8 0h3m7 0h1M86 55h1m9 0h1m1 0h1m2 0h4m3 0h2m2 0h1m2 0h3m3 0h1m1 0h1m15 0h1M86 56h1m7 0h2m1 0h1m9 0h2m2 0h1m6 0h2m5 0h1M82 57h1m5 0h2m11 0h2m1 0h1m1 0h2m1 0h3m1 0h1m6 0h1m10 0h2m12 0h1M83 58h3m10 0h2m3 0h1m4 0h4m1 0h2m4 0h1m7 0h1M81 59h1m20 0h1m1 0h4m1 0h2m8 0h1m1 0h1m5 0h1m2 0h1M76 60h1m13 0h1m1 0h1m10 0h1m3 0h1m5 0h2m1 0h1m7 0h1M82 61h1m15 0h1m2 0h3m3 0h4m1 0h1m3 0h2m8 0h1m5 0h1M88 62h1m4 0h2m8 0h1m2 0h1m5 0h1m1 0h1m1 0h3m5 0h1m4 0h2m7 0h1M85 63h1m3 0h2m4 0h1m2 0h1m4 0h1m1 0h1m1 0h1m2 0h2m1 0h1m8 0h2M69 64h1m15 0h1m5 0h1m2 0h2m1 0h2m1 0h1m3 0h1m4 0h1m5 0h1m3 0h1m3 0h1m1 0h1m10 0h1M76 65h1m15 0h2m6 0h3m1 0h4m1 0h1m1 0h1m1 0h6m4 0h2m3 0h1m1 0h1m6 0h1M85 66h1m5 0h2m1 0h2m2 0h4m3 0h3m1 0h1m5 0h1m1 0h1m2 0h1m2 0h1m1 0h1m2 0h1m15 0h1M87 67h1m1 0h1m4 0h2m1 0h1m2 0h5m3 0h7m3 0h2m3 0h1m1 0h1m1 0h1m14 0h1M75 68h1m4 0h1m8 0h1m1 0h1m5 0h1m6 0h3m1 0h1m2 0h2m1 0h1m1 0h2m5 0h2m4 0h1m16 0h1M71 69h1m10 0h1m3 0h2m7 0h1m3 0h1m1 0h3m2 0h3m1 0h2m1 0h2m1 0h3m12 0h1m8 0h1m8 0h1M79 70h2m11 0h1m1 0h1m5 0h1m3 0h4m1 0h4m3 0h2m3 0h3m3 0h1m9 0h1m10 0h1M86 71h1m10 0h2m1 0h1m1 0h3m1 0h3m1 0h3m1 0h4m3 0h1m3 0h1m3 0h1m1 0h1m1 0h1m2 0h1m16 0h1M81 72h1m8 0h1m8 0h2m1 0h4m1 0h2m1 0h3m3 0h2m1 0h2m1 0h1m1 0h3m1 0h1m1 0h1m6 0h1m6 0h1M93 73h1m3 0h1m3 0h1m2 0h10m1 0h1m4 0h1m2 0h1m3 0h1m5 0h2m44 0h1M93 74h4m2 0h1m1 0h3m1 0h5m1 0h1m2 0h2m1 0h1m3 0h1m4 0h3m3 0h1m2 0h2m1 0h1m6 0h1m1 0h2m16 0h1M96 75h2m1 0h1m2 0h11m2 0h3m1 0h3m2 0h2m3 0h1M82 76h1m8 0h1m3 0h1m1 0h6m1 0h8m1 0h3m1 0h1m1 0h1m3 0h1m1 0h1m10 0h2m6 0h1M87 77h1m3 0h2m1 0h1m1 0h1m4 0h1m1 0h7m1 0h5m1 0h1m2 0h1m1 0h1m1 0h1m1 0h2m21 0h1M85 78h1m3 0h1m6 0h22m2 0h2m1 0h2m3 0h1m2 0h1m2 0h1m2 0h4m5 0h1m1 0h1m6 0h1m2 0h2m8 0h1m31 0h1M83 79h1m6 0h1m4 0h1m2 0h1m2 0h9m1 0h5m1 0h2m1 0h8m1 0h1m2 0h1m1 0h1m2 0h1m12 0h1m2 0h1m5 0h1M84 80h1m3 0h1m3 0h1m1 0h1m1 0h5m1 0h12m1 0h1m1 0h1m1 0h1m2 0h2m2 0h1m2 0h1m5 0h2m2 0h4m5 0h1m1 0h1m6 0h1M86 81h2m8 0h1m1 0h16m1 0h7m2 0h1m2 0h1m1 0h2m2 0h1m5 0h1m1 0h2m11 0h1m5 0h1m11 0h2M70 82h1m4 0h1m8 0h1m4 0h1m2 0h5m1 0h17m2 0h1m2 0h1m1 0h1m3 0h2m3 0h1m1 0h2m1 0h1m4 0h1m1 0h2m1 0h1m3 0h2m6 0h1m1 0h1M83 83h3m3 0h1m1 0h2m1 0h22m1 0h1m1 0h1m1 0h2m2 0h3m1 0h1m3 0h2m2 0h1m4 0h1m5 0h1m16 0h1M69 84h1m15 0h1m3 0h3m2 0h3m2 0h18m2 0h3m2 0h1m4 0h1m1 0h1m3 0h1m3 0h1m14 0h1M87 85h1m2 0h1m1 0h1m4 0h18m1 0h1m1 0h4m1 0h1m3 0h3m1 0h4m2 0h1m1 0h4m8 0h1m1 0h1m2 0h1M80 86h1m3 0h1m2 0h1m1 0h1m2 0h28m1 0h2m2 0h1m2 0h1m1 0h1m1 0h2m3 0h1m2 0h1m5 0h1m5 0h2m2 0h1M93 87h1m2 0h23m2 0h1m1 0h2m1 0h2m2 0h1m1 0h1m2 0h1m3 0h1m1 0h1m2 0h2m3 0h1m4 0h2M85 88h1m1 0h1m2 0h3m1 0h25m1 0h4m3 0h1m1 0h1m2 0h1m2 0h1m1 0h2m7 0h4m2 0h1m6 0h1M77 89h2m10 0h2m2 0h24m1 0h3m1 0h1m1 0h1m1 0h1m2 0h3m1 0h2m1 0h3m4 0h1m2 0h1m3 0h2m11 0h1m22 0h1M83 90h1m2 0h1m4 0h2m1 0h3m1 0h27m2 0h2m4 0h1m1 0h1m9 0h1m1 0h1m2 0h2m5 0h1m3 0h1m1 0h1M81 91h2m3 0h2m3 0h3m2 0h22m2 0h3m1 0h1m1 0h3m1 0h2m1 0h1m1 0h1m2 0h1m1 0h1m2 0h1m6 0h2m5 0h2M72 92h1m7 0h1m1 0h1m4 0h1m4 0h2m1 0h1m1 0h25m3 0h1m3 0h3m2 0h2m5 0h2m2 0h2m1 0h1m7 0h1m1 0h2m1 0h1m7 0h1m4 0h1M71 93h1m10 0h1m5 0h1m3 0h30m1 0h3m1 0h2m1 0h4m1 0h4m7 0h1m2 0h1m2 0h1m2 0h2m9 0h1m9 0h1M84 94h2m3 0h1m1 0h1m1 0h27m1 0h4m1 0h1m1 0h1m3 0h1m6 0h2m13 0h1m2 0h1M81 95h1m1 0h1m2 0h4m1 0h3m1 0h25m1 0h2m2 0h1m1 0h3m1 0h4m1 0h1m3 0h1m1 0h2m1 0h1m1 0h2m3 0h2m1 0h1m1 0h1M86 96h1m1 0h3m1 0h30m2 0h1m1 0h7m4 0h3m3 0h1m1 0h2m6 0h2m11 0h1m2 0h1m28 0h1M83 97h2m1 0h4m2 0h29m1 0h5m5 0h1m2 0h4m8 0h3m18 0h1M78 98h1m2 0h1m2 0h3m3 0h6m1 0h22m1 0h5m1 0h4m1 0h1m2 0h1m2 0h2m2 0h4m1 0h1m1 0h1m2 0h3m5 0h1m2 0h2m6 0h1M83 99h1m2 0h1m2 0h1m1 0h28m1 0h8m2 0h1m1 0h1m1 0h1m3 0h2m1 0h1m1 0h2m6 0h1m2 0h3m1 0h1m2 0h1m1 0h1m6 0h1m1 0h1m1 0h1M48 100h1m33 0h1m3 0h1m2 0h1m1 0h35m2 0h1m2 0h1m1 0h1m1 0h2m1 0h1m1 0h2m1 0h3m4 0h1m2 0h2m2 0h1m11 0h2m1 0h2M59 101h1m10 0h1m3 0h1m9 0h2m5 0h34m1 0h4m2 0h1m2 0h1m2 0h1m3 0h1m6 0h1m2 0h2m1 0h1m8 0h2m4 0h1m1 0h1m1 0h1M82 102h3m2 0h5m2 0h27m1 0h7m1 0h1m1 0h1m3 0h1m2 0h1m1 0h1m2 0h2m4 0h1m1 0h3m1 0h1m1 0h2m8 0h2M86 103h1m1 0h4m1 0h33m3 0h1m2 0h1m2 0h2m1 0h1m1 0h1m4 0h1m4 0h1m3 0h1m2 0h1m3 0h2m6 0h1m11 0h1M66 104h1m8 0h1m12 0h2m1 0h30m1 0h4m1 0h2m1 0h1m1 0h1m5 0h1m1 0h1m2 0h1m1 0h1m2 0h1m1 0h2m8 0h1m9 0h1m4 0h1m2 0h1M86 105h2m1 0h44m4 0h1m2 0h3m1 0h2m1 0h2m3 0h1m6 0h1m1 0h1m6 0h3m22 0h1M79 106h1m3 0h39m2 0h1m1 0h2m1 0h3m1 0h1m1 0h4m3 0h3m3 0h1m1 0h1m1 0h1m5 0h2m2 0h1m5 0h1m11 0h1m24 0h1M82 107h1m3 0h3m1 0h37m5 0h3m3 0h1m2 0h1m1 0h1m2 0h1m4 0h1m1 0h1m1 0h1m3 0h1m2 0h1m1 0h1m3 0h1M83 108h1m1 0h1m1 0h34m1 0h4m1 0h1m2 0h1m1 0h2m1 0h1m1 0h2m1 0h1m1 0h3m1 0h3m2 0h2m1 0h1m4 0h1m14 0h1M73 109h1m5 0h1m4 0h2m2 0h37m1 0h1m1 0h3m1 0h2m1 0h1m1 0h1m2 0h2m4 0h1m1 0h2m8 0h2m1 0h2m4 0h1m2 0h3m3 0h1m19 0h1M71 110h1m6 0h3m1 0h2m2 0h37m1 0h4m1 0h2m1 0h1m1 0h1m1 0h1m7 0h1m2 0h4m1 0h1m3 0h1m1 0h1m3 0h1m2 0h1m6 0h1m7 0h1m1 0h2m1 0h1m2 0h1M65 111h1m15 0h1m3 0h2m1 0h37m1 0h2m2 0h2m3 0h2m1 0h4m2 0h1m2 0h7m5 0h1m2 0h2m2 0h1m3 0h1m3 0h2m7 0h1m14 0h1M74 112h2m2 0h1m3 0h1m1 0h1m2 0h45m2 0h1m3 0h4m1 0h1m3 0h2m1 0h3m9 0h1m5 0h2m3 0h1m7 0h1M69 113h1m10 0h1m1 0h45m2 0h1m1 0h5m5 0h1m1 0h1m1 0h3m1 0h1m1 0h3m4 0h4m7 0h2m2 0h2m5 0h1m10 0h1m2 0h1m4 0h1M76 114h1m2 0h1m2 0h44m1 0h2m2 0h1m1 0h1m5 0h1m1 0h1m1 0h3m2 0h2m5 0h1m3 0h3m1 0h4m1 0h2m3 0h1m1 0h1m1 0h1m5 0h1m1 0h1m10 0h1m1 0h1M79 115h1m1 0h1m2 0h2m1 0h44m2 0h2m2 0h7m1 0h2m1 0h2m1 0h1m2 0h1m2 0h1m1 0h1m3 0h1m5 0h1m2 0h1m1 0h1m3 0h1m1 0h1m2 0h3m6 0h1m2 0h1M68 116h1m8 0h2m7 0h2m1 0h45m1 0h1m1 0h2m1 0h3m1 0h1m2 0h1m4 0h2m2 0h1m2 0h1m1 0h4m2 0h2m3 0h1m2 0h4m1 0h1m6 0h1m4 0h2M76 117h1m4 0h1m1 0h2m1 0h50m1 0h4m1 0h2m1 0h1m4 0h1m1 0h2m3 0h1m1 0h1m3 0h1m1 0h1m2 0h1m4 0h1m3 0h1m2 0h1m9 0h1m11 0h1m1 0h1M81 118h1m2 0h1m1 0h1m1 0h42m1 0h6m1 0h2m2 0h2m1 0h1m1 0h3m1 0h1m1 0h1m1 0h1m1 0h1m1 0h3m3 0h2m1 0h1m1 0h1m1 0h1m1 0h3m7 0h1m1 0h1m1 0h1m4 0h1m5 0h1m1 0h2M76 119h1m1 0h1m2 0h1m2 0h1m1 0h54m3 0h2m2 0h1m1 0h1m1 0h1m1 0h2m1 0h3m2 0h1m1 0h2m3 0h3m8 0h2m2 0h3m2 0h1m4 0h1m13 0h1M77 120h1m2 0h1m2 0h1m1 0h1m1 0h43m1 0h3m2 0h7m2 0h2m1 0h1m1 0h2m1 0h1m1 0h4m1 0h3m3 0h1m2 0h3m7 0h1m6 0h1m1 0h4m1 0h1m5 0h1M67 121h1m1 0h1m2 0h1m7 0h3m1 0h3m1 0h51m1 0h9m2 0h3m2 0h1m2 0h5m1 0h1m4 0h1m1 0h1m1 0h2m1 0h2m1 0h1m2 0h1m2 0h1m2 0h1m1 0h1m3 0h1m2 0h1m3 0h1m5 0h1M78 122h1m5 0h55m1 0h1m1 0h3m1 0h5m2 0h1m1 0h3m1 0h11m1 0h3m1 0h2m2 0h4m3 0h2m1 0h1m1 0h1m3 0h1m8 0h1M55 123h1m11 0h1m4 0h1m2 0h1m5 0h58m1 0h3m1 0h8m2 0h7m1 0h2m1 0h6m3 0h1m1 0h1m2 0h1m4 0h1m1 0h3m1 0h1m2 0h1m1 0h1m8 0h1M80 124h5m1 0h56m1 0h5m1 0h2m2 0h4m1 0h7m1 0h7m2 0h3m1 0h1m1 0h2m1 0h1m1 0h1m1 0h2m1 0h1m3 0h1m3 0h1m2 0h1m1 0h1M76 125h1m3 0h2m2 0h66m1 0h5m1 0h1m1 0h8m1 0h2m1 0h2m2 0h2m1 0h2m1 0h2m4 0h1m1 0h1m2 0h4m7 0h2m1 0h1M73 126h1m5 0h1m2 0h1m1 0h1m1 0h69m1 0h12m1 0h1m1 0h6m1 0h2m2 0h4m1 0h2m1 0h1m1 0h1m2 0h2m1 0h2m1 0h1M68 127h1m6 0h1m2 0h6m1 0h71m1 0h10m1 0h8m2 0h3m1 0h4m1 0h2m1 0h1m2 0h3m1 0h2m1 0h1m1 0h1m5 0h1M69 128h1m6 0h3m1 0h1m2 0h90m1 0h1m3 0h5m1 0h2m1 0h1m2 0h1m1 0h1m1 0h2m1 0h2m3 0h1m3 0h1M81 129h1m1 0h1m1 0h90m1 0h6m1 0h3m2 0h1m2 0h1m1 0h4m1 0h1m3 0h5M67 130h1m9 0h1m3 0h96m1 0h3m1 0h1m1 0h2m1 0h1m2 0h1m1 0h3m1 0h3m2 0h2m1 0h2m3 0h1M63 131h1m14 0h2m1 0h102m1 0h1m1 0h9m2 0h3m1 0h1m1 0h3m3 0h1M64 132h1m4 0h1m6 0h1m3 0h103m1 0h1m2 0h3m1 0h1m1 0h2m4 0h1m1 0h1m3 0h1m1 0h1M68 133h1m2 0h1m3 0h1m4 0h1m4 0h103m1 0h7m1 0h1m7 0h2M70 134h1m1 0h1m5 0h1m2 0h103m1 0h9m4 0h1m2 0h1m1 0h1m1 0h1m1 0h1M77 135h4m2 0h108m1 0h2m1 0h4m1 0h1m4 0h1m2 0h2M66 136h1m10 0h1m1 0h3m1 0h106m3 0h3m3 0h3m2 0h1m3 0h1m1 0h1M73 137h1m3 0h1m1 0h108m1 0h7m1 0h2m1 0h2m1 0h2m1 0h1M71 138h1m8 0h115m2 0h4m1 0h2m4 0h1M69 139h1m2 0h2m8 0h1m1 0h106m1 0h2m1 0h5m1 0h1m1 0h1m1 0h1m1 0h4M58 140h1m5 0h1m13 0h1m2 0h2m1 0h106m1 0h4m1 0h2m1 0h2m1 0h1m3 0h2M71 141h1m4 0h1m1 0h1m2 0h1m1 0h2m2 0h98m1 0h1m1 0h5m1 0h1m1 0h2m8 0h1m2 0h1M76 142h5m2 0h1m1 0h106m1 0h3m1 0h2m1 0h3m1 0h1m2 0h1m1 0h2M69 143h1m6 0h2m1 0h1m1 0h2m1 0h102m1 0h2m1 0h1m3 0h3m2 0h1m1 0h1m2 0h2m2 0h1M76 144h1m2 0h1m2 0h1m1 0h102m2 0h3m1 0h1m4 0h1m1 0h2m1 0h1m2 0h5M62 145h1m8 0h1m3 0h1m1 0h1m1 0h6m1 0h99m1 0h5m3 0h2m1 0h3m3 0h1m1 0h1m1 0h1m1 0h1M70 146h1m5 0h1m5 0h1m1 0h2m1 0h99m1 0h6m3 0h2m1 0h2m4 0h1m3 0h1M68 147h1m6 0h2m6 0h91m1 0h4m1 0h5m1 0h1m1 0h2m1 0h2m1 0h3m2 0h1m1 0h1m1 0h2M46 148h1m27 0h1m4 0h97m1 0h3m1 0h1m1 0h4m1 0h1m4 0h4m1 0h1m2 0h1m5 0h2M54 149h1m20 0h3m2 0h5m2 0h86m1 0h1m1 0h2m1 0h2m1 0h2m2 0h2m2 0h5m2 0h1m1 0h1m1 0h2m2 0h1M77 150h2m1 0h1m1 0h1m2 0h100m1 0h3m1 0h2m2 0h1m1 0h1m6 0h2m4 0h1M73 151h2m3 0h1m2 0h1m3 0h73m1 0h13m1 0h4m1 0h3m1 0h2m2 0h1m1 0h1m2 0h2m2 0h1m1 0h1m2 0h1m3 0h1m2 0h1M75 152h1m3 0h7m1 0h74m2 0h9m1 0h5m2 0h2m4 0h2m1 0h1m1 0h1m2 0h1m3 0h1m1 0h1m2 0h1m1 0h3m1 0h1M72 153h1m6 0h2m2 0h73m1 0h6m1 0h2m1 0h2m1 0h3m2 0h2m3 0h3m1 0h1m1 0h1m2 0h4m3 0h1m5 0h1M77 154h1m4 0h74m1 0h6m1 0h5m2 0h2m6 0h6m2 0h6m12 0h1M72 155h2m1 0h1m4 0h2m1 0h1m2 0h76m2 0h1m1 0h1m1 0h2m2 0h3m1 0h1m4 0h1m1 0h4m4 0h5m9 0h1m1 0h1M78 156h1m4 0h6m1 0h65m1 0h2m3 0h1m2 0h3m1 0h1m1 0h1m1 0h1m1 0h1m1 0h1m1 0h2m1 0h1m1 0h2m1 0h1m1 0h3m1 0h1m7 0h1m1 0h3m2 0h1M69 157h1m11 0h1m1 0h1m1 0h1m1 0h45m3 0h10m1 0h1m1 0h3m1 0h1m1 0h1m1 0h1m1 0h1m1 0h4m1 0h1m9 0h1m2 0h1m2 0h3m4 0h2m8 0h1M73 158h2m4 0h1m5 0h3m1 0h45m1 0h5m1 0h4m1 0h2m1 0h1m1 0h3m3 0h1m1 0h3m4 0h1m3 0h4m1 0h1m6 0h3m19 0h1M67 159h1m14 0h1m4 0h2m1 0h38m1 0h12m2 0h4m1 0h1m1 0h2m5 0h1m1 0h1m4 0h2m1 0h2m2 0h1m15 0h1m8 0h1m4 0h1m6 0h1M59 160h1m20 0h1m7 0h37m2 0h10m1 0h2m1 0h1m1 0h1m1 0h1m10 0h1m1 0h1m7 0h2m1 0h1m16 0h1m16 0h1m2 0h1M69 161h1m6 0h4m1 0h2m3 0h2m2 0h37m1 0h5m1 0h1m1 0h2m1 0h1m1 0h1m2 0h4m1 0h2m6 0h1m7 0h1m2 0h1m5 0h1m2 0h1m5 0h1m8 0h1M63 162h1m12 0h1m2 0h1m1 0h1m1 0h1m1 0h3m1 0h1m2 0h30m2 0h4m2 0h3m1 0h1m2 0h1m1 0h3m3 0h2m2 0h2m6 0h1m3 0h1m1 0h1m1 0h1m2 0h1m1 0h1m4 0h1m8 0h1m8 0h1M81 163h1m4 0h26m1 0h10m2 0h4m2 0h1m1 0h4m6 0h1m3 0h1m4 0h2m3 0h1m3 0h1m4 0h1m7 0h1m18 0h1M81 164h1m1 0h1m1 0h1m2 0h2m1 0h1m1 0h25m1 0h8m3 0h1m3 0h1m1 0h1m2 0h1m2 0h2m4 0h1m4 0h1m2 0h2m5 0h1m6 0h1m6 0h1M81 165h1m1 0h2m2 0h4m1 0h21m2 0h9m2 0h1m3 0h2m1 0h1m1 0h1m8 0h1m23 0h1m4 0h1M86 166h2m1 0h1m1 0h2m1 0h1m2 0h16m1 0h3m1 0h8m3 0h1m3 0h1m2 0h1m3 0h1m12 0h1m6 0h1m8 0h1m3 0h1m9 0h1M81 167h2m3 0h8m1 0h1m1 0h1m1 0h12m3 0h4m2 0h1m2 0h1m1 0h1m6 0h1m6 0h1m7 0h1m5 0h1m7 0h1m3 0h1m18 0h1m4 0h1M81 168h1m2 0h1m3 0h1m2 0h1m2 0h4m1 0h7m1 0h6m1 0h1m3 0h6m3 0h2m1 0h1m5 0h1m8 0h1m20 0h1m22 0h1m10 0h1M67 169h1m7 0h1m2 0h1m3 0h1m4 0h1m1 0h14m1 0h5m2 0h2m2 0h1m1 0h2m1 0h2m5 0h1m5 0h1m1 0h1m1 0h1m5 0h1m4 0h1m37 0h1m5 0h1M84 170h1m3 0h7m1 0h5m2 0h1m2 0h7m2 0h1m1 0h1m1 0h1m3 0h1m1 0h4m1 0h2m7 0h1m5 0h1m8 0h1m13 0h1M76 171h1m1 0h1m2 0h1m2 0h1m4 0h1m3 0h3m1 0h1m1 0h2m1 0h2m1 0h3m1 0h2m1 0h3m3 0h2m2 0h1m1 0h1m3 0h2m2 0h1m4 0h1m5 0h1m2 0h2m4 0h1m1 0h1m14 0h1M87 172h1m4 0h3m1 0h3m4 0h4m2 0h4m2 0h1m1 0h1m3 0h3m4 0h1m3 0h1m30 0h1M81 173h1m2 0h6m3 0h1m2 0h1m4 0h3m1 0h2m1 0h1m1 0h1m2 0h4m9 0h1m6 0h1m8 0h1m16 0h1m11 0h1M88 174h1m4 0h1m3 0h5m1 0h1m3 0h1m7 0h2m4 0h1m2 0h1m1 0h1m12 0h1M81 175h1m2 0h1m3 0h2m2 0h2m2 0h1m2 0h2m1 0h2m2 0h1m1 0h1m1 0h1m2 0h1m1 0h1m1 0h1m2 0h1m2 0h1m2 0h1m13 0h1M90 176h2m10 0h3m2 0h1m1 0h1m3 0h1m7 0h1m18 0h1m1 0h1m3 0h1m22 0h1M76 177h1m4 0h1m12 0h1m3 0h1m2 0h2m2 0h1m1 0h2m1 0h1m2 0h1m9 0h1m2 0h1m3 0h1m6 0h1m26 0h1M86 178h1m1 0h4m4 0h1m3 0h1m1 0h1m1 0h1m1 0h3m2 0h1m2 0h1m3 0h1m6 0h1m6 0h1m11 0h1M88 179h1m3 0h2m4 0h3m1 0h1m1 0h2m1 0h1m7 0h1m1 0h1m8 0h1M67 180h1m14 0h1m2 0h1m2 0h1m2 0h1m8 0h2m1 0h4m3 0h2m12 0h1M79 181h1m9 0h1m1 0h2m4 0h2m2 0h3m3 0h1m14 0h1m2 0h1M76 182h1m13 0h2m6 0h1m2 0h2m5 0h1m1 0h1M75 183h1m12 0h1m4 0h1m1 0h1m3 0h2m1 0h2m4 0h1M80 184h1m5 0h1m1 0h1m8 0h1m3 0h1m1 0h1m1 0h1m4 0h1m13 0h1M86 185h1m4 0h2m1 0h2m2 0h2m1 0h1m2 0h1m1 0h3m3 0h1M87 186h1m3 0h1m3 0h1m11 0h1m1 0h1m1 0h1m6 0h1M83 187h1m4 0h1m4 0h1m8 0h1m3 0h2m10 0h1m47 0h1M98 188h1m2 0h2m3 0h1m8 0h1M90 189h1m18 0h1M78 190h1m11 0h1m1 0h1m1 0h1m8 0h1m8 0h1m2 0h1m2 0h1m10 0h1m10 0h1M83 191h1m18 0h2m2 0h1M77 192h1m16 0h1m8 0h1m7 0h1m13 0h1M83 193h1m3 0h1m12 0h1m4 0h1m20 0h1M75 194h1m21 0h1m2 0h1m1 0h1m9 0h1M92 195h1m6 0h1m3 0h1m5 0h1M93 196h1m16 0h1m3 0h1M86 197h1m2 0h1m1 0h1m4 0h1m1 0h1m5 0h1M86 198h1m6 0h1m18 0h1m1 0h1M95 199h2M78 200h1m6 0h1m4 0h1m2 0h1m19 0h1M93 201h2M104 202h1M134 203h1M86 204h1m27 0h1M86 205h1m10 0h1M107 207h1" stroke="#46195C" stroke-width="1" fill="none"/>
<defs><radialGradient id="gl5"><stop offset="0" stop-color="#F1E51D" stop-opacity="1"/><stop offset="0.08" stop-color="#B5DE2B" stop-opacity="1"/><stop offset="0.16" stop-color="#5DC863" stop-opacity="1"/><stop offset="0.27" stop-color="#21A585" stop-opacity="0.97"/><stop offset="0.4" stop-color="#2A768E" stop-opacity="0.93"/><stop offset="0.58" stop-color="#3E4C8A" stop-opacity="0.8"/><stop offset="0.8" stop-color="#472D7B" stop-opacity="0.45"/><stop offset="1" stop-color="#46195C" stop-opacity="0"/></radialGradient></defs>
<ellipse cx="1028.7" cy="1459.4" rx="11.5" ry="46" fill="url(#gl5)" transform="rotate(0 1028.7 1459.4)"/>
<rect x="841.7" y="1235.4" width="377.1" height="366.1" fill="none" stroke="#333333" stroke-width="4.4"/>
<line x1="858.7" y1="1603.7" x2="858.7" y2="1607.9" stroke="#333333" stroke-width="4.1"/>
<text x="867.7" y="1633.6" font-size="28" text-anchor="middle" fill="#4D4D4D" stroke="#4D4D4D">−50</text>
<line x1="944.5" y1="1603.7" x2="944.5" y2="1607.9" stroke="#333333" stroke-width="4.1"/>
<text x="953.5" y="1633.6" font-size="28" text-anchor="middle" fill="#4D4D4D" stroke="#4D4D4D">−25</text>
<line x1="1030.2" y1="1603.7" x2="1030.2" y2="1607.9" stroke="#333333" stroke-width="4.1"/>
<text x="1033.0" y="1633.6" font-size="28" text-anchor="middle" fill="#4D4D4D" stroke="#4D4D4D">0</text>
<line x1="1116.0" y1="1603.7" x2="1116.0" y2="1607.9" stroke="#333333" stroke-width="4.1"/>
<text x="1121.6" y="1633.6" font-size="28" text-anchor="middle" fill="#4D4D4D" stroke="#4D4D4D">25</text>
<line x1="1201.8" y1="1603.7" x2="1201.8" y2="1607.9" stroke="#333333" stroke-width="4.1"/>
<text x="1207.4" y="1633.6" font-size="28" text-anchor="middle" fill="#4D4D4D" stroke="#4D4D4D">50</text>
<line x1="835.3" y1="1251.5" x2="839.5" y2="1251.5" stroke="#333333" stroke-width="4.1"/>
<text x="825.5" y="1258.2" font-size="28" text-anchor="end" fill="#4D4D4D" stroke="#4D4D4D">50</text>
<line x1="835.3" y1="1362.6" x2="839.5" y2="1362.6" stroke="#333333" stroke-width="4.1"/>
<text x="825.5" y="1369.3" font-size="28" text-anchor="end" fill="#4D4D4D" stroke="#4D4D4D">25</text>
<line x1="835.3" y1="1473.7" x2="839.5" y2="1473.7" stroke="#333333" stroke-width="4.1"/>
<text x="819.2" y="1480.4" font-size="28" text-anchor="end" fill="#4D4D4D" stroke="#4D4D4D">0</text>
<line x1="835.3" y1="1584.7" x2="839.5" y2="1584.7" stroke="#333333" stroke-width="4.1"/>
<text x="831.2" y="1591.4" font-size="28" text-anchor="end" fill="#4D4D4D" stroke="#4D4D4D">−25</text>
<text x="1081.8" y="1222.1" font-size="28.8" text-anchor="middle" fill="#000" stroke="#000">R = -0.087</text>
<text x="1044.0" y="1658.8" font-size="28.5" text-anchor="middle" fill="#000" stroke="#000">SMARCA4</text>
<text x="1050.0" y="1688.5" font-size="28.5" text-anchor="middle" fill="#000" stroke="#000">WT-KO</text>
<text x="739.3" y="1406.6" font-size="28.5" text-anchor="middle" fill="#000" stroke="#000" transform="rotate(-90 739.3 1406.6)">BRD7</text>
<text x="774.9" y="1407.8" font-size="28.5" text-anchor="middle" fill="#000" stroke="#000" transform="rotate(-90 774.9 1407.8)">WT-KO</text>
<text x="1256.0" y="1301.2" font-size="28.6" text-anchor="start" fill="#000" stroke="#000">Normalized</text>
<text x="1256.0" y="1335.4" font-size="28.6" text-anchor="start" fill="#000" stroke="#000">counts</text>
<rect x="1252.2" y="1346.1" width="35.6" height="177.0" fill="url(#virg)"/>
<line x1="1252.2" y1="1399.5" x2="1259.2" y2="1399.5" stroke="#fff" stroke-width="1.4"/>
<line x1="1280.8" y1="1399.5" x2="1287.8" y2="1399.5" stroke="#fff" stroke-width="1.4"/>
<text x="1295.0" y="1405.6" font-size="28.4" text-anchor="start" fill="#000" stroke="#000">200</text>
<line x1="1252.2" y1="1461.9" x2="1259.2" y2="1461.9" stroke="#fff" stroke-width="1.4"/>
<line x1="1280.8" y1="1461.9" x2="1287.8" y2="1461.9" stroke="#fff" stroke-width="1.4"/>
<text x="1295.0" y="1467.7" font-size="28.4" text-anchor="start" fill="#000" stroke="#000">100</text>
<rect x="1514.0" y="1235.2" width="377.5" height="366.5" fill="#fff"/>
<line x1="1574.1" y1="1236.2" x2="1574.1" y2="1600.7" stroke="#ECECEC" stroke-width="1.5"/>
<line x1="1659.9" y1="1236.2" x2="1659.9" y2="1600.7" stroke="#ECECEC" stroke-width="1.5"/>
<line x1="1745.6" y1="1236.2" x2="1745.6" y2="1600.7" stroke="#ECECEC" stroke-width="1.5"/>
<line x1="1831.4" y1="1236.2" x2="1831.4" y2="1600.7" stroke="#ECECEC" stroke-width="1.5"/>
<line x1="1515.0" y1="1307.0" x2="1890.5" y2="1307.0" stroke="#ECECEC" stroke-width="1.5"/>
<line x1="1515.0" y1="1418.1" x2="1890.5" y2="1418.1" stroke="#ECECEC" stroke-width="1.5"/>
<line x1="1515.0" y1="1529.2" x2="1890.5" y2="1529.2" stroke="#ECECEC" stroke-width="1.5"/>
<line x1="1531.2" y1="1236.2" x2="1531.2" y2="1600.7" stroke="#ECECEC" stroke-width="3.0"/>
<line x1="1617.0" y1="1236.2" x2="1617.0" y2="1600.7" stroke="#ECECEC" stroke-width="3.0"/>
<line x1="1702.8" y1="1236.2" x2="1702.8" y2="1600.7" stroke="#ECECEC" stroke-width="3.0"/>
<line x1="1788.5" y1="1236.2" x2="1788.5" y2="1600.7" stroke="#ECECEC" stroke-width="3.0"/>
<line x1="1874.3" y1="1236.2" x2="1874.3" y2="1600.7" stroke="#ECECEC" stroke-width="3.0"/>
<line x1="1515.0" y1="1251.5" x2="1890.5" y2="1251.5" stroke="#ECECEC" stroke-width="3.0"/>
<line x1="1515.0" y1="1362.6" x2="1890.5" y2="1362.6" stroke="#ECECEC" stroke-width="3.0"/>
<line x1="1515.0" y1="1473.7" x2="1890.5" y2="1473.7" stroke="#ECECEC" stroke-width="3.0"/>
<line x1="1515.0" y1="1584.7" x2="1890.5" y2="1584.7" stroke="#ECECEC" stroke-width="3.0"/>
<path transform="translate(1515.00 1237.06) scale(1.72)" d="M112 8h1m4 0h1m8 0h1M109 9h2m6 0h2m7 0h1M101 10h1m19 0h1m4 0h1M103 11h1m6 0h1m2 0h1m14 0h2M99 12h1m8 0h1m6 0h1m8 0h1M104 13h1m4 0h1m4 0h1m5 0h1m1 0h2M108 14h1m8 0h1m5 0h1m3 0h1m3 0h1M105 15h1m8 0h1m1 0h1m5 0h1m5 0h1m5 0h1M102 16h1m1 0h1m7 0h3m2 0h2m3 0h1m3 0h1m1 0h1M104 17h1m5 0h2m5 0h1M96 18h1m8 0h1m2 0h1m7 0h1m3 0h2m6 0h1M108 19h1m1 0h1m3 0h1m4 0h3m3 0h1M116 20h1m2 0h1m2 0h1m2 0h1m17 0h1M114 21h1m5 0h1m2 0h1m9 0h1M105 22h1m5 0h1m9 0h1m12 0h1M112 23h1m1 0h1m6 0h2m3 0h1m2 0h1M112 24h2m2 0h3m6 0h1M112 25h1m3 0h1m3 0h2m1 0h1m14 0h1M109 26h1m2 0h2m4 0h2m5 0h1m1 0h1m12 0h1m3 0h1M110 27h1m3 0h2m1 0h1m3 0h1M96 28h1m8 0h3m15 0h1m17 0h1m3 0h1M110 29h1m5 0h1m2 0h1m5 0h1m1 0h1m9 0h1M99 30h1m2 0h1m1 0h2m1 0h1m7 0h1m2 0h1m4 0h1M105 31h1m4 0h1m6 0h1m1 0h1m3 0h2M100 32h1m5 0h1m6 0h1m2 0h1m3 0h3m7 0h1M102 33h1m8 0h1m6 0h1m2 0h1m5 0h1M108 34h1m1 0h1m3 0h1m3 0h3m8 0h1M106 35h1m6 0h2m2 0h1m1 0h2m1 0h1m8 0h1M114 36h1m1 0h3m8 0h1m3 0h1m2 0h1m2 0h1M103 37h1m6 0h1m7 0h1m1 0h2m1 0h1m6 0h1M101 38h1m15 0h2m1 0h1m10 0h1M98 39h1m3 0h1m3 0h1m1 0h1m3 0h2m4 0h1m1 0h1m2 0h1m2 0h1M89 40h1m8 0h1m3 0h1m10 0h1m1 0h2m15 0h1m7 0h1M103 41h1m1 0h1m7 0h2m4 0h4m1 0h1m1 0h1m2 0h1m2 0h1M112 42h1m2 0h2m3 0h2m4 0h2m8 0h1M111 43h1m1 0h2m5 0h2m3 0h2m4 0h1M100 44h1m3 0h1m4 0h2m3 0h2m1 0h1m4 0h2m4 0h2m7 0h2M103 45h1m2 0h1m5 0h1m4 0h1m1 0h2m1 0h2m1 0h1M97 46h1m4 0h1m1 0h1m1 0h1m6 0h1m1 0h1m1 0h1m4 0h1m4 0h1M107 47h1m2 0h4m2 0h1m3 0h2m1 0h2m3 0h1M97 48h2m1 0h1m1 0h1m1 0h1m3 0h1m1 0h1m2 0h1m1 0h1m5 0h1m2 0h1m1 0h1m9 0h1M105 49h1m2 0h1m2 0h1m1 0h3m1 0h2m1 0h2m2 0h1m6 0h1m2 0h1m3 0h1M108 50h1m1 0h3m1 0h5m3 0h1m2 0h1m1 0h4M105 51h1m1 0h2m1 0h1m1 0h1m4 0h1m1 0h1m1 0h1m1 0h1m7 0h1M88 52h1m18 0h1m1 0h1m1 0h1m3 0h1m2 0h3m3 0h1m1 0h1M111 53h2m1 0h1m2 0h2m1 0h1m1 0h1m2 0h1m1 0h2M95 54h1m6 0h1m7 0h1m1 0h2m2 0h3m1 0h1m2 0h1m1 0h1m10 0h1M105 55h2m5 0h2m1 0h3m2 0h5m1 0h1m3 0h1M100 56h1m2 0h1m1 0h1m2 0h3m2 0h2m1 0h1m1 0h3m2 0h3m5 0h1m3 0h1M84 57h1m13 0h1m5 0h1m2 0h1m3 0h2m1 0h1m1 0h2m2 0h1m1 0h3m1 0h1M96 58h1m5 0h1m6 0h4m1 0h1m2 0h2m2 0h3m3 0h1m7 0h1M103 59h1m1 0h1m1 0h6m3 0h2m1 0h3m1 0h2m1 0h1m1 0h1m1 0h1m1 0h1M108 60h2m1 0h1m1 0h2m1 0h1m1 0h1m1 0h1m4 0h1m3 0h1m4 0h1M91 61h1m15 0h1m3 0h1m1 0h1m1 0h4m1 0h1m3 0h1m3 0h1M99 62h1m5 0h1m1 0h3m2 0h4m1 0h4m1 0h2m2 0h2m13 0h1M108 63h3m2 0h1m1 0h8m1 0h5m1 0h1m10 0h1M100 64h1m3 0h2m1 0h3m1 0h2m1 0h1m1 0h4m2 0h2m1 0h2M96 65h1m5 0h1m2 0h4m3 0h4m1 0h1m1 0h4m6 0h1M105 66h4m1 0h1m1 0h4m1 0h2m1 0h1m1 0h3m7 0h1M106 67h1m1 0h3m1 0h3m2 0h4m1 0h5M101 68h1m5 0h2m1 0h7m1 0h3m2 0h1m1 0h2m2 0h1m1 0h1M105 69h1m1 0h1m1 0h5m1 0h4m2 0h1m2 0h1m10 0h1M93 70h1m3 0h1m11 0h2m1 0h1m1 0h1m1 0h2m1 0h1m3 0h1m1 0h2m1 0h1m4 0h1M92 71h1m13 0h1m4 0h7m1 0h2m1 0h1m2 0h1m1 0h3m3 0h1m20 0h1M104 72h4m1 0h2m2 0h4m1 0h3m2 0h2m4 0h1m7 0h1m2 0h1M98 73h1m4 0h2m2 0h1m2 0h9m3 0h1m3 0h1m1 0h1m3 0h1M102 74h2m2 0h2m1 0h7m1 0h6m1 0h1m1 0h1m4 0h1M100 75h1m7 0h2m1 0h5m1 0h6m4 0h1m1 0h1M96 76h1m9 0h1m1 0h3m1 0h3m1 0h1m1 0h1m1 0h1m1 0h2m4 0h1m8 0h1M103 77h1m2 0h1m1 0h2m2 0h1m1 0h1m1 0h6m1 0h1m2 0h3M102 78h1m1 0h2m1 0h1m3 0h6m1 0h2m1 0h1m1 0h3m3 0h1m4 0h1M107 79h1m1 0h1m1 0h6m2 0h4m5 0h1M97 80h1m6 0h1m1 0h3m1 0h2m1 0h6m1 0h1m1 0h1m2 0h1m1 0h1m10 0h1M73 81h1m8 0h1m13 0h1m8 0h12m2 0h2m1 0h2m1 0h1m1 0h1m3 0h2m1 0h1m12 0h1M88 82h1m5 0h1m1 0h1m5 0h1m1 0h4m1 0h1m1 0h12m1 0h2m4 0h1m12 0h1M99 83h1m3 0h9m1 0h8m1 0h1m2 0h1m2 0h1m2 0h1M90 84h1m12 0h19m1 0h3m1 0h1m4 0h2M93 85h1m7 0h22m1 0h3m1 0h1m2 0h2m5 0h1M97 86h1m4 0h1m1 0h15m1 0h10m3 0h1m1 0h2M89 87h1m10 0h2m2 0h24m2 0h2m2 0h1M69 88h1m14 0h1m11 0h2m7 0h1m1 0h19m1 0h1m1 0h1m11 0h1M94 89h1m5 0h1m2 0h27m1 0h1m2 0h1m4 0h1m8 0h1M78 90h1m17 0h2m1 0h1m2 0h22m1 0h4m8 0h1m2 0h1M97 91h1m2 0h1m1 0h24m1 0h1m1 0h1m2 0h1m6 0h1M88 92h1m2 0h1m4 0h2m4 0h21m1 0h4m4 0h1m1 0h1M89 93h1m4 0h1m7 0h23m1 0h4m1 0h1m1 0h2m1 0h1M90 94h1m4 0h3m2 0h33M43 95h1m50 0h1m2 0h1m1 0h2m3 0h23m1 0h3m1 0h2m12 0h1M97 96h1m1 0h1m1 0h25m1 0h1m1 0h4m16 0h1M97 97h2m1 0h2m1 0h23m1 0h3m3 0h1m19 0h1M96 98h3m2 0h26m2 0h4m7 0h1M97 99h4m1 0h26m1 0h1m3 0h1m1 0h1M98 100h2m1 0h28m2 0h5m4 0h1m17 0h1M90 101h1m8 0h3m1 0h28m1 0h3m1 0h1m4 0h1m4 0h1M91 102h2m2 0h3m2 0h32m1 0h1m4 0h1m7 0h1M95 103h2m1 0h2m1 0h28m3 0h1m1 0h2m5 0h1M92 104h4m2 0h2m1 0h33m1 0h1m9 0h1M91 105h1m8 0h1m1 0h30m2 0h1m2 0h1M87 106h1m4 0h1m3 0h3m1 0h1m1 0h32m1 0h1m10 0h1M82 107h1m12 0h34m1 0h6m2 0h1m3 0h1m7 0h1M91 108h1m4 0h1m3 0h31m1 0h1m1 0h1m1 0h1m3 0h1M97 109h4m1 0h29m3 0h2m1 0h1m4 0h1M81 110h1m2 0h1m4 0h1m3 0h2m5 0h33m1 0h1m1 0h1m2 0h2m6 0h1M84 111h2m2 0h1m6 0h2m1 0h35m2 0h1m6 0h1M85 112h1m7 0h1m1 0h37m1 0h2m3 0h1m3 0h1M88 113h1m3 0h2m1 0h1m1 0h34m1 0h1m1 0h2m1 0h2m17 0h1M88 114h1m3 0h2m1 0h4m1 0h34m5 0h3m6 0h1M94 115h38m1 0h2m1 0h1m3 0h1m2 0h1M82 116h2m3 0h1m5 0h1m1 0h1m1 0h36m2 0h1m2 0h1m1 0h1M82 117h1m12 0h42m5 0h1m20 0h1M88 118h1m2 0h1m2 0h1m1 0h42m6 0h1m24 0h1m13 0h1M80 119h1m8 0h2m1 0h2m1 0h3m1 0h33m1 0h3m1 0h1m2 0h4m6 0h1m34 0h1M90 120h1m1 0h2m1 0h43m2 0h1M83 121h1m1 0h1m1 0h2m1 0h2m2 0h1m1 0h41m1 0h1m1 0h1m1 0h1M86 122h2m2 0h46m1 0h4m1 0h1M81 123h1m5 0h1m2 0h1m2 0h44m2 0h1m1 0h2m6 0h1M88 124h1m3 0h48m1 0h2m3 0h1m7 0h1M89 125h1m1 0h1m1 0h41m1 0h5m4 0h1m29 0h1m5 0h1m1 0h1m18 0h1M76 126h2m12 0h1m1 0h47m3 0h1m1 0h2m4 0h1m10 0h1m3 0h1m6 0h1M72 127h1m9 0h1m1 0h1m6 0h50m2 0h1m5 0h1m7 0h1m1 0h1m4 0h1m11 0h1M78 128h1m9 0h1m2 0h48m1 0h1m1 0h1m1 0h1m1 0h1m1 0h1m8 0h1m2 0h1m1 0h1M76 129h2m1 0h1m11 0h48m1 0h2m1 0h1m3 0h1m4 0h1m19 0h1m1 0h2M80 130h1m1 0h2m2 0h1m3 0h1m2 0h48m1 0h1m6 0h2m15 0h1m15 0h1M81 131h1m5 0h1m1 0h1m1 0h1m2 0h47m10 0h2m5 0h2m6 0h1m14 0h1M78 132h1m3 0h2m3 0h1m2 0h1m1 0h51m1 0h2m5 0h2m4 0h1m5 0h1m7 0h1m9 0h1m13 0h1M78 133h1m2 0h1m1 0h1m2 0h1m3 0h51m1 0h1m1 0h2m3 0h1m6 0h1m8 0h1m6 0h2m26 0h1M84 134h1m5 0h2m1 0h48m2 0h1m1 0h1m1 0h1m8 0h1m6 0h1m31 0h1M85 135h1m1 0h55m1 0h1m1 0h1m2 0h1m25 0h1m4 0h1m4 0h1m11 0h1M75 136h2m8 0h1m1 0h55m1 0h1m3 0h1m3 0h1m1 0h2m2 0h1m3 0h2m1 0h1m6 0h1m1 0h1m1 0h1M71 137h1m4 0h3m5 0h2m3 0h59m1 0h1m5 0h1m2 0h1m1 0h1m5 0h1m6 0h1m20 0h1M80 138h1m6 0h52m2 0h2m1 0h3m1 0h2m7 0h1m2 0h1m13 0h1m5 0h1m3 0h2M81 139h1m1 0h1m5 0h49m2 0h2m1 0h2m1 0h3m9 0h1m1 0h1m4 0h2m3 0h1m7 0h1m6 0h1m6 0h1m1 0h1M70 140h1m17 0h55m4 0h2m3 0h1m2 0h1m5 0h1m1 0h1m11 0h1m9 0h1M77 141h1m6 0h2m1 0h57m3 0h2m12 0h2m15 0h1M79 142h2m1 0h1m3 0h2m1 0h50m1 0h2m3 0h2m3 0h1m1 0h2m6 0h3m1 0h1m17 0h1m4 0h1m1 0h1M84 143h2m4 0h49m1 0h2m1 0h1m2 0h1m5 0h1m6 0h1m3 0h1m2 0h1m27 0h1M87 144h1m1 0h49m2 0h2m5 0h1m6 0h1m12 0h1m11 0h1M72 145h1m11 0h1m4 0h48m1 0h5m2 0h1m7 0h1m13 0h1m6 0h1m4 0h1m10 0h1m5 0h2m10 0h1M69 146h1m6 0h2m4 0h1m1 0h1m2 0h2m2 0h44m1 0h1m7 0h3m4 0h1m4 0h2m4 0h1m4 0h1M46 147h1m23 0h1m1 0h1m2 0h1m10 0h1m1 0h46m1 0h3m19 0h1m15 0h1m13 0h2m3 0h1m14 0h1M84 148h45m1 0h5m1 0h1m3 0h3m1 0h1m4 0h2m9 0h1m4 0h1m7 0h1m4 0h1m6 0h1m8 0h1M76 149h1m6 0h1m3 0h1m1 0h41m1 0h1m1 0h2m5 0h1m5 0h1m3 0h1M77 150h1m11 0h1m1 0h40m2 0h2m3 0h1m9 0h3m1 0h1m11 0h1M67 151h1m19 0h45m1 0h4m1 0h1m3 0h1m18 0h1m32 0h1m9 0h1M84 152h1m5 0h4m1 0h38m1 0h1m3 0h1m8 0h1m17 0h2m34 0h1m1 0h1M87 153h1m2 0h40m1 0h1m1 0h1m1 0h1m13 0h1m12 0h1m9 0h1m3 0h1M79 154h1m6 0h1m3 0h40m2 0h2m5 0h1m10 0h1m36 0h1M82 155h1m3 0h1m2 0h36m1 0h4m4 0h2m2 0h1m4 0h2m8 0h1M89 156h4m1 0h31m1 0h3m1 0h4m17 0h1M75 157h1m5 0h1m2 0h1m1 0h2m2 0h37m12 0h1m39 0h1M84 158h2m1 0h1m3 0h32m1 0h2m1 0h3m1 0h1m1 0h1m9 0h1m19 0h1m2 0h1M90 159h34m1 0h2m2 0h3m10 0h1M86 160h2m2 0h32m2 0h2m2 0h1m2 0h3m4 0h1m2 0h1m13 0h1m5 0h1M82 161h2m7 0h1m1 0h3m1 0h25m2 0h2m18 0h1m1 0h1M81 162h1m1 0h1m1 0h3m1 0h4m2 0h28m3 0h1m2 0h3M76 163h1m7 0h1m2 0h1m2 0h1m1 0h3m1 0h1m1 0h20m1 0h6m6 0h1M81 164h1m4 0h2m4 0h6m1 0h21m2 0h3m2 0h2m4 0h1M83 165h1m1 0h2m1 0h1m3 0h1m2 0h24m2 0h3m2 0h1M77 166h1m8 0h2m3 0h2m2 0h6m1 0h12m1 0h4m1 0h1m1 0h1m28 0h1M76 167h1m15 0h2m2 0h3m1 0h23m1 0h1M81 168h1m6 0h1m1 0h1m3 0h1m2 0h5m1 0h14m8 0h1m3 0h1m4 0h2M79 169h1m8 0h1m2 0h1m1 0h3m2 0h1m1 0h2m2 0h10m1 0h1m3 0h1m2 0h1M89 170h1m1 0h1m1 0h1m1 0h1m2 0h5m1 0h6m1 0h3m1 0h1m2 0h4m4 0h2M75 171h1m14 0h1m3 0h1m3 0h3m2 0h2m2 0h4m1 0h2m8 0h1m8 0h1m6 0h1M93 172h1m3 0h1m2 0h5m1 0h11m8 0h1m13 0h1M94 173h2m2 0h3m3 0h2m1 0h1m1 0h2m3 0h1m2 0h1M90 174h1m11 0h1m2 0h1m1 0h1m6 0h3m2 0h1M82 175h1m3 0h1m8 0h1m4 0h1m1 0h1m1 0h1m1 0h1m1 0h1m1 0h1m2 0h1m1 0h2m2 0h1M93 176h2m2 0h1m4 0h2m6 0h3m1 0h2m7 0h1m1 0h2m2 0h1m8 0h1M89 177h2m8 0h1m1 0h2m4 0h5m4 0h1m6 0h1m2 0h1m1 0h1M84 178h1m4 0h1m4 0h1m3 0h1m2 0h1m3 0h1m1 0h2m3 0h1m1 0h2m23 0h1M92 179h1m4 0h1m1 0h1m2 0h2m1 0h1m8 0h1m3 0h1m1 0h1m8 0h1m4 0h1m6 0h1M101 180h2m5 0h2m1 0h3m3 0h1m2 0h1M98 181h2m5 0h1m6 0h1m6 0h1M98 182h3m3 0h1m5 0h1m1 0h2m1 0h1m12 0h1M96 183h1m1 0h1m1 0h1m1 0h1m2 0h1m1 0h2m1 0h2m6 0h2M78 184h1m24 0h1m5 0h1m4 0h1m5 0h1M91 185h1m11 0h1m2 0h1m1 0h1m4 0h1m1 0h1m3 0h1M92 186h1m8 0h1m2 0h2m4 0h2m4 0h1m4 0h2M99 187h1m2 0h1m1 0h2m3 0h1m1 0h1M103 188h2m1 0h2m4 0h1M109 189h1m19 0h1M96 190h1m3 0h1m4 0h1m1 0h2m2 0h1m1 0h1m2 0h1m1 0h1m5 0h1m12 0h1M101 191h1m10 0h1m3 0h1M97 192h1m5 0h1M85 193h1m14 0h1m6 0h1m2 0h2m4 0h1m1 0h1m2 0h1M106 194h1m2 0h3m6 0h1m5 0h1M101 195h1m1 0h1M101 196h1m1 0h1m1 0h1m10 0h3M95 197h2m8 0h1m1 0h1m7 0h1m2 0h1m3 0h1m1 0h1M106 198h1m6 0h1m9 0h1M94 199h1m9 0h1m2 0h1m1 0h2m11 0h1M120 200h1M102 201h1m6 0h2M104 203h1M98 204h1m5 0h1m2 0h1M102 206h1" stroke="#46195C" stroke-width="1" fill="none"/>
<defs><radialGradient id="gl6"><stop offset="0" stop-color="#F1E51D" stop-opacity="1"/><stop offset="0.08" stop-color="#B5DE2B" stop-opacity="1"/><stop offset="0.16" stop-color="#5DC863" stop-opacity="1"/><stop offset="0.27" stop-color="#21A585" stop-opacity="0.97"/><stop offset="0.4" stop-color="#2A768E" stop-opacity="0.93"/><stop offset="0.58" stop-color="#3E4C8A" stop-opacity="0.8"/><stop offset="0.8" stop-color="#472D7B" stop-opacity="0.45"/><stop offset="1" stop-color="#46195C" stop-opacity="0"/></radialGradient></defs>
<ellipse cx="1704.5" cy="1460.3" rx="13" ry="46" fill="url(#gl6)" transform="rotate(-4 1704.5 1460.3)"/>
<rect x="1514.2" y="1235.4" width="377.1" height="366.1" fill="none" stroke="#333333" stroke-width="4.4"/>
<line x1="1531.2" y1="1603.7" x2="1531.2" y2="1607.9" stroke="#333333" stroke-width="4.1"/>
<text x="1540.2" y="1633.6" font-size="28" text-anchor="middle" fill="#4D4D4D" stroke="#4D4D4D">−50</text>
<line x1="1617.0" y1="1603.7" x2="1617.0" y2="1607.9" stroke="#333333" stroke-width="4.1"/>
<text x="1626.0" y="1633.6" font-size="28" text-anchor="middle" fill="#4D4D4D" stroke="#4D4D4D">−25</text>
<line x1="1702.8" y1="1603.7" x2="1702.8" y2="1607.9" stroke="#333333" stroke-width="4.1"/>
<text x="1705.5" y="1633.6" font-size="28" text-anchor="middle" fill="#4D4D4D" stroke="#4D4D4D">0</text>
<line x1="1788.5" y1="1603.7" x2="1788.5" y2="1607.9" stroke="#333333" stroke-width="4.1"/>
<text x="1794.1" y="1633.6" font-size="28" text-anchor="middle" fill="#4D4D4D" stroke="#4D4D4D">25</text>
<line x1="1874.3" y1="1603.7" x2="1874.3" y2="1607.9" stroke="#333333" stroke-width="4.1"/>
<text x="1879.9" y="1633.6" font-size="28" text-anchor="middle" fill="#4D4D4D" stroke="#4D4D4D">50</text>
<line x1="1507.8" y1="1251.5" x2="1512.0" y2="1251.5" stroke="#333333" stroke-width="4.1"/>
<text x="1497.5" y="1258.2" font-size="28" text-anchor="end" fill="#4D4D4D" stroke="#4D4D4D">50</text>
<line x1="1507.8" y1="1362.6" x2="1512.0" y2="1362.6" stroke="#333333" stroke-width="4.1"/>
<text x="1497.5" y="1369.3" font-size="28" text-anchor="end" fill="#4D4D4D" stroke="#4D4D4D">25</text>
<line x1="1507.8" y1="1473.7" x2="1512.0" y2="1473.7" stroke="#333333" stroke-width="4.1"/>
<text x="1498.0" y="1480.4" font-size="28" text-anchor="end" fill="#4D4D4D" stroke="#4D4D4D">0</text>
<line x1="1507.8" y1="1584.7" x2="1512.0" y2="1584.7" stroke="#333333" stroke-width="4.1"/>
<text x="1503.2" y="1591.4" font-size="28" text-anchor="end" fill="#4D4D4D" stroke="#4D4D4D">−25</text>
<text x="1743.3" y="1223.3" font-size="28.8" text-anchor="middle" fill="#000" stroke="#000">R = 0.17</text>
<text x="1711.4" y="1657.9" font-size="28.5" text-anchor="middle" fill="#000" stroke="#000">ARID2</text>
<text x="1714.3" y="1688.5" font-size="28.5" text-anchor="middle" fill="#000" stroke="#000">WT-KO</text>
<text x="1419.2" y="1406.6" font-size="28.5" text-anchor="middle" fill="#000" stroke="#000" transform="rotate(-90 1419.2 1406.6)">BRD7</text>
<text x="1454.0" y="1407.9" font-size="28.5" text-anchor="middle" fill="#000" stroke="#000" transform="rotate(-90 1454.0 1407.9)">WT-KO</text>
<text x="1925.8" y="1301.2" font-size="28.6" text-anchor="start" fill="#000" stroke="#000">Normalized</text>
<text x="1925.8" y="1335.4" font-size="28.6" text-anchor="start" fill="#000" stroke="#000">counts</text>
<rect x="1925.1" y="1346.0" width="35.7" height="177.0" fill="url(#virg)"/>
<line x1="1925.1" y1="1398.8" x2="1932.1" y2="1398.8" stroke="#fff" stroke-width="1.4"/>
<line x1="1953.8" y1="1398.8" x2="1960.8" y2="1398.8" stroke="#fff" stroke-width="1.4"/>
<text x="1971.5" y="1405.1" font-size="28.4" text-anchor="start" fill="#000" stroke="#000">200</text>
<line x1="1925.1" y1="1461.1" x2="1932.1" y2="1461.1" stroke="#fff" stroke-width="1.4"/>
<line x1="1953.8" y1="1461.1" x2="1960.8" y2="1461.1" stroke="#fff" stroke-width="1.4"/>
<text x="1971.5" y="1467.3" font-size="28.4" text-anchor="start" fill="#000" stroke="#000">100</text>
<line x1="217.7" y1="1031.0" x2="199.0" y2="1113.0" stroke="#1FA7E0" stroke-width="3.8"/>
<text x="424.5" y="729.8" font-size="28.3" text-anchor="start" fill="#E3222B" stroke="#E3222B">de novo</text>
<text x="424.5" y="754.5" font-size="28.3" text-anchor="start" fill="#E3222B" stroke="#E3222B">peaks</text>
<text x="117.5" y="1142.1" font-size="28.3" text-anchor="start" fill="#2E3192" stroke="#2E3192">co-depleted</text>
<text x="117.5" y="1167.1" font-size="28.3" text-anchor="start" fill="#2E3192" stroke="#2E3192">peaks</text>
<text x="451.5" y="808.0" font-size="17" text-anchor="start" fill="#111" stroke="#111">,</text>
<text x="1806.0" y="807.5" font-size="17" text-anchor="start" fill="#111" stroke="#111">,</text>
<text x="436.0" y="1347.0" font-size="17" text-anchor="start" fill="#111" stroke="#111">,</text>
<text x="1154.3" y="1347.0" font-size="17" text-anchor="start" fill="#111" stroke="#111">,</text>
<text x="1799.0" y="1346.5" font-size="17" text-anchor="start" fill="#111" stroke="#111">,</text>
<line x1="1081.5" y1="1341.0" x2="1091.5" y2="1341.0" stroke="#111" stroke-width="1.6"/>
<line x1="1738.0" y1="1338.6" x2="1746.5" y2="1338.6" stroke="#111" stroke-width="1.3"/>
<line x1="1738.0" y1="1342.2" x2="1746.5" y2="1342.2" stroke="#111" stroke-width="1.3"/>
<text x="-2.2" y="1790.5" font-size="30" text-anchor="start" fill="#1a1a1a" stroke="#1a1a1a" font-weight="bold">c</text>
<line x1="306.4" y1="1858.6" x2="306.4" y2="2613.6" stroke="#E6E7E8" stroke-width="2.6"/>
<line x1="198.5" y1="1966.5" x2="953.5" y2="1966.5" stroke="#E6E7E8" stroke-width="2.6"/>
<line x1="486.1" y1="1858.6" x2="486.1" y2="2613.6" stroke="#E6E7E8" stroke-width="2.6"/>
<line x1="198.5" y1="2146.2" x2="953.5" y2="2146.2" stroke="#E6E7E8" stroke-width="2.6"/>
<line x1="665.9" y1="1858.6" x2="665.9" y2="2613.6" stroke="#E6E7E8" stroke-width="2.6"/>
<line x1="198.5" y1="2326.0" x2="953.5" y2="2326.0" stroke="#E6E7E8" stroke-width="2.6"/>
<line x1="845.6" y1="1858.6" x2="845.6" y2="2613.6" stroke="#E6E7E8" stroke-width="2.6"/>
<line x1="198.5" y1="2505.7" x2="953.5" y2="2505.7" stroke="#E6E7E8" stroke-width="2.6"/>
<rect x="216.5" y="2415.8" width="179.75" height="179.75" fill="#ED2126" stroke="#C9C9C9" stroke-width="1"/>
<rect x="216.5" y="2236.1" width="179.75" height="179.75" fill="#F9B7A2" stroke="#C9C9C9" stroke-width="1"/>
<rect x="216.5" y="2056.3" width="179.75" height="179.75" fill="#FDE8E1" stroke="#C9C9C9" stroke-width="1"/>
<rect x="216.5" y="1876.6" width="179.75" height="179.75" fill="#FDDFD4" stroke="#C9C9C9" stroke-width="1"/>
<rect x="396.2" y="2415.8" width="179.75" height="179.75" fill="#F9B7A2" stroke="#C9C9C9" stroke-width="1"/>
<rect x="396.2" y="2236.1" width="179.75" height="179.75" fill="#ED2126" stroke="#C9C9C9" stroke-width="1"/>
<rect x="396.2" y="2056.3" width="179.75" height="179.75" fill="#FEF3EF" stroke="#C9C9C9" stroke-width="1"/>
<rect x="396.2" y="1876.6" width="179.75" height="179.75" fill="#F1ECF5" stroke="#C9C9C9" stroke-width="1"/>
<rect x="576.0" y="2415.8" width="179.75" height="179.75" fill="#FDE8E1" stroke="#C9C9C9" stroke-width="1"/>
<rect x="576.0" y="2236.1" width="179.75" height="179.75" fill="#FEF3EF" stroke="#C9C9C9" stroke-width="1"/>
<rect x="576.0" y="2056.3" width="179.75" height="179.75" fill="#ED2126" stroke="#C9C9C9" stroke-width="1"/>
<rect x="576.0" y="1876.6" width="179.75" height="179.75" fill="#FDE2D9" stroke="#C9C9C9" stroke-width="1"/>
<rect x="755.8" y="2415.8" width="179.75" height="179.75" fill="#FDDFD4" stroke="#C9C9C9" stroke-width="1"/>
<rect x="755.8" y="2236.1" width="179.75" height="179.75" fill="#F1ECF5" stroke="#C9C9C9" stroke-width="1"/>
<rect x="755.8" y="2056.3" width="179.75" height="179.75" fill="#FDE2D9" stroke="#C9C9C9" stroke-width="1"/>
<rect x="755.8" y="1876.6" width="179.75" height="179.75" fill="#ED2126" stroke="#C9C9C9" stroke-width="1"/>
<text x="308.4" y="2513.9" font-size="29" text-anchor="middle" fill="#111" stroke="#111">1</text>
<text x="311.2" y="2334.2" font-size="29" text-anchor="middle" fill="#111" stroke="#111">0.37</text>
<text x="311.2" y="2154.4" font-size="29" text-anchor="middle" fill="#111" stroke="#111">0.12</text>
<text x="311.2" y="1974.7" font-size="29" text-anchor="middle" fill="#111" stroke="#111">0.17</text>
<text x="490.9" y="2513.9" font-size="29" text-anchor="middle" fill="#111" stroke="#111">0.37</text>
<text x="488.1" y="2334.2" font-size="29" text-anchor="middle" fill="#111" stroke="#111">1</text>
<text x="490.9" y="2154.4" font-size="29" text-anchor="middle" fill="#111" stroke="#111">0.07</text>
<text x="493.6" y="1974.7" font-size="29" text-anchor="middle" fill="#111" stroke="#111">−0.08</text>
<text x="670.7" y="2513.9" font-size="29" text-anchor="middle" fill="#111" stroke="#111">0.12</text>
<text x="670.7" y="2334.2" font-size="29" text-anchor="middle" fill="#111" stroke="#111">0.07</text>
<text x="667.9" y="2154.4" font-size="29" text-anchor="middle" fill="#111" stroke="#111">1</text>
<text x="670.7" y="1974.7" font-size="29" text-anchor="middle" fill="#111" stroke="#111">0.15</text>
<text x="850.4" y="2513.9" font-size="29" text-anchor="middle" fill="#111" stroke="#111">0.17</text>
<text x="853.1" y="2334.2" font-size="29" text-anchor="middle" fill="#111" stroke="#111">−0.08</text>
<text x="850.4" y="2154.4" font-size="29" text-anchor="middle" fill="#111" stroke="#111">0.15</text>
<text x="847.6" y="1974.7" font-size="29" text-anchor="middle" fill="#111" stroke="#111">1</text>
<text x="200.6" y="2514.4" font-size="28.4" text-anchor="end" fill="#1a1a1a" stroke="#1a1a1a">ARID2</text>
<text x="207.3" y="2334.7" font-size="28.4" text-anchor="end" fill="#1a1a1a" stroke="#1a1a1a">SMARCA4</text>
<text x="203.2" y="2154.9" font-size="28.4" text-anchor="end" fill="#1a1a1a" stroke="#1a1a1a">PBRM1</text>
<text x="198.3" y="1975.2" font-size="28.4" text-anchor="end" fill="#1a1a1a" stroke="#1a1a1a">BRD7</text>
<text x="326.4" y="2628.7" font-size="28.3" text-anchor="end" fill="#1a1a1a" stroke="#1a1a1a" transform="rotate(-45 326.4 2628.7)">ARID2</text>
<text x="512.6" y="2622.2" font-size="28.3" text-anchor="end" fill="#1a1a1a" stroke="#1a1a1a" transform="rotate(-45 512.6 2622.2)">SMARCA4</text>
<text x="685.9" y="2628.7" font-size="28.3" text-anchor="end" fill="#1a1a1a" stroke="#1a1a1a" transform="rotate(-45 685.9 2628.7)">PBRM1</text>
<text x="865.6" y="2628.7" font-size="28.3" text-anchor="end" fill="#1a1a1a" stroke="#1a1a1a" transform="rotate(-45 865.6 2628.7)">BRD7</text>
<defs><linearGradient id="corrg" x1="0" y1="0" x2="0" y2="1"><stop offset="0" stop-color="#EE2A24"/><stop offset="0.125" stop-color="#F25A41"/><stop offset="0.25" stop-color="#F69C84"/><stop offset="0.375" stop-color="#FBCFC1"/><stop offset="0.5" stop-color="#FFFFFF"/><stop offset="0.625" stop-color="#DCCBE9"/><stop offset="0.75" stop-color="#A98FCB"/><stop offset="0.875" stop-color="#7569B6"/><stop offset="1" stop-color="#4156A8"/></linearGradient></defs>
<rect x="986.5" y="2165" width="35.8" height="175.5" fill="url(#corrg)"/>
<line x1="986.5" y1="2165.5" x2="993.5" y2="2165.5" stroke="#fff" stroke-width="1.4"/>
<line x1="1015.3" y1="2165.5" x2="1022.3" y2="2165.5" stroke="#fff" stroke-width="1.4"/>
<line x1="986.5" y1="2208.9" x2="993.5" y2="2208.9" stroke="#fff" stroke-width="1.4"/>
<line x1="1015.3" y1="2208.9" x2="1022.3" y2="2208.9" stroke="#fff" stroke-width="1.4"/>
<line x1="986.5" y1="2252.7" x2="993.5" y2="2252.7" stroke="#fff" stroke-width="1.4"/>
<line x1="1015.3" y1="2252.7" x2="1022.3" y2="2252.7" stroke="#fff" stroke-width="1.4"/>
<line x1="986.5" y1="2296.5" x2="993.5" y2="2296.5" stroke="#fff" stroke-width="1.4"/>
<line x1="1015.3" y1="2296.5" x2="1022.3" y2="2296.5" stroke="#fff" stroke-width="1.4"/>
<line x1="986.5" y1="2340.0" x2="993.5" y2="2340.0" stroke="#fff" stroke-width="1.4"/>
<line x1="1015.3" y1="2340.0" x2="1022.3" y2="2340.0" stroke="#fff" stroke-width="1.4"/>
<text x="980.5" y="2137.3" font-size="28" text-anchor="start" fill="#111" stroke="#111">Corr</text>
<text x="1034.5" y="2170.4" font-size="28" text-anchor="start" fill="#000" stroke="#000">1.0</text>
<text x="1034.5" y="2214.6" font-size="28" text-anchor="start" fill="#000" stroke="#000">0.5</text>
<text x="1034.5" y="2258.6" font-size="28" text-anchor="start" fill="#000" stroke="#000">0.0</text>
<text x="1034.5" y="2303.0" font-size="28" text-anchor="start" fill="#000" stroke="#000">−0.5</text>
<text x="1034.5" y="2347.2" font-size="28" text-anchor="start" fill="#000" stroke="#000">−1.0</text>
</svg>
</body></html>
